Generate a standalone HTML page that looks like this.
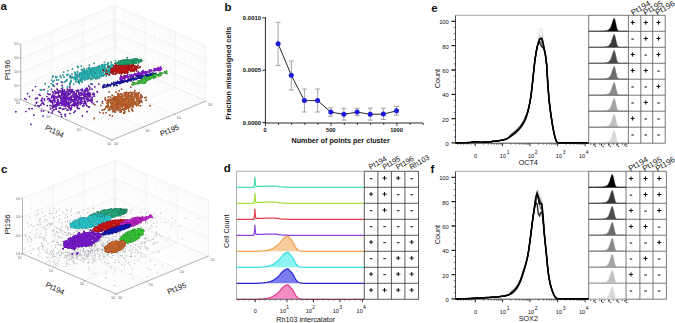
<!DOCTYPE html>
<html><head><meta charset="utf-8"><style>
html,body{margin:0;padding:0;background:#fff;width:675px;height:323px;overflow:hidden}
svg{display:block}
text{font-family:"Liberation Sans",sans-serif}
</style></head><body><svg width="675" height="323" viewBox="0 0 675 323"><path d="M30 103.6L124 64.6M121.4 136.1L30.2 95.6M30.2 95.6L30.2 40.1M124 64.6L124 9.1M35.3 105.9L129.3 66.9M126.9 133.8L35.7 93.3M35.7 93.3L35.7 37.8M129.3 66.9L129.3 11.4M39.1 107.6L133.1 68.6M130.9 132.2L39.7 91.7M39.7 91.7L39.7 36.2M133.1 68.6L133.1 13.1M42 108.9L136 69.9M133.9 130.9L42.7 90.4M42.7 90.4L42.7 34.9M136 69.9L136 14.4M44.5 110L138.5 71M136.4 129.9L45.2 89.4M45.2 89.4L45.2 33.9M138.5 71L138.5 15.5M46.5 110.9L140.5 71.9M138.5 129L47.3 88.5M47.3 88.5L47.3 33M140.5 71.9L140.5 16.4M48.3 111.7L142.3 72.7M140.3 128.3L49.1 87.8M49.1 87.8L49.1 32.3M142.3 72.7L142.3 17.2M49.8 112.4L143.8 73.4M141.9 127.6L50.7 87.1M50.7 87.1L50.7 31.6M143.8 73.4L143.8 17.9M60.4 117.1L154.4 78.1M152.8 123.1L61.6 82.6M61.6 82.6L61.6 27.1M154.4 78.1L154.4 22.6M65.7 119.4L159.7 80.4M158.3 120.8L67.1 80.3M67.1 80.3L67.1 24.8M159.7 80.4L159.7 24.9M69.5 121.1L163.5 82.1M162.2 119.2L71 78.7M71 78.7L71 23.2M163.5 82.1L163.5 26.6M72.4 122.4L166.4 83.4M165.2 117.9L74 77.4M74 77.4L74 21.9M166.4 83.4L166.4 27.9M74.9 123.5L168.9 84.5M167.7 116.9L76.5 76.4M76.5 76.4L76.5 20.9M168.9 84.5L168.9 29M76.9 124.4L170.9 85.4M169.8 116L78.6 75.5M78.6 75.5L78.6 20M170.9 85.4L170.9 29.9M78.7 125.2L172.7 86.2M171.6 115.3L80.4 74.8M80.4 74.8L80.4 19.3M172.7 86.2L172.7 30.7M80.2 125.9L174.2 86.9M173.2 114.6L82 74.1M82 74.1L82 18.6M174.2 86.9L174.2 31.4M90.8 130.6L184.8 91.6M184.1 110.1L92.9 69.6M92.9 69.6L92.9 14.1M184.8 91.6L184.8 36.1M96.1 132.9L190.1 93.9M189.6 107.8L98.4 67.3M98.4 67.3L98.4 11.8M190.1 93.9L190.1 38.4M99.9 134.6L193.9 95.6M193.5 106.2L102.3 65.7M102.3 65.7L102.3 10.2M193.9 95.6L193.9 40.1M102.8 135.9L196.8 96.9M196.6 104.9L105.4 64.4M105.4 64.4L105.4 8.9M196.8 96.9L196.8 41.4M105.3 137L199.3 98M199 103.9L107.8 63.4M107.8 63.4L107.8 7.9M199.3 98L199.3 42.5M107.3 137.9L201.3 98.9M201.1 103L109.9 62.5M109.9 62.5L109.9 7M201.3 98.9L201.3 43.4M109.1 138.7L203.1 99.7M203 102.3L111.8 61.8M111.8 61.8L111.8 6.3M203.1 99.7L203.1 44.2M110.6 139.4L204.6 100.4M204.6 101.6L113.4 61.1M113.4 61.1L113.4 5.6M204.6 100.4L204.6 44.9M20.8 95.3L114.8 56.3M114.8 56.3L206 96.8M20.8 92.9L114.8 53.9M114.8 53.9L206 94.4M20.8 91.1L114.8 52.1M114.8 52.1L206 92.6M20.8 89.8L114.8 50.8M114.8 50.8L206 91.3M20.8 88.7L114.8 49.7M114.8 49.7L206 90.2M20.8 87.8L114.8 48.8M114.8 48.8L206 89.3M20.8 87L114.8 48M114.8 48L206 88.5M20.8 86.3L114.8 47.3M114.8 47.3L206 87.8M20.8 81.4L114.8 42.4M114.8 42.4L206 82.9M20.8 79L114.8 40M114.8 40L206 80.5M20.8 77.3L114.8 38.3M114.8 38.3L206 78.8M20.8 75.9L114.8 36.9M114.8 36.9L206 77.4M20.8 74.8L114.8 35.8M114.8 35.8L206 76.3M20.8 73.9L114.8 34.9M114.8 34.9L206 75.4M20.8 73.1L114.8 34.1M114.8 34.1L206 74.6M20.8 72.4L114.8 33.4M114.8 33.4L206 73.9M20.8 67.6L114.8 28.6M114.8 28.6L206 69.1M20.8 65.1L114.8 26.1M114.8 26.1L206 66.6M20.8 63.4L114.8 24.4M114.8 24.4L206 64.9M20.8 62.1L114.8 23.1M114.8 23.1L206 63.6M20.8 61L114.8 22M114.8 22L206 62.5M20.8 60L114.8 21M114.8 21L206 61.5M20.8 59.2L114.8 20.2M114.8 20.2L206 60.7M20.8 58.5L114.8 19.5M114.8 19.5L206 60M20.8 53.7L114.8 14.7M114.8 14.7L206 55.2M20.8 51.3L114.8 12.3M114.8 12.3L206 52.8M20.8 49.5L114.8 10.5M114.8 10.5L206 51M20.8 48.2L114.8 9.2M114.8 9.2L206 49.7M20.8 47.1L114.8 8.1M114.8 8.1L206 48.6M20.8 46.1L114.8 7.1M114.8 7.1L206 47.6M20.8 45.3L114.8 6.3M114.8 6.3L206 46.8M20.8 44.6L114.8 5.6M114.8 5.6L206 46.1M31.9 257.8L124.4 219.8M125.3 290.2L31.8 250M31.8 250L31.8 194.5M124.4 219.8L124.4 164.3M37.4 260.2L129.9 222.2M130.7 288L37.2 247.8M37.2 247.8L37.2 192.3M129.9 222.2L129.9 166.7M41.3 261.9L133.8 223.9M134.6 286.4L41.1 246.2M41.1 246.2L41.1 190.7M133.8 223.9L133.8 168.4M44.3 263.2L136.8 225.2M137.6 285.1L44.1 244.9M44.1 244.9L44.1 189.4M136.8 225.2L136.8 169.7M46.8 264.2L139.3 226.2M140 284.1L46.5 243.9M46.5 243.9L46.5 188.4M139.3 226.2L139.3 170.7M48.8 265.1L141.3 227.1M142.1 283.3L48.6 243.1M48.6 243.1L48.6 187.6M141.3 227.1L141.3 171.6M50.6 265.9L143.1 227.9M143.8 282.6L50.3 242.4M50.3 242.4L50.3 186.9M143.1 227.9L143.1 172.4M52.2 266.6L144.7 228.6M145.4 281.9L51.9 241.7M51.9 241.7L51.9 186.2M144.7 228.6L144.7 173.1M63 271.2L155.5 233.2M156.1 277.5L62.6 237.3M62.6 237.3L62.6 181.8M155.5 233.2L155.5 177.7M68.5 273.6L161 235.6M161.5 275.3L68 235.1M68 235.1L68 179.6M161 235.6L161 180.1M72.4 275.3L164.9 237.3M165.4 273.7L71.9 233.5M71.9 233.5L71.9 178M164.9 237.3L164.9 181.8M75.5 276.6L168 238.6M168.4 272.5L74.9 232.3M74.9 232.3L74.9 176.8M168 238.6L168 183.1M77.9 277.6L170.4 239.6M170.8 271.5L77.3 231.3M77.3 231.3L77.3 175.8M170.4 239.6L170.4 184.1M80 278.5L172.5 240.5M172.9 270.6L79.4 230.4M79.4 230.4L79.4 174.9M172.5 240.5L172.5 185M81.8 279.3L174.3 241.3M174.7 269.9L81.2 229.7M81.2 229.7L81.2 174.2M174.3 241.3L174.3 185.8M83.4 280L175.9 242M176.3 269.2L82.8 229M82.8 229L82.8 173.5M175.9 242L175.9 186.5M94.2 284.6L186.7 246.6M186.9 264.9L93.4 224.7M93.4 224.7L93.4 169.2M186.7 246.6L186.7 191.1M99.7 287L192.2 249M192.4 262.6L98.9 222.4M98.9 222.4L98.9 166.9M192.2 249L192.2 193.5M103.6 288.7L196.1 250.7M196.2 261L102.7 220.8M102.7 220.8L102.7 165.3M196.1 250.7L196.1 195.2M106.6 290L199.1 252M199.2 259.8L105.7 219.6M105.7 219.6L105.7 164.1M199.1 252L199.1 196.5M109.1 291L201.6 253M201.7 258.8L108.2 218.6M108.2 218.6L108.2 163.1M201.6 253L201.6 197.5M111.2 291.9L203.7 253.9M203.7 258L110.2 217.8M110.2 217.8L110.2 162.3M203.7 253.9L203.7 198.4M113 292.7L205.5 254.7M205.5 257.2L112 217M112 217L112 161.5M205.5 254.7L205.5 199.2M114.6 293.4L207.1 255.4M207.1 256.6L113.6 216.4M113.6 216.4L113.6 160.9M207.1 255.4L207.1 199.9M22.5 248.2L115 210.2M115 210.2L208.5 250.4M22.5 245L115 207M115 207L208.5 247.2M22.5 242.7L115 204.7M115 204.7L208.5 244.9M22.5 240.9L115 202.9M115 202.9L208.5 243.1M22.5 239.4L115 201.4M115 201.4L208.5 241.6M22.5 238.2L115 200.2M115 200.2L208.5 240.4M22.5 237.1L115 199.1M115 199.1L208.5 239.3M22.5 236.1L115 198.1M115 198.1L208.5 238.3M22.5 229.7L115 191.7M115 191.7L208.5 231.9M22.5 226.5L115 188.5M115 188.5L208.5 228.7M22.5 224.2L115 186.2M115 186.2L208.5 226.4M22.5 222.4L115 184.4M115 184.4L208.5 224.6M22.5 220.9L115 182.9M115 182.9L208.5 223.1M22.5 219.7L115 181.7M115 181.7L208.5 221.9M22.5 218.6L115 180.6M115 180.6L208.5 220.8M22.5 217.6L115 179.6M115 179.6L208.5 219.8M22.5 211.2L115 173.2M115 173.2L208.5 213.4M22.5 208L115 170M115 170L208.5 210.2M22.5 205.7L115 167.7M115 167.7L208.5 207.9M22.5 203.9L115 165.9M115 165.9L208.5 206.1M22.5 202.4L115 164.4M115 164.4L208.5 204.6M22.5 201.2L115 163.2M115 163.2L208.5 203.4M22.5 200.1L115 162.1M115 162.1L208.5 202.3M22.5 199.1L115 161.1M115 161.1L208.5 201.3" stroke="#f4f4f4" stroke-width="0.4" fill="none"/><path d="M20.8 99.5L114.8 60.5M112 140L20.8 99.5M20.8 99.5L20.8 44M114.8 60.5L114.8 5M51.2 113L145.2 74M143.3 127L52.1 86.5M52.1 86.5L52.1 31M145.2 74L145.2 18.5M81.6 126.5L175.6 87.5M174.7 114L83.5 73.5M83.5 73.5L83.5 18M175.6 87.5L175.6 32M112 140L206 101M206 101L114.8 60.5M114.8 60.5L114.8 5M206 101L206 45.5M20.8 99.5L114.8 60.5M114.8 60.5L206 101M20.8 85.6L114.8 46.6M114.8 46.6L206 87.1M20.8 71.8L114.8 32.8M114.8 32.8L206 73.2M20.8 57.9L114.8 18.9M114.8 18.9L206 59.4M20.8 44L114.8 5M114.8 5L206 45.5M22.5 253.8L115 215.8M116 294L22.5 253.8M22.5 253.8L22.5 198.3M115 215.8L115 160.3M53.7 267.2L146.2 229.2M146.8 281.3L53.3 241.1M53.3 241.1L53.3 185.6M146.2 229.2L146.2 173.7M84.8 280.6L177.3 242.6M177.7 268.7L84.2 228.5M84.2 228.5L84.2 173M177.3 242.6L177.3 187.1M116 294L208.5 256M208.5 256L115 215.8M115 215.8L115 160.3M208.5 256L208.5 200.5M22.5 253.8L115 215.8M115 215.8L208.5 256M22.5 235.3L115 197.3M115 197.3L208.5 237.5M22.5 216.8L115 178.8M115 178.8L208.5 219M22.5 198.3L115 160.3M115 160.3L208.5 200.5" stroke="#e6e6e6" stroke-width="0.5" fill="none"/><path d="M20.8 99.5L20.8 44M20.8 99.5L112 140M112 140L206 101M20.8 99.5L19.3 99.5M20.8 85.6L19.3 85.6M20.8 71.8L19.3 71.8M20.8 57.9L19.3 57.9M20.8 44L19.3 44M20.8 99.5L19.6 100.5M112 140L113.2 141M51.2 113L50 114M143.3 127L144.5 128M81.6 126.5L80.4 127.5M174.7 114L175.9 115M112 140L110.8 141M206 101L207.2 102M22.5 253.8L22.5 198.3M22.5 253.8L116 294M116 294L208.5 256M22.5 253.8L21 253.8M22.5 235.3L21 235.3M22.5 216.8L21 216.8M22.5 198.3L21 198.3M22.5 253.8L21.3 254.8M116 294L117.2 295M53.7 267.2L52.5 268.2M146.8 281.3L148 282.3M84.8 280.6L83.6 281.6M177.7 268.7L178.9 269.7M116 294L114.8 295M208.5 256L209.7 257" stroke="#888" stroke-width="0.6" fill="none"/><text x="18.3" y="100.7" font-size="3.8" text-anchor="end" fill="#666">10</text><text x="18.3" y="86.8" font-size="3.8" text-anchor="end" fill="#666">10</text><text x="18.3" y="73" font-size="3.8" text-anchor="end" fill="#666">10</text><text x="18.3" y="59.1" font-size="3.8" text-anchor="end" fill="#666">10</text><text x="18.3" y="45.2" font-size="3.8" text-anchor="end" fill="#666">10</text><text x="17.8" y="104.2" font-size="3.8" text-anchor="middle" fill="#666">10</text><text x="116" y="144.7" font-size="3.8" text-anchor="middle" fill="#666">10</text><text x="48.2" y="117.7" font-size="3.8" text-anchor="middle" fill="#666">10</text><text x="147.3" y="131.7" font-size="3.8" text-anchor="middle" fill="#666">10</text><text x="78.6" y="131.2" font-size="3.8" text-anchor="middle" fill="#666">10</text><text x="178.7" y="118.7" font-size="3.8" text-anchor="middle" fill="#666">10</text><text x="109" y="144.7" font-size="3.8" text-anchor="middle" fill="#666">10</text><text x="210" y="105.7" font-size="3.8" text-anchor="middle" fill="#666">10</text><g fill="none" stroke-linecap="round" stroke="#450e78" stroke-width="1.7"><path id="k16" d="M94.5 96.2h0M29.5 96.6h0M70.6 89.5h0M58.5 102.5h0M59.1 95.7h0M61.5 88.5h0M37.4 98.5h0M63.6 105h0M53.6 97.6h0M112.9 98.5h0M70.5 108.4h0M61.1 99.9h0M61.1 92.3h0M55.6 91.9h0M51.3 100.9h0M61.4 105.4h0M72.9 99.8h0M63.2 103h0M78.9 94.3h0M63.5 101.3h0M65.9 95.9h0M87.1 93.9h0M72.4 89.6h0M57.6 89.9h0M63 96.3h0M72.5 90.8h0M92 89.1h0M62.9 103.8h0M62.5 98.8h0M82.5 115.8h0M54.5 106.7h0M61.4 95.5h0M78.9 102.3h0M74.4 100.2h0M66.6 94.4h0M76.3 104.8h0M26.1 99.5h0M77.4 77.3h0M53.4 106h0M42.3 98.3h0M71.2 108h0M75.1 93.5h0M58.8 92.3h0M52.5 111.1h0M65.4 92h0M65.5 100.4h0M86.8 105.6h0M76.5 98.3h0M68.6 98.1h0M81.5 97.5h0M63.9 104.8h0M52.4 95.6h0M74.6 101.8h0M74.6 101.6h0M65.1 114.4h0M54.8 98.4h0M68.3 92.7h0M32.1 108.6h0M75.2 95.1h0M73.1 99.9h0M43.4 103h0M67.9 106.4h0M52 96.7h0M76.4 96.9h0M35.5 86.5h0M52.5 95.1h0M77.2 107.5h0M81.4 92.4h0M35.4 98.7h0M58 92.1h0M71.1 102.1h0M57.7 101.3h0M87 88.3h0M50.1 105.6h0M71.2 100h0M52.1 105.9h0M84.9 92.1h0M67.3 110.2h0M61.2 102.4h0M42.1 101.6h0M88.8 92.4h0M76.2 96h0M77.2 103.1h0M81.5 95.1h0M71.8 105.3h0M57.7 104h0M56.1 109.2h0M55.6 105.8h0M84.9 95.9h0M44 89.6h0M58 102.1h0M62.3 104.7h0M69.3 99.6h0M74.5 101.5h0M48.3 98.4h0M41.7 99.9h0M65.1 92.9h0M84.1 105.4h0M76.6 98.5h0M68.5 95.4h0M60.4 91h0M69.9 97.4h0M63.9 108.8h0M77.7 100.4h0M54.3 95.9h0M69.2 107.9h0M65.8 108.4h0M74.4 104.3h0M69.8 103.6h0M102.4 101.5h0M87.3 99.6h0M87.5 101.1h0M37 98h0M62.6 109.3h0M57.8 101.7h0M75.2 111h0M32.6 90.3h0M82.9 101.3h0M81.7 103.2h0M47.6 99.3h0M52.8 103.8h0M55.6 105.4h0M67.1 102.6h0M74.4 94.3h0M94.3 94.1h0M64.2 105.9h0M77.8 105.7h0M68.2 99.3h0M90.5 96.1h0M76.5 98.8h0M85.9 103h0M50.1 94.3h0M62.1 90.8h0M54.8 101.4h0M85.9 88.9h0M74.6 93.9h0M61.8 100.2h0M60.2 103h0M71.7 91.2h0M57 105.5h0M51.5 89.4h0M73.2 101.6h0M98.7 84h0M61.4 91.3h0M58.9 104.2h0M49.4 98.7h0M46.8 96.5h0M72.9 95.1h0M78.2 100.3h0M66.1 98.6h0M70.6 98.2h0M68.6 105.6h0M67.3 94.1h0M44.4 98.9h0M59.2 96.5h0M68.6 106.3h0M56 106.9h0M60.6 108.2h0M54.6 100.4h0M61.2 98.6h0M78.6 102.8h0M60 97.3h0M64.6 104.6h0M77.9 102.1h0M74.3 93.2h0M89.4 95.2h0M36.9 102.3h0M79.4 108.5h0M61.7 116.6h0M67.8 98.1h0M77.6 97.5h0M79 82.2h0M80.6 98.3h0M68.1 98.7h0M87.3 89h0M62.8 104.6h0M62.6 89.2h0M76.9 96.1h0M58.5 101h0M94.8 86.8h0M80.9 102.5h0M97.1 101.6h0M64.4 90.1h0M59.4 90.7h0M68.9 102.6h0M76.2 97.4h0M56.8 92.3h0M71 96.4h0M65.7 98.3h0M88.3 94.9h0M57.6 105.6h0M80.9 99.4h0M58.7 111.6h0M53.9 109.7h0M56.8 104.8h0M50.5 108.3h0M69.2 107.2h0M80.9 101.5h0M67.2 90.8h0M75.4 103.3h0M88.7 96.3h0M71.2 108.9h0M68.8 99.2h0M62.7 102.9h0M44 104.3h0M78.1 108.3h0M41.8 103.6h0M74.8 96h0M66.1 101h0M81.2 94h0M65.2 100.2h0M54.6 100.6h0M71.2 100.1h0M60 112.5h0M63.1 96.7h0M66.6 99.2h0M64 98h0M64 103.7h0M53.4 93h0M62.8 94.9h0M36.3 102.9h0M64.3 102.8h0M49.3 101h0M81.1 93.6h0M82.8 90.9h0M39.4 106.1h0M69.3 108h0M64.5 101.3h0M51.7 102.3h0M73.8 100.8h0M58.7 93.8h0M41.2 100.4h0M62.1 97.8h0M64.2 101.2h0M67.4 98.6h0M47.8 93.6h0M75.6 105h0M77.7 108.5h0M49.9 99.5h0M57.2 102.9h0M65.1 100.9h0M58.9 105.2h0M88.8 86.1h0M70.3 109h0M51.6 98h0M56.2 108.7h0M65.3 99.6h0M97.5 92h0M63.4 98.4h0M68.6 104.5h0M72.3 92.4h0M65.1 96.7h0M97.2 91.5h0M57.1 89h0M77.5 105.9h0M68.7 102.4h0M74.6 97.7h0M50.7 108.8h0M89.6 89.4h0M64.2 98.8h0M68 110h0M53.9 107.1h0M53.9 86.1h0M70.8 76.5h0M78.7 90.4h0M77.4 104.4h0M82.3 93.6h0M75.7 96.2h0M66.9 102.9h0M76.8 91.7h0M74.4 99.2h0M65.3 104.3h0M76.5 100.6h0M84.2 99h0M68.7 94.7h0M61.5 103h0M75.6 94.8h0M93.5 103.7h0M65.4 116h0M64.1 94.4h0M62.1 85.3h0M82.6 93.9h0M40.9 105h0M72 105h0M83.5 103.6h0M54 95.5h0M85.9 91h0M74.6 106.1h0M57.4 93h0M69.8 105.6h0M44.5 100.5h0M58.9 105h0M92 100h0M54.3 105.7h0M92.3 100.7h0M64 92.8h0M80.1 99h0M66.6 99h0M35.2 105.4h0M59.2 108.1h0M84.8 100.4h0M79 98.4h0M77 102.8h0M84.5 96.8h0M78.5 96.6h0M81.1 101h0M53.7 100.6h0M80.9 93.4h0M53.1 100.7h0M73.2 105h0M71.4 98.5h0M62.8 100.3h0M68.1 102.2h0M54.8 100.5h0M58.7 102h0M87.4 99h0M76.2 95.4h0M83.9 95.4h0M63.4 97.1h0M88.8 99.9h0M87.5 92h0M64.2 101.9h0M56.8 104.5h0M72 100.6h0M74.7 96.7h0M66.5 93.2h0M66.8 104.7h0M57.5 105.1h0M57.9 101.8h0M66 100.3h0M63.1 92.6h0M74.8 96.9h0M92.2 97.4h0M79.1 92.8h0M76 94.9h0M74 100.5h0M92.5 94.3h0M86.9 90.2h0M69.9 94.1h0M90.4 100.9h0M52.2 102.2h0M72.1 92.6h0M67.1 97.4h0M80.4 97.8h0M72.7 91.8h0M63.4 100.5h0M74.2 100.9h0M65.5 101.8h0M89.5 100.5h0M69.3 99h0M93.9 96h0M87.3 95.8h0M85.4 101.6h0M63.9 103.5h0M65.8 106h0M62.7 99.4h0M66.2 101.8h0M84 92.3h0M78.9 102.4h0M85.1 96h0M62.4 101.5h0M78.8 96.5h0M64.3 103.5h0M90.6 99.3h0M81.9 89.6h0M80.5 101.2h0M70.1 89.2h0M87.8 90.1h0M75.1 101.9h0M69.1 100.5h0M52.4 96.5h0M86.5 89.9h0M82.8 90.9h0M49.7 100.6h0M57.3 96.6h0M76.8 91.1h0M75.7 99h0M84.4 94h0M85.8 89.8h0M73 100.1h0M65.9 95.8h0M71.4 96h0M61.8 93.8h0M88.3 98.7h0M87.7 98.2h0M76.4 104.9h0M87.4 100.2h0M53.9 100.1h0M69.9 91.1h0M57.3 96.3h0M77.1 95.7h0M64.9 98.4h0M54.8 101.5h0M79.6 99.5h0M86 94.5h0M62.8 92.4h0M89.5 94.8h0M82.2 94.7h0M82.4 98.7h0M65 96.3h0M53.5 100h0M71.8 90.3h0M80.1 97.5h0M65.2 94.5h0M65 96.1h0M60 103.5h0M81.1 99.8h0M62.9 91.1h0M83.4 97.6h0M63 104.3h0M90.1 96.8h0M65 106h0M72.8 104.7h0M55.2 93.6h0M64.3 92.3h0M71.6 97.1h0M61.2 101.2h0M71.8 90.2h0M64.4 94.1h0M53.7 97.9h0M73.1 94.5h0M90 94.4h0M58 99.6h0M93.4 93.3h0M67.5 96.4h0M61.9 101.9h0M52.3 100.7h0M63.5 94h0M66.3 103.4h0M83.5 94h0M66.8 99.8h0M62.5 95.1h0M85 90h0M80.9 90h0M65.7 93.9h0M67.1 91.2h0M72.1 89.9h0M54.1 95.4h0M67.2 98.8h0M79.2 94.7h0M84.7 103.2h0M80.7 99.9h0M65 105.2h0M74.4 104h0M92.9 94h0M65.7 97.7h0M88 90.3h0M51.5 97.1h0M74.7 101.3h0M85.1 91h0M73.3 96.9h0M87.7 101.4h0M73 91.9h0M53.8 96.3h0M81.5 103.4h0M70.2 98.9h0M69 89.8h0M75.1 99.7h0M64.7 96.2h0M56.8 97.9h0M60.6 97.9h0M80.3 102.9h0M76.2 93.7h0M54.3 97.7h0M63.8 91.4h0M55.7 93.2h0M66.3 103h0M70.5 93.1h0M58.5 102.8h0M88 92.6h0M51 101.9h0M78.6 103h0M57.4 100.3h0M62.5 101.4h0M90.4 93.4h0M66.2 104.5h0M76.6 95.6h0M84.4 96.9h0M78.5 99.4h0M68.1 103.7h0M70.7 92.4h0M64.5 96.3h0M57.9 102.1h0M56.5 102.7h0M78.8 92.6h0M77.1 104.6h0M73.4 94.7h0M68.3 99.4h0M64.5 91.6h0M78.4 91h0M54.4 102.5h0M80.3 104.4h0M73.6 103.4h0M73.2 105.1h0M87.6 99.8h0M57.6 101.7h0M61.5 93.8h0M55.3 104.8h0M84.8 94.8h0M85.6 94h0M74 91.5h0M76.2 90.5h0M70 99.7h0M72.2 90.6h0M76.3 97.6h0M86.1 96.7h0M86.1 98.4h0M65.6 104h0M68.9 91.4h0M89.6 97h0M69.4 98.7h0M60.9 95.9h0M82.6 90.4h0M58.2 96.8h0M73.4 105.1h0M86.8 99.2h0M54.7 99.1h0M77.8 90.3h0M82.4 89h0M70.9 97.2h0M55.4 96.7h0M43.5 111.1h0M80.4 92.9h0M68.7 105h0M52.2 113.1h0M63.5 102.6h0M92 98.8h0M88.3 106.8h0M71.4 107.6h0M69.9 87h0M54.7 91.2h0M61.2 114.3h0M75.7 103.7h0M57.2 83.9h0M67.2 89.1h0M38.1 105.7h0M24.8 98.5h0M25.9 111.5h0M52.9 104.1h0M91.9 102.4h0M86.7 88.1h0M41.4 110.7h0M30.9 124.3h0M78.7 92.6h0M74.1 112.4h0M33.8 115.1h0M86.2 104.6h0M66.1 101h0M89.8 87.7h0M68.7 93.3h0M82.7 106.2h0M70.6 109.9h0M43.1 116h0M58.5 111.4h0M48.7 112.3h0M79.9 95.7h0M39.1 94.5h0M29.2 108.7h0M77.8 104.5h0M87.4 99.4h0M91.9 84.2h0M85.5 94.2h0M27.6 93.6h0M47.3 105.6h0M49 94.5h0M61.6 100.8h0M15.8 111.7h0M62.3 103.4h0M70 113.5h0M40.2 95.3h0M62.1 82.4h0M89.4 107h0M65 114.6h0M87.1 111.7h0M84.7 101.6h0M71.9 105.8h0M70.8 102.1h0M52.6 91.8h0M88.6 93.3h0M52.6 108.1h0"/></g><use href="#k16" fill="none" stroke-linecap="round" stroke="#7418c8" stroke-width="1.2"/><g fill="none" stroke-linecap="round" stroke="#753a19" stroke-width="1.7"><path id="k17" d="M117.3 105.8h0M142 101.8h0M105.5 98.7h0M118.5 104.6h0M131.6 93.7h0M116.8 105.1h0M111.6 105.7h0M107.8 100.2h0M115.5 104.6h0M138.3 103.3h0M126.9 103.1h0M128 103.3h0M116.2 99.3h0M129.6 96.6h0M122 96.5h0M113.6 104.9h0M119.4 108.6h0M124.8 103.4h0M133.6 98.9h0M120.4 96.9h0M127.7 102.7h0M141.5 95.6h0M112.2 95.2h0M108.2 97.1h0M131.4 97.8h0M125.5 96.6h0M123.4 109.8h0M124.9 101.4h0M117.9 98h0M126.7 98.3h0M121.1 110.1h0M128.9 95.5h0M112 108.5h0M115 106.1h0M125.3 108.4h0M118.5 105.6h0M128.6 98.3h0M122.6 104.5h0M117.2 103.6h0M125.6 105.9h0M117.2 103h0M109.8 115.1h0M111.3 104.4h0M115.2 106h0M117 100.1h0M123.5 102.3h0M131.2 99.7h0M127.9 101.3h0M140.7 101.5h0M134.1 96.2h0M119.6 98.5h0M139.7 102.8h0M133.5 97.6h0M117.2 100h0M126.9 106.5h0M134 102.7h0M121.5 89.1h0M131.8 97.6h0M127.2 104.6h0M130.3 104h0M118.8 100.4h0M128.1 108.2h0M118 99.2h0M128.7 99.1h0M106.3 106.9h0M125.7 101.1h0M135.6 102.5h0M129.3 105.2h0M122.2 101.8h0M129.4 107h0M113.5 101h0M114.2 103.2h0M121.1 110.9h0M121.2 102.8h0M133.1 104.4h0M113.3 102.3h0M131.8 98.2h0M107.2 105.6h0M115.1 104.8h0M121.7 100.5h0M133.7 99.1h0M117.4 106.7h0M103.3 113.1h0M126.7 101.4h0M123 105.1h0M113.2 109h0M111.1 99.8h0M113.8 96.6h0M125.4 109.2h0M130.5 106.4h0M108.3 106.1h0M145 97.7h0M121 97.8h0M117.2 96.6h0M129.4 101.8h0M121.7 94.9h0M146.2 100.2h0M132.2 96.1h0M119.3 104.3h0M121.1 112h0M120 112h0M118.8 101.7h0M130.3 105.2h0M115 98.9h0M137.3 95.2h0M122.1 103.9h0M122.8 108.8h0M130.9 96.9h0M104 109.6h0M113.5 104.9h0M126.7 94.6h0M122.4 101.4h0M124.2 109h0M126.2 100.6h0M117.3 105.9h0M121.8 106.3h0M108.4 102.1h0M105.9 112.6h0M136.5 105.7h0M115.4 111.8h0M117.1 109.9h0M135.3 96.3h0M131.9 96.6h0M116.4 99.7h0M116.2 99.2h0M120.6 98.5h0M114.4 109.1h0M129.5 107.3h0M123 98.7h0M124.7 105.4h0M128.1 94.2h0M128.9 98.6h0M139 92.6h0M135 90.5h0M105.9 106.7h0M131.2 100h0M111.1 103h0M108 103.3h0M128 95.6h0M115.4 103.2h0M118.6 100h0M133 100.3h0M114.5 98.1h0M114 105.3h0M126.2 103.5h0M135.7 104.5h0M128.8 105.4h0M107.6 106.9h0M115.2 100.5h0M118.6 93.9h0M141 96.9h0M132.8 106.2h0M132.7 107.4h0M130.8 87.1h0M118.5 99.2h0M126.6 99.1h0M125.8 95.8h0M113.2 105.3h0M122.3 102.2h0M127.2 98.1h0M111.9 104.6h0M128.2 92.5h0M128.5 95.5h0M131.3 95.1h0M116 108.1h0M121.4 94.1h0M136.2 97.2h0M131 103.5h0M114.7 103.7h0M125.6 105.1h0M135.3 95.2h0M122.2 104.1h0M127.2 105.1h0M150 105.6h0M122.9 105.4h0M123.1 108.8h0M112.7 104.6h0M116.1 104.1h0M138.7 105.4h0M121.7 105h0M112.6 111.6h0M114.2 107.7h0M125 111.8h0M132.7 111h0M114.1 100h0M131.5 108.8h0M118.1 105.3h0M126.3 103.3h0M127.2 100.1h0M129 103.8h0M116.7 98h0M119.7 99.1h0M126.2 97.2h0M110.1 106.7h0M125 105.9h0M128.1 104.2h0M132.7 101.1h0M121.1 99.4h0M118.2 94.4h0M124 103.6h0M115.2 104.7h0M120.5 104.3h0M127.8 107.7h0M124.6 100.5h0M111.7 103.9h0M116 92.2h0M102.3 110.2h0M129.7 99.8h0M116 100.1h0M124.8 103.3h0M110.1 100.1h0M120.5 99.9h0M128.7 110.1h0M132.4 103.1h0M110 110h0M131 103.5h0M121.1 105.6h0M114.7 105.1h0M129.3 111.5h0M119 102.6h0M119.9 106.3h0M114.8 103h0M123.6 100h0M119.2 90.8h0M117.8 93.7h0M114.6 111.8h0M118.8 110.4h0M125.2 99.1h0M134.2 98.7h0M122.3 105.1h0M134.3 93.9h0M123.9 110.4h0M110 100.1h0M127 97.2h0M109.1 91.8h0M127.6 108.1h0M132.2 99.6h0M120.9 110.4h0M119.7 97.7h0M146.1 97.3h0M124.2 101.8h0M124.6 102.4h0M131.9 109.7h0M123.7 112.9h0M122.7 108.7h0M125 99.3h0M99.9 112.4h0M137.2 104.7h0M112.2 107.5h0M112.1 107.5h0M127.6 102.9h0M121 97.9h0M110.1 106.5h0M125.9 109h0M109.6 100.4h0M115.2 104.3h0M108.4 109.9h0M112.2 97.9h0M125.5 100.4h0M120.9 93.9h0M124.1 98.5h0M129 93.2h0M120.3 98h0M114.9 101.5h0M118.8 101.5h0M137.5 96.9h0M119.2 90.8h0M126.9 108.6h0M120.6 101h0M122.8 96.3h0M125.2 98h0M122.1 103.5h0M119.1 97.8h0M113.8 102.1h0M113.1 102.1h0M126.4 103.5h0M128.1 96.6h0M131.3 101.8h0M122.8 103.5h0M113.7 103.5h0M129.4 106.2h0M127.8 100.6h0M105.9 100.5h0M129.9 101.4h0M127.6 101.1h0M137.8 97.6h0M111.3 106h0M112.4 116.2h0M129.7 101.1h0M105.1 108.8h0M114.5 102.8h0M112.9 110.9h0M112 104.4h0M102.5 103.2h0M118 97h0M131.9 102h0M127 104.3h0M124.2 93.5h0M117.5 99.6h0M136.6 101.3h0M123 98.7h0M120.3 103.8h0M120.7 102.7h0M128.8 100.5h0M119.9 103.9h0M136.3 95.7h0M133.6 100.4h0M139.1 93h0M132.3 93.8h0M125 92.8h0M133.8 104.4h0M132 92.3h0M141.4 95.2h0M119.9 106.7h0M130.5 102.3h0M127.3 102.1h0M124.3 109h0M124.7 104.9h0M141.1 100.2h0M129.1 106.5h0M114.3 109.2h0M123.6 99.5h0M141.4 96h0M129.3 99.7h0M137.1 93.6h0M126.5 99.4h0M141.4 95.2h0M119.6 102.2h0M119.1 104.5h0M127.6 105.5h0M122.8 104.7h0M124.5 103.6h0M124.3 105.9h0M120.3 102.9h0M137.4 100h0M135.9 103.1h0M112.7 106.4h0M137.9 98.3h0M128.1 96.4h0M119.9 96.5h0M125.7 107.1h0M124.2 93h0M136.8 96.6h0M126.4 92.4h0M122.3 106.5h0M111.9 100.1h0M119.1 95.4h0M126.7 98.1h0M111.6 108.8h0M125 108.3h0M119.3 103.9h0M138.8 98.9h0M130.7 95.2h0M119.5 99.1h0M115.5 102.5h0M117.3 101.8h0M140.7 94.6h0M140.7 98.2h0M136.3 93.9h0M122.6 104.8h0M108.3 105.1h0M115.5 104.8h0M119.7 107.5h0M122.3 102.3h0M107.3 102.1h0M121 106.3h0M128.2 106.7h0M130.3 99.4h0M121 105h0M107.9 104.3h0M139.1 99.2h0M138.1 99.2h0M131.4 95.4h0M138.7 97.4h0M139.7 101.1h0M115.4 109.3h0M115.1 96.8h0M116.6 98.2h0M111.9 102.4h0M109.6 108.6h0M117.1 105.5h0M137.3 99h0M121.6 97.8h0M130.8 94.9h0M132.9 98.5h0M122.9 108.9h0M107.9 107.7h0M124.8 105.8h0M119 95.1h0M119.7 94.8h0M133 105.6h0M129.2 106.5h0M131 97.2h0M111 100.7h0M129.3 103.4h0M117.2 107.3h0M120.2 102.8h0M123.1 100.2h0M130.3 92.3h0M127.1 94.9h0M134.4 102.2h0M137.6 100.5h0M121.8 100.4h0M117.8 96.3h0M138.2 100.9h0M119.5 102h0M128.7 92.8h0M122.8 95.4h0M131.3 94.5h0M113.8 102.4h0M120 102.7h0M117.5 100.1h0M121.2 98.2h0M126 107.8h0M121.7 95.1h0M113.8 109.8h0M131.9 98.8h0M125.3 108h0M125.1 94h0M131.2 94.9h0M124.9 93.8h0M118.8 99.6h0M134.2 93.4h0M133.4 99.8h0M116.5 107.6h0M138.4 95.9h0M115.3 102.8h0M114.8 110h0M124.9 103.6h0M121.1 109.3h0M142.2 97h0M117.7 95.5h0M136.4 98.7h0M121.8 94.2h0M138.6 98.7h0M136.7 104.1h0M110.5 107.3h0M130 100.8h0M137.4 99.2h0M129 99.3h0M135.9 95.7h0M120 99.7h0M119.7 96.5h0M135.4 103.8h0M127 100.5h0M125.3 105.6h0M119.4 102.3h0M123.6 96.4h0M113.6 105.2h0M122.7 102.1h0M133.8 100.4h0M133 104.5h0M113.7 106.4h0M124 103.9h0M114.3 106.1h0M121.9 100.8h0M124 104.1h0M135.2 96.6h0M116.7 102.1h0M137 96.3h0M117.8 103.1h0M109 101.5h0M140.5 95.9h0M113.8 109.2h0M118.4 95.5h0M124.8 94.4h0M127.6 107.7h0M120.1 104.1h0M121.7 102.9h0M132.4 102.1h0M120.6 109.7h0M122.3 106.9h0M126.4 94.4h0M133 97.9h0M137.7 97.6h0M112.5 98.4h0M115.1 98.2h0M123.8 102.7h0M127.4 95.6h0M115.5 106.4h0M129.9 100.7h0M127.5 100.6h0M116 96.9h0M126 100.3h0M114.4 102h0M137.5 95.8h0M129.1 106.8h0M127.4 104.2h0M126.6 98.5h0M116.7 109.8h0M116 97h0M109.5 101h0M112.3 107.9h0M118.7 95.7h0M121.3 99.7h0M130.5 99h0M136 92.8h0M120.4 97.6h0M117.2 108.2h0M111.6 99.5h0M124.8 106.7h0M128 99.1h0M115 98.1h0M131.1 104.1h0M126.5 96.1h0M123.7 95.5h0M137.1 96h0M127.5 99.9h0M112.7 104.3h0M129.9 102.3h0M133.4 103h0M131.8 99.4h0M131.9 103.4h0M122 95.9h0M131.3 99h0M115.6 104.4h0M115.8 97.7h0M130.8 105.2h0M109.9 99.3h0M114.8 97.9h0M110.4 102.8h0M142.3 97.2h0M109 99.6h0M135.5 101.5h0M136.7 99h0M134.3 92.2h0M129.2 95.5h0M137.6 93.7h0M130.9 101.3h0M121.9 104.8h0M128.6 103.9h0M119 107.5h0M132.4 102.5h0M115.6 102.3h0M125.4 98.3h0M128.6 99.2h0M127.9 92.5h0M108 106.3h0M114.9 109.1h0M118.4 108.3h0M112.9 99.7h0M117.1 97.8h0M115.8 108.6h0M114.1 100h0M136.1 103.8h0M132.8 100.1h0M126.2 95h0M131.7 105.7h0M132.1 94.2h0M138.3 94.7h0M140.6 105.7h0M114.5 104h0M138.5 102.1h0M126.4 98.8h0M136.6 99.5h0M116.8 108.5h0M118.3 105.7h0M137.8 104.2h0M127.5 101h0M124.5 113.1h0M110.3 96.8h0M118.8 101.4h0M127.5 107h0M128.7 100.4h0M113.6 103.4h0M114.3 96.3h0M127.1 108.3h0M105.2 98.1h0M132 103.4h0M120.6 104.8h0M119.9 108.5h0M94.2 118.4h0M100.8 105.4h0M107.1 103.2h0M112.9 104.2h0M105.1 99h0M125.4 106.7h0M121 101.6h0M117.1 105.5h0M94.9 104.8h0"/></g><use href="#k17" fill="none" stroke-linecap="round" stroke="#c4622a" stroke-width="1.2"/><g fill="none" stroke-linecap="round" stroke="#166d6d" stroke-width="1.7"><path id="k18" d="M97.7 75.1h0M88.5 70.5h0M95.2 70.3h0M82.3 69.5h0M109.9 73.5h0M89 73.7h0M67 79.9h0M102.6 65.1h0M92.7 71.5h0M86.6 76h0M125 62.3h0M95.5 70.8h0M80.5 74.4h0M91 79.6h0M100.3 68.9h0M92.6 68.2h0M110.3 66.1h0M108.4 67.1h0M87.2 74h0M96.6 70.8h0M102.8 66.2h0M91.4 72.4h0M91.3 74.3h0M105.3 64.6h0M103.2 75.9h0M81.6 81.2h0M88.5 68.1h0M91.3 71.9h0M95.8 74.9h0M89.2 77.9h0M113.3 72.4h0M83.6 69.4h0M82.9 71.9h0M98.4 69.4h0M70.8 80.6h0M83.6 71.9h0M104 70.8h0M81.5 77.3h0M87.2 76.5h0M107.8 64.2h0M101.8 70.7h0M97.1 71.7h0M98.9 69.6h0M89.7 77.7h0M99.8 69.8h0M95.4 76.6h0M124.8 61.7h0M104.2 74.9h0M94 77.6h0M95.2 69.5h0M97.5 72.5h0M80.9 77.2h0M86.2 71.6h0M114.9 69h0M80.9 78.1h0M89.2 71.1h0M108.5 68.7h0M114.8 69.4h0M84.7 74.7h0M112.9 64.9h0M93.9 77.8h0M115 63.4h0M102.8 71.1h0M94.4 76h0M105.8 71.7h0M101.7 64.6h0M87.6 73.4h0M121.4 64.3h0M92.6 72.4h0M110.6 69.9h0M91.6 75.1h0M75.8 78.3h0M84.1 76.4h0M96.5 75.2h0M105.7 73.3h0M115.5 60.6h0M99.6 78.1h0M93.1 71.3h0M83.3 78.3h0M94.9 67.3h0M99.9 69.5h0M70.2 75.6h0M112.8 70.8h0M110.7 70.8h0M123.1 64.5h0M86.2 74.5h0M97.6 73h0M96.2 69.2h0M81 74.6h0M86.3 72.6h0M86.1 77.7h0M102.7 70.4h0M100.7 66.9h0M112.6 68.6h0M92.6 74.9h0M81.8 80.7h0M101.4 68.9h0M101.4 72h0M106.2 75.9h0M110.9 66.9h0M89.7 72.9h0M106.4 70.9h0M84.7 73.9h0M98.6 71.5h0M104.3 68.3h0M94.7 70.1h0M100 73.9h0M80.3 75.5h0M88.4 71.2h0M98.2 70.7h0M82.7 75.6h0M87.1 75.7h0M125.6 66.7h0M101.2 76.3h0M86.1 71.2h0M84.5 74.7h0M111 62.1h0M64.4 82h0M92.7 74.8h0M102.7 68.2h0M88.6 71.4h0M101 67.6h0M82.4 71.3h0M96.1 74.1h0M97.8 77.7h0M94.8 68.9h0M98.7 76.5h0M95.9 71.8h0M107.3 64.5h0M93 74.8h0M89.4 76.4h0M92.6 74.3h0M91.8 72.5h0M79.3 82.2h0M73.2 77.7h0M80.4 78.6h0M99.3 73.2h0M87 71.8h0M89.1 68.2h0M127.1 57.7h0M108.1 67.3h0M93.3 73.9h0M86.6 69.1h0M110.7 65.5h0M87.7 79.3h0M108.2 62.9h0M102.6 71.6h0M111.7 68.6h0M87.7 76.9h0M104.6 64.9h0M74.7 79.2h0M92.2 68.7h0M108.9 72.5h0M102.7 67.3h0M74.5 79.4h0M102.6 67.6h0M100.7 71.1h0M93.3 67.9h0M87.2 75.4h0M92.6 74.9h0M88.7 74h0M107.6 73.8h0M101 71.7h0M108.3 70.9h0M103.7 71.4h0M82.1 81.9h0M96.3 69.8h0M119.8 64.3h0M82.3 75.2h0M99.1 73.1h0M86.5 75.5h0M85.7 77.6h0M98 72.4h0M105.5 67.7h0M104.1 69.5h0M101 72h0M104.4 62.4h0M77.7 81.7h0M104.3 67.9h0M99.7 69.9h0M93.4 73.6h0M95 71.6h0M84.2 70.8h0M108.5 67.7h0M87.8 78.8h0M79.1 80.2h0M96.3 75.9h0M88.1 72.6h0M94.3 71.9h0M113.7 70.4h0M95 77.1h0M96.8 72h0M120.7 62h0M77.5 71.3h0M100.8 75.3h0M107.6 64h0M113.2 68.6h0M122.1 67.5h0M90.5 84.1h0M102.6 70.9h0M94.2 72.4h0M90.6 75.2h0M87.5 76.3h0M79.7 81.2h0M99.9 73.3h0M103.5 67.6h0M81.4 69.7h0M104.5 70.8h0M88.5 72.2h0M84.9 80h0M64 77.2h0M108.4 69.3h0M103.2 67.9h0M91.1 70.9h0M92.4 78.6h0M80.6 77.2h0M101.4 70.2h0M95.4 74.8h0M101.1 68.3h0M97.3 70.7h0M78.7 75.2h0M79.2 83.5h0M100.7 72h0M76.5 79.9h0M99.8 74.8h0M106 68.8h0M80.7 76.2h0M102.2 65.2h0M96.7 73.6h0M102.3 71.3h0M88.2 73.2h0M96.8 75.9h0M99.4 65.5h0M117.6 67.4h0M103.4 65.7h0M100.9 67.2h0M80.9 75.9h0M101.2 75.1h0M87.3 70.9h0M94.6 69.5h0M98.3 67.7h0M109.3 75h0M103.7 71.8h0M98.9 72.8h0M97.5 78.5h0M112.4 68.4h0M84.3 68.8h0M96.5 70.5h0M111.4 64h0M95.9 78.8h0M104.9 65.1h0M107.1 70.1h0M119 64h0M109.3 67h0M77.3 77.7h0M96.4 71.7h0M99.3 69.1h0M105 65.7h0M100.4 68.9h0M117.4 62.7h0M113.8 69.4h0M108.5 70.5h0M97.5 72h0M91.8 73.5h0M96.9 76.9h0M83.4 76.3h0M85.8 75h0M97.4 70.7h0M82.9 75.5h0M115.2 67.9h0M94.7 73h0M100.5 66.6h0M96.5 68.9h0M100 66.7h0M89.7 69.4h0M102 75.2h0M95.3 74.7h0M85.9 78.7h0M96.2 74.1h0M86 74h0M93.9 75.2h0M92.7 68h0M114.6 68.2h0M85.4 71.3h0M96.1 74.5h0M98.1 70h0M108.6 65.8h0M80.1 75.4h0M114.1 68h0M111.6 69.4h0M93.8 69.8h0M95.9 76.1h0M76.1 77.1h0M99.9 67.9h0M96.2 71.3h0M108.7 68.4h0M81.6 73.1h0M85.8 78.2h0M75.9 77.2h0M77.4 78.4h0M83.6 78.5h0M113 67.3h0M102.2 68.7h0M88.7 75.7h0M101.9 70h0M108.7 68.2h0M81.7 76.9h0M85.6 73.7h0M76.4 78.4h0M85.4 74.6h0M95.7 71.1h0M92.7 69.7h0M107 70.4h0M98.5 71.5h0M83.3 73.7h0M92.3 76.7h0M97.7 66.9h0M111.9 68.4h0M95.1 75h0M76.5 75.2h0M94.2 67.9h0M80.9 79.8h0M81.8 75.9h0M88.8 76.2h0M90.5 78.4h0M82.6 79.4h0M88.9 70.2h0M89.9 72.9h0M106.8 71h0M88.9 73.2h0M107.5 65.1h0M86.9 76.4h0M102.6 66h0M92.2 68.8h0M79.5 77.2h0M111.1 70.1h0M84 74.8h0M93.9 73.9h0M113.9 66.5h0M102.2 67.7h0M91 73.4h0M89.7 70.9h0M98.1 67.4h0M111.6 65.9h0M85.4 71.1h0M87.2 75.9h0M96.6 72.7h0M101.6 66h0M107.3 71.1h0M105 70.3h0M96.1 70.4h0M91.9 68.6h0M90.4 74.8h0M104.4 65.8h0M108.5 66h0M87.3 76h0M114.8 67.8h0M108.7 72.4h0M89.3 74.8h0M96 75.8h0M107 71.5h0M84.8 77.5h0M75.6 79.6h0M88.3 71.3h0M100.8 66.9h0M77 75.1h0M114.8 66.5h0M97.9 75.7h0M74.4 78.2h0M88.7 77.3h0M82.3 79.2h0M99.7 71.9h0M82.2 75.1h0M86.7 72.6h0M103.5 73.6h0M99.2 72.2h0M101.5 71.6h0M80 77.5h0M111.7 64.9h0M115.2 67.7h0M110.4 68.9h0M98.1 69.4h0M87.7 78.5h0M83.5 75.4h0M94.3 70.3h0M93.6 76.5h0M100.4 70.8h0M89.8 75.2h0M76.5 78.2h0M106.2 68.9h0M88.2 74h0M100.1 74.5h0M94.9 74.9h0M104.9 65.3h0M84.9 77.9h0M86.9 78.5h0M115 67.1h0M109.7 68.7h0M107.6 72.1h0M92.6 76.6h0M114.1 66.6h0M80.1 76.1h0M108.8 69.5h0M74.8 77.6h0M91.8 76.7h0M103.4 68.1h0M114.6 66.5h0M79.1 76h0M94.2 68.5h0M86.9 77.7h0M101.2 74h0M83.2 71.9h0M101 71.5h0M74.4 78.2h0M100.6 67.2h0M103.2 74.3h0M90.6 68.6h0M99.4 75.7h0M93.9 71.9h0M99.9 75.7h0M77.3 78.9h0M80.7 80h0M105.1 70.7h0M80.8 73.2h0M112 69.7h0M82.9 73h0M76.5 78.1h0M100.2 68.8h0M81.8 77.4h0M110.1 69.7h0M85.2 79.6h0M88.5 70.2h0M99.5 71.9h0M103.8 74.3h0M110.1 71h0M98.9 66.8h0M94.4 77.3h0M106.9 72.4h0M84.9 72.2h0M94.9 74.5h0M81.3 74.5h0M96.6 67.3h0M79.9 73.1h0M98.1 69.6h0M97.2 76.2h0M93.1 70.1h0M81.4 73.9h0M85.6 77h0M88.6 72.5h0M83.7 72.6h0M103.1 72.7h0M94.9 75.9h0M75.7 76.5h0M100.6 74.9h0M85.2 76.1h0M87.7 76.5h0M79.8 75.9h0M98.1 72.9h0M80.1 73.6h0M91.2 69.2h0M56.7 80h0M47.7 91.3h0M51.6 80.1h0M56.2 77.7h0M53 76h0M66.3 80.3h0M85.9 75.1h0M54.1 80.5h0M75.3 72.9h0M72 76.7h0M62.6 87h0M55.7 76.5h0M75.9 76.1h0M76.9 77h0M66 81.3h0M69.9 84.2h0M71.1 81.8h0M52.8 85.1h0M73.6 84h0M75.8 81.8h0M94.1 71.8h0M53.3 84.8h0M56.7 76.9h0M71.4 78.4h0M61.1 77.4h0M63 75.1h0M69.8 77h0M63.7 72.1h0M68.4 74.5h0M75.3 74.1h0M48.8 86.7h0M77.2 74.3h0M40.4 89.7h0M95.1 77.5h0M83.6 77.6h0M60.3 75.8h0M81.3 66h0M66.8 74.8h0M74.7 72.4h0M77.5 66.3h0M72.4 69.1h0M67.8 70.6h0M77.6 72.7h0M69.6 84.9h0M67.5 86.9h0M56 77.6h0M45.3 83.7h0M89.4 65h0M78.3 67.4h0M51.3 83.5h0M75.5 76.2h0M72 74.1h0M41.6 89.9h0M58.5 79.8h0M70.2 82.7h0M92.4 68h0M86 76.5h0M86.7 71.2h0M74.6 76.7h0M84.4 75.9h0M52.6 76.9h0M77.4 71.7h0M79.8 74h0M52.9 81.8h0M73.9 77.5h0M89.4 67.4h0M94.1 63.4h0M89 70.9h0M61.3 81.8h0M68 74.4h0"/></g><use href="#k18" fill="none" stroke-linecap="round" stroke="#26b6b6" stroke-width="1.2"/><g fill="none" stroke-linecap="round" stroke="#700d0d" stroke-width="1.7"><path id="k19" d="M130.8 67.9h0M127 66.9h0M127.9 65.3h0M127.6 66.6h0M115.8 65h0M137.3 67.7h0M117.8 70.9h0M125.5 70.8h0M127.4 66.4h0M124.8 67.2h0M123.5 64.8h0M116.7 66.3h0M120.4 71.5h0M124.1 75.7h0M131.6 65.2h0M118.3 68.7h0M128.1 70.5h0M125.9 66.9h0M123.9 70.3h0M119.3 68.8h0M122.2 68.4h0M111.6 72.8h0M124 68.2h0M125.2 65.6h0M120.1 71.4h0M127.1 68.5h0M125.5 67.3h0M118.2 67.7h0M129.6 69.5h0M119.6 67.7h0M140.3 66.8h0M116.8 72.3h0M118 69.4h0M119.6 72.1h0M124.8 65.4h0M131.9 69.2h0M124.4 70.1h0M121.5 73.7h0M136.8 67.1h0M131 70h0M121.6 68.8h0M122.5 66.5h0M112.7 68.3h0M123.6 67.2h0M135.7 69.1h0M115.2 68.2h0M113.7 70.4h0M124.7 70.9h0M107.3 74.2h0M133.4 69.8h0M113.5 74h0M118 66.9h0M122.1 67.9h0M131.8 68.5h0M126.4 71.2h0M110.3 72h0M111.3 68.8h0M124.6 68.3h0M108.1 67.1h0M121.4 71.2h0M116.8 65.5h0M128.7 68.7h0M131.7 70.4h0M105.9 73.6h0M125.4 64.8h0M127.5 68.9h0M117.5 68.9h0M118.6 68.9h0M115.1 74.1h0M120.6 70h0M125.2 65.2h0M131.7 65.2h0M133 69.3h0M120.9 69.8h0M116.6 67.1h0M129.1 64.1h0M103.4 70.4h0M112.9 69.3h0M127.5 70.3h0M138 65.4h0M117.5 71.4h0M123.8 71.8h0M114.5 66.3h0M122 67.7h0M122.7 72.8h0M117.3 68.7h0M125.5 68.6h0M121.9 71.5h0M126 66.7h0M121.2 68.2h0M113.9 66.2h0M124 70.1h0M128.6 67h0M117.2 68.8h0M131.3 61.5h0M126.3 70.8h0M120.6 70.9h0M122.8 67h0M120.4 72.2h0M115.8 64h0M129.2 67.8h0M128.6 64h0M120.7 75.8h0M120.8 62.8h0M121 66.2h0M127.5 66.4h0M133.3 69.4h0M118.6 71.5h0M125.2 69.5h0M122.7 68.3h0M127.5 73.4h0M132.7 65.7h0M117 70.4h0M109.3 75h0M121.4 66.1h0M111.6 68.5h0M135 69.8h0M118.3 70.6h0M120.6 66h0M124.7 68.7h0M125.1 73.2h0M120 68.6h0M123.3 70.7h0M129.7 68.2h0M120.7 67.5h0M136.5 70.8h0M125.9 70.8h0M107.2 74h0M129.2 67.6h0M110.9 70.8h0M125.5 69h0M138.9 67.7h0M130.5 66.9h0M115.1 68.7h0M117.9 72.7h0M122.9 66.1h0M133.1 66.3h0M117.9 68.6h0M130.7 66.5h0M124.9 65.6h0M122.2 67h0M122.3 70.8h0M134.7 66.3h0M112.5 68.5h0M115.8 73.9h0M128.9 64.7h0M130.4 70.3h0M114.2 70.9h0M116.3 66.4h0M115 68.9h0M126.8 67.3h0M119 72.5h0M133.3 69.6h0M128.4 67.3h0M124.6 65.7h0M124 64.5h0M126.9 67.8h0M128.5 64.6h0M123.2 68.3h0M124.8 68h0M128.7 68.9h0M123 71.2h0M130.1 68h0M122.3 70h0M117.7 69.1h0M124.8 71.1h0M134.9 69.1h0M134 71.1h0M112.5 73.6h0M125 66.7h0M119.2 65.8h0M121 70.6h0M121 71.8h0M121.2 67.4h0M119.9 72.9h0M121.1 69.3h0M124.5 68.3h0M114.8 70.8h0M114 66.6h0M114.7 65.9h0M115 69h0M126.7 65.4h0M115.3 69.8h0M122.4 68.8h0M122.5 62.6h0M127.7 66.1h0M123.3 70h0M129.5 62.1h0M122.4 68h0M124.2 65.2h0M127.6 63.3h0M113.2 72.8h0M126 70.9h0M133.3 66.2h0M123.6 67.4h0M121.7 72.2h0M136.5 69.7h0M123.7 68.6h0M131.8 69.6h0M106.5 71.2h0M123.6 67.8h0M119.7 70.6h0M125.5 67.3h0M131.4 68.9h0M121.8 68.2h0M121.2 67.8h0M103.2 70.1h0M128.6 69h0M132.5 69.6h0M124.1 69.5h0M119.4 67.1h0M125.7 69.8h0M129.8 65.5h0M127.1 65.4h0M137.3 66.2h0M119.4 71.1h0M113.8 71.6h0M126.6 69.5h0M132.2 70.7h0M120.1 71.2h0M114.8 68.9h0M135.8 67.7h0M133.7 69.3h0M116.1 70.6h0M120.7 69.2h0M117.8 72.1h0M127.9 72.3h0M125.6 69.2h0M132.9 70.8h0M115.5 68.9h0M115.7 69.5h0M116.9 72.2h0M118.4 65.9h0M125.1 65h0M132 64.9h0M113.5 68.9h0M123.7 68.4h0M133.2 64.9h0M113.4 70.5h0M124.5 66.8h0M122.6 70.4h0M127.4 71.8h0M129.1 66.6h0M124.2 65.2h0M111.8 71.1h0M123.2 65.8h0M128.8 64.6h0M121.8 69h0M125.6 65.9h0M130 68.6h0M128.7 67.7h0M132.6 64.8h0M122.2 68.2h0M130.8 65.8h0M112.3 71.2h0M115.2 70h0M130.2 68.2h0M135.4 67.6h0M116.3 72.3h0M117.3 72.2h0M130.4 67.4h0M133.1 65.1h0M124.4 71.9h0M115.2 71h0M119.9 73.4h0M117.2 67.9h0M120.7 67.4h0M134.9 69.4h0M124.1 72.2h0M127.6 72.3h0M114.6 70.2h0M117.2 72.8h0M114.1 71.3h0M122.7 71.2h0M125.1 69.7h0M121.7 71.1h0M134 68.4h0M115.9 69.8h0M126.7 71.8h0M117 67.4h0M126.8 64.6h0M130.6 70h0M119.3 72.6h0M121.2 67.3h0M125.8 72.1h0M127 68h0M123.3 71.5h0M119.1 67.6h0M112.1 69.7h0M124.7 68.8h0M125.2 67.1h0M123.9 66.8h0M127.9 68.8h0M125.9 71.1h0M135.1 66.8h0M130.1 70.2h0M125.8 64.9h0M130.9 67.9h0M124.4 69.1h0M134.7 67.1h0M125.7 67.5h0M135.3 67.5h0M132.5 69.1h0M130.4 69.1h0M126.7 71.8h0M134.4 68.1h0M130.8 71.4h0M128.3 66h0M130.6 66h0M119.7 67.5h0M118.9 70.3h0M117.8 66.1h0M122.8 66.8h0M116 69.8h0M128.1 69h0M130.3 68.2h0M127.7 70.7h0M124.5 72.9h0M134.8 65.9h0M119.4 66h0M117.4 67.6h0M112.4 69.7h0M124.4 68.3h0M114.6 69.6h0M132.2 67.8h0M130.4 66.7h0M124.4 70.1h0M115.4 66.9h0M114.4 67.6h0M135.8 66.8h0M123.2 68.1h0M134.6 66.2h0M116.6 70.7h0M123.4 68.5h0M133 68.6h0M121.1 70.3h0M117.8 72.7h0M132.3 66.1h0M123.3 69.4h0M124.7 66.8h0M131 70.7h0M113.6 71.3h0M114.9 71.7h0M124.5 70.3h0M119.6 72.9h0M136.9 67.5h0M118.2 68.1h0M129.1 68h0M121.9 73.1h0M120.7 72.3h0M125 69.4h0M128.5 67.6h0M128.7 67.9h0M127.5 72.1h0M132.8 65.6h0M116.1 67h0M119 70.1h0M125.9 65.9h0M121.1 66.2h0M123.9 65.4h0M126 72.7h0M128.2 70.6h0M125.3 68.3h0M130 70.4h0M122.5 65.8h0M119.8 70.2h0M119.2 66.9h0M117.2 69.8h0M134.9 66.4h0M125.9 65.5h0"/></g><use href="#k19" fill="none" stroke-linecap="round" stroke="#bc1616" stroke-width="1.2"/><g fill="none" stroke-linecap="round" stroke="#105d3d" stroke-width="1.7"><path id="k20" d="M135 63.4h0M130.4 61.8h0M135 63h0M127 62.6h0M132 62.8h0M121.1 60.5h0M119.5 61.5h0M133.6 59.3h0M121.3 61.8h0M135.5 63.4h0M119.1 63.2h0M139.7 60.3h0M127.1 61.1h0M130.2 61.5h0M135.2 59.3h0M126.5 63.7h0M126.7 64.2h0M121.5 61.3h0M121.7 62.4h0M126.1 61.2h0M136 59.2h0M126.2 63.1h0M129.5 61.7h0M136.7 60.7h0M134.8 62.9h0M122.9 60.4h0M133 60.8h0M133.3 63.1h0M125.3 60.9h0M127.7 61.2h0M126.9 59.7h0M136.2 62.1h0M138.7 62.1h0M135.5 60.3h0M141.7 61.2h0M125.2 63.2h0M123.7 62.8h0M140.5 60.7h0M119.3 62.3h0M134.6 61h0M120.3 62.4h0M136.8 59.9h0M138.6 61.5h0M129.8 61.5h0M135.4 59.1h0M120.3 63.9h0M140.8 59.7h0M130.7 63.7h0M132.8 62.5h0M127.8 60.3h0M140.6 61.5h0M124.6 64.2h0M136.5 61.1h0M123.4 60.2h0M131.5 59.6h0M122.9 63.5h0M124 62.9h0M134.3 60.5h0M126.9 60.3h0M127.2 64.1h0M120.2 63.5h0M124 63.1h0M141.7 60.3h0M125.1 61.4h0M122.1 61.5h0M128.3 62.6h0M130.6 63.4h0M119.4 62.6h0M132.2 63.4h0M125.1 60.3h0M124.9 62.6h0M118 63.1h0M134.6 62.7h0M135 59.2h0M137.2 59.2h0M118.9 61.2h0M124.9 59.8h0M131.4 63.5h0M136 62.5h0M132.8 60.3h0M123.9 63.7h0M123.3 63.1h0M120.2 63.2h0M141.3 60.2h0M137.5 59.9h0M127.8 61.8h0M123.6 63.5h0M140.7 61.1h0M122.6 62h0M134.4 59.4h0M133 61h0M129.7 62.6h0M123.7 61.4h0M127.1 63.5h0M118.1 63.5h0M133.3 61.2h0M134.5 63.4h0M138.9 60.2h0M131.5 61.7h0M135.4 61.6h0M123.2 63.8h0M130.7 60.6h0M129 60h0M135.2 59.5h0M132 59.5h0M121.9 63.1h0M118.5 63.5h0M121.8 62.7h0M122.9 62.6h0M132.8 60.1h0M129.5 62.5h0M135.4 63.3h0M130.9 60.7h0M130.1 63.5h0M128.1 60.4h0M126.4 63.7h0M128.4 61.4h0M137.8 59.4h0M126.8 60.3h0M130.7 60.1h0M125.9 61.4h0M140.4 60.5h0M128.4 61h0M133.7 59.5h0M128.1 60.2h0M130.5 63.3h0M124.9 62.9h0M120 62.6h0M128.9 60.2h0M126.5 62.1h0M136.2 59.5h0M119.1 64.3h0M116.3 63.1h0M139.6 61.7h0M136.1 59.1h0M139.2 60.5h0M130.4 62.9h0M136.2 60.5h0M120.2 61.5h0M128.5 63.7h0M118.4 63.8h0M137.2 59.3h0M126.9 63.6h0M132.6 60.1h0M121.5 62h0M132.7 60.2h0M134 63h0M134.1 60.4h0M127.5 62.3h0M135.2 61.5h0M121 63.3h0M124.9 63.5h0M138.3 62h0M123 64.5h0M131.6 59.5h0M122.6 60.9h0M119.7 62.3h0M129.5 63.8h0M130 63.4h0M132.2 60.8h0M141.7 60.8h0M134.4 62.6h0M121.6 60.8h0M141.6 60.6h0M135.3 61.4h0M134.4 62.2h0M131.5 60.6h0M118.8 63.3h0M130 60.5h0M125.7 61h0M124.3 62.4h0M138.1 60.2h0M124.1 62.6h0M123.2 61.8h0M119.4 63.4h0M135.4 63.5h0M124.3 60.7h0M128.8 61.9h0M138.7 61h0M127.3 62h0M122 63.3h0M138.4 62.8h0M123.6 62.5h0M130.6 61.7h0M122.6 63.3h0M130.6 63.6h0M139.7 61.7h0M138.5 62.8h0M116.9 63.7h0M128.9 60.9h0M134.8 59h0M135.9 61.6h0M121.8 61.9h0M138.5 61.7h0M136.2 63.1h0M134.2 59.8h0M134.2 63.3h0M122.3 64.3h0M133.2 60.5h0M134.6 61.5h0"/></g><use href="#k20" fill="none" stroke-linecap="round" stroke="#1c9c66" stroke-width="1.2"/><g fill="none" stroke-linecap="round" stroke="#54107f" stroke-width="1.6"><path id="k21" d="M144.8 73h0M125.1 76.2h0M138.8 72.9h0M128.6 77.2h0M140.7 73.6h0M146.4 72h0M135.2 74.5h0M138.3 74.4h0M161.3 69h0M151.8 71.1h0M158.4 67.6h0M139.2 74.4h0M122.9 76.7h0M136.5 76h0M126.4 76.8h0M122.5 78.6h0M156.9 69.7h0M137 73.9h0M130.9 77h0M135.6 75h0M124.6 79.3h0M125.9 77.8h0M146.7 72.3h0M146 74.2h0M122.5 79.3h0M121.3 78.5h0M151.7 70.1h0M139 75.6h0M136.3 75.7h0M122.6 79.1h0M154.2 69.9h0M138.9 73.5h0M131.3 75.2h0M120.3 79.7h0M137.7 74.2h0M153.7 70.8h0M160.5 66.8h0M132.4 76.5h0M135.3 74.4h0M120.8 76.4h0M137.7 73.3h0M124.6 78h0M145.2 73.7h0M138.2 71.9h0M127.3 75.8h0M133.3 75.5h0M126.2 75.9h0M142.9 72.6h0M120.2 77.9h0M126.1 77.3h0M122.1 77h0M158.2 68.8h0M158 68.4h0M143.7 72.9h0M129.4 76.3h0M143.1 73.7h0M132.7 75.7h0M132.5 77h0M138.8 72.7h0M156.9 69.2h0M141.3 74h0M159.2 68.9h0M142.6 70.9h0M121.4 78.7h0M159.1 68.4h0M142.2 75.2h0M155.5 69.7h0M161.6 68.8h0M126.4 76.3h0M147.5 72.4h0M143.3 70.6h0M120.8 77.7h0M147.3 71.5h0M149.8 69.9h0M131.2 76.7h0M136.2 74.7h0M142 74.6h0M122.1 77.1h0M157 68.7h0M123.2 78.5h0M133.7 74.9h0M145.7 73h0M145.6 72.8h0M155.9 69.1h0M128.2 76.8h0M147.9 72.1h0M125.4 77.6h0M149.2 71.2h0M143.6 72.4h0M156.4 69.4h0M156 70.5h0M120.5 80.4h0M129.8 75.1h0M145.3 71.5h0M134.3 75h0M121.2 79.7h0M154.9 69.2h0M160.5 70.5h0M128.5 78.5h0M127.8 74.8h0M151.2 71.4h0M137.6 74.8h0M160.3 68.2h0M134.7 73.5h0M142.9 73.2h0M151.1 70.6h0M138.7 75h0M157.4 69.8h0M135.4 74.1h0M137.4 76h0M158.4 70.6h0M133.4 76.6h0M161.2 68.4h0M154.8 70.8h0M121.3 78.6h0M158.6 68.6h0M125.5 75.9h0M121.5 78.7h0M149.3 69.7h0M143.7 73.4h0M160.4 67.5h0M147.6 72h0M136.8 74.3h0M137.6 73.4h0M144.5 71.8h0M139.7 73.3h0M140.8 74.8h0M159.9 69h0M145.8 72.1h0M142.3 73.9h0M155.8 68.8h0M141.7 72.1h0M139.8 73.1h0M122 79.2h0M159.4 68.6h0M125.6 77.5h0M137.3 74.5h0M122 77.9h0M142.4 74.1h0M127.3 77.5h0M144.5 71.9h0M157.2 68.5h0M124.2 77.7h0M136.4 73.9h0M158.4 69.1h0M122.1 78.8h0M131 76h0M130.9 76.2h0M156 69.2h0M141.3 72.7h0M157.3 68.5h0M157.7 70.3h0M149.6 70.6h0M131.5 75.9h0M153.8 70.3h0M126.9 77.4h0M142.5 72.8h0M158.2 67.7h0M159.5 70.5h0M149.8 70.3h0M120.1 79.2h0M142.4 72.2h0M159.6 69.3h0M155.8 68.8h0M121.6 79.8h0M127.4 77.3h0M131.6 74.5h0M140.8 74.9h0M154.3 68.5h0M151.4 70.5h0M149.5 72.2h0M143.7 72.4h0M158.9 70h0M142.4 73.1h0M133.4 74.9h0M142.9 74h0M127.7 76.8h0M142.3 72.7h0M159.7 69.5h0M124 77.5h0"/></g><use href="#k21" fill="none" stroke-linecap="round" stroke="#8c1cd4" stroke-width="1.1"/><g fill="none" stroke-linecap="round" stroke="#0d0d62" stroke-width="1.6"><path id="k22" d="M134.3 79.1h0M113.5 84.2h0M154.7 74.6h0M128.9 80.4h0M121.1 81.3h0M151.6 75.7h0M145.9 77.3h0M117.4 82.3h0M138.1 77.4h0M133.4 79.9h0M137.6 78.2h0M111.7 83.4h0M136.5 79.3h0M136.7 78.4h0M117.7 83.4h0M153.5 75h0M153.9 73.4h0M150.6 74.2h0M150.1 75.4h0M138.8 78.5h0M148.7 75.3h0M120.2 83.4h0M125.4 81.5h0M145.4 77h0M139.1 77h0M128.5 80.2h0M104.8 87.2h0M127.9 79.8h0M115 83.1h0M140.8 77.3h0M140.8 77h0M133.5 78.3h0M147 74.3h0M134.9 79.8h0M126.9 80.8h0M110.4 86.1h0M111.4 83.9h0M109.4 85.2h0M123 81.6h0M142 77h0M122 80.7h0M147.8 76.4h0M129.9 79.7h0M147.9 75.6h0M148.5 74.4h0M114.3 85.2h0M146.3 74.6h0M155.8 74.9h0M138.5 77.5h0M111.4 84.4h0M149.8 74.4h0M130.9 80.8h0M121.5 81.4h0M139.8 76.7h0M117 82.4h0M127.7 80.9h0M120 82.9h0M129.6 79.4h0M149.7 75.4h0M131.4 80.8h0M114.2 84.5h0M153.5 74.3h0M123 80.8h0M136.5 79.5h0M155.3 74.1h0M130.8 78.5h0M117 82.6h0M138 75.6h0M153 74.5h0M138.1 76.9h0M153.9 73.6h0M127.3 81.7h0M104.9 85.1h0M102.9 87.5h0M113 83.9h0M140.6 76.3h0M103.1 87.8h0M109.6 85.4h0M128.6 79.7h0M120.9 82.6h0M143.3 76h0M125.1 80.4h0M111.6 84.2h0M155.1 74.4h0M115.7 82.2h0M152.5 73.1h0M141.1 77.8h0M150.9 73.4h0M155.5 73.2h0M147.6 75.2h0M139.7 76.4h0M107.4 85h0M103 86.6h0M133 79h0M152.9 74.6h0M153.5 74.1h0M133.6 79.7h0M115.2 83.8h0M141 76.7h0M152.9 74.6h0M154.2 74.1h0M103.3 87.3h0M115.6 83.4h0M122.4 81.7h0M121.2 82h0M111.9 83.2h0M134.8 79h0M132.5 78.7h0M140.5 76.6h0M117.8 82.7h0M113.8 85.7h0M145.6 75.3h0M119.7 83.7h0M113.8 82.3h0M140.7 76.9h0M113.8 85.5h0M115.1 83.8h0M126.9 81h0M108.6 84.8h0M117.7 81.4h0M152.2 74.7h0M121.8 82.7h0M106.2 86.8h0M145.5 77.5h0M124 81.3h0M154.8 74.1h0M139.6 75.7h0M120.3 82.1h0M150.2 74.9h0M107.9 86.6h0M148.8 76.7h0M127.3 81.9h0M133.1 79.5h0M151.9 74.3h0M152 74.3h0M103.7 86.5h0M126.5 80.9h0M152.1 75.3h0M125.2 81h0M107.3 84.3h0M150.9 73.7h0M117.1 85.6h0M140.9 78.3h0M135 78.3h0M135.8 78.2h0M154.9 74.2h0M136.2 78.6h0M130.8 80h0M104 84.9h0M122.4 80.7h0M141.6 77.1h0M139.4 78.1h0M126.7 81h0M116.1 84.7h0M118.4 82.9h0M106.5 86.1h0M106.6 85.9h0M142 77.7h0M135.3 78.1h0M144.2 78h0M140.9 76.3h0M146.5 76.4h0M128.7 80.8h0M114.5 85.2h0M112.1 83.5h0M119.2 81.9h0M144.3 76.1h0M147.4 76.1h0M121.4 82.8h0M133.2 77h0M109.9 84.8h0M155.4 73.7h0M103.2 87h0M136.9 78.5h0M131.7 79.4h0M118.9 82.8h0M146.6 74.2h0M103.5 87.3h0M130.7 77.7h0M138.3 77.7h0M141.9 76.1h0M135 78.9h0M139.9 76.6h0M146.1 76.5h0M134.2 79.1h0M129.7 80.5h0M110.4 85.7h0M123.3 82.5h0M146.3 75.6h0M127.9 81.1h0M124.3 81.7h0M119.3 83.2h0M125.6 81.1h0M136.3 76.2h0M138.4 77.6h0M116.5 83.3h0M145.1 75.7h0M103.1 86.1h0M119.7 82.6h0M108 84.9h0"/></g><use href="#k22" fill="none" stroke-linecap="round" stroke="#1616a4" stroke-width="1.1"/><g fill="none" stroke-linecap="round" stroke="#247024" stroke-width="1.7"><path id="k23" d="M132.9 82.2h0M134.8 83.8h0M150.6 78.7h0M149.5 78.7h0M155 74.6h0M144 80.5h0M140 82.4h0M166.6 71.2h0M139 81h0M161.3 73.2h0M144.6 77.2h0M132.4 84.8h0M148.4 77.8h0M155.7 75.5h0M162.8 73h0M145.1 79.7h0M146.8 80.6h0M144.3 79.3h0M147 78.9h0M144.2 78.1h0M150.2 77.2h0M143.1 78.7h0M144.8 80.6h0M151.5 77.3h0M155.7 75.2h0M160.1 75h0M151.4 76.4h0M161.8 73.3h0M156.7 74.6h0M153.5 75.7h0M136 83h0M134.8 83.1h0M132.5 84.4h0M142.9 79.6h0M149.1 76.8h0M140.4 82.8h0M152.6 77.3h0M134.9 83.3h0M149.6 78.3h0M140.5 80.6h0M144.1 80.5h0M160.1 72.8h0M133.1 84.7h0M158.2 75.2h0M142.8 80.6h0M165.1 73h0M144.7 79.9h0M158.5 76.4h0M143 81.2h0M149.4 76.7h0M150.4 76.9h0M142.7 82.2h0M147.4 78.4h0M135.7 83.7h0M164.9 71.9h0M155.8 77.2h0M150.6 78.8h0M147.1 79.8h0M132.1 84.3h0M148.5 78.3h0M138.9 83.5h0M150.1 77.4h0M156.4 73.6h0M140.2 83.2h0M159.3 75.4h0M147.7 77.6h0M139 82.4h0M142.4 81.4h0M153 77.1h0M153.7 78.2h0M160.5 75.3h0M152.6 76.3h0M157.9 74.9h0M137.5 83.6h0M154.6 77.2h0M149.9 77.7h0M144.7 81.1h0M148.1 78h0M160.6 74.8h0M144.2 78.5h0M148.1 79.2h0M166.8 73.6h0M149.8 79.5h0M138.6 81.5h0M153 74.1h0M152.6 77.3h0M140.5 82.6h0M132.7 84.6h0M135.9 83.5h0M155.6 74.6h0M154.3 75.9h0M154.9 74.9h0M149.7 76.9h0M156.8 74.9h0M150 79.3h0M137.3 83.1h0M134 83.3h0M155.3 75.8h0M164.7 71.5h0M166.6 71.2h0M144 80.4h0M141 79.9h0M148.2 78.9h0M141.9 80.4h0M161.4 74.7h0M141.1 80.4h0M151.2 77.7h0M139.9 80.9h0M166.5 72.2h0M142.8 79h0M152.3 76.6h0M150.3 77h0M138.2 80.9h0M159.3 74.1h0M141.8 80.9h0M133.8 83.4h0M148.3 77.6h0M152.2 76.5h0M144.3 79.4h0M139.9 82.7h0"/></g><use href="#k23" fill="none" stroke-linecap="round" stroke="#3cbc3c" stroke-width="1.2"/><g fill="none" stroke-linecap="round" stroke="#247024" stroke-width="2.5"><path id="k24" d="M145 82.5h0M145.6 77.2h0M145.9 81.3h0M148 79.2h0M142.7 79.9h0M143.6 80.2h0M143.7 81.9h0M142.6 83h0M144.8 80h0M144.7 82h0M144.8 81.3h0M144.6 82.7h0"/></g><use href="#k24" fill="none" stroke-linecap="round" stroke="#3cbc3c" stroke-width="2.0"/><text x="7.6" y="70" font-size="7.6" text-anchor="middle" fill="#111" transform="rotate(-90 7.6 70)" dominant-baseline="central">Pt196</text><text x="54.5" y="131.5" font-size="7.6" text-anchor="middle" fill="#111" transform="rotate(25 54.5 131.5)" dominant-baseline="central">Pt194</text><text x="169.6" y="130.5" font-size="7.6" text-anchor="middle" fill="#111" transform="rotate(-22 169.6 130.5)" dominant-baseline="central">Pt195</text><text x="20" y="255" font-size="3.8" text-anchor="end" fill="#666">10</text><text x="20" y="236.5" font-size="3.8" text-anchor="end" fill="#666">10</text><text x="20" y="218" font-size="3.8" text-anchor="end" fill="#666">10</text><text x="20" y="199.5" font-size="3.8" text-anchor="end" fill="#666">10</text><text x="19.5" y="258.5" font-size="3.8" text-anchor="middle" fill="#666">10</text><text x="120" y="298.7" font-size="3.8" text-anchor="middle" fill="#666">10</text><text x="50.7" y="271.9" font-size="3.8" text-anchor="middle" fill="#666">10</text><text x="150.8" y="286" font-size="3.8" text-anchor="middle" fill="#666">10</text><text x="81.8" y="285.3" font-size="3.8" text-anchor="middle" fill="#666">10</text><text x="181.7" y="273.4" font-size="3.8" text-anchor="middle" fill="#666">10</text><text x="113" y="298.7" font-size="3.8" text-anchor="middle" fill="#666">10</text><text x="212.5" y="260.7" font-size="3.8" text-anchor="middle" fill="#666">10</text><path d="M49.5 213.5h0M29.7 245.9h0M70.6 224.4h0M96 273.4h0M123.2 245.6h0M84.2 236.7h0M59 218.4h0M50.2 226h0M108.5 253.6h0M142.1 219.7h0M90.4 251.6h0M43.6 239.2h0M140.8 252.7h0M87.7 242.2h0M76.8 256.9h0M35.8 215.9h0M56.1 213h0M61.5 237h0M52.9 261.1h0M101 244.1h0M77.6 230.4h0M57.6 241.3h0M95.6 244.4h0M70.2 212.1h0M73.4 221.9h0M31 208.2h0M80.8 215.6h0M78.6 244.2h0M68.4 236.8h0M40.2 234.2h0M38.5 224.7h0M28.5 226.5h0M88.5 262.7h0M37.8 210.4h0M107.2 263.7h0M90.3 248.3h0M38.1 249.1h0M81.3 255h0M81.7 224.8h0M71.1 210.8h0M70.3 238.3h0M116.6 240.4h0M35.1 225.4h0M108 250.1h0M67.4 210.1h0M48.1 253.8h0M135.1 256.3h0M101.6 259.1h0M172.4 218h0M104.4 262.1h0M112.1 250.2h0M111.9 233.1h0M56.9 228.4h0M77.3 241.4h0M131.3 256.6h0M64.9 255.5h0M79.2 228.5h0M103.2 249.9h0M66.1 226.9h0M74.2 253.6h0M89.2 239.3h0M83.9 223.3h0M114 219.5h0M30.7 241.7h0M31.3 253.5h0M116.7 210.1h0M66.3 225.7h0M43.1 237h0M36.8 233.2h0M96 237.2h0M39.9 252.6h0M31.7 239.9h0M103.3 219.8h0M67.7 227.2h0M63.1 230.7h0M77.9 241h0M60.4 230.5h0M32.1 225.8h0M72.2 242.9h0M90.1 242.3h0M62.4 241.5h0M61.8 227.8h0M52.6 223.9h0M60.2 245.2h0M86.1 246.5h0M65.5 241.4h0M83.8 209.9h0M152.2 226.1h0M145.9 219h0M93.2 208.1h0M44.2 222.1h0M114.5 285.6h0M80.7 241.9h0M56.6 211.4h0M42.2 212.3h0M67.6 246.3h0M96 219.7h0M151.3 240h0M89.8 236.2h0M68.4 232.8h0M39.7 237.9h0M41 224.4h0M79.4 212.1h0M96.5 225.6h0M59.8 255.4h0M82.1 224.3h0M97.5 230.6h0M98.5 241h0M149.4 241.1h0M103.7 256.8h0M84.9 226.3h0M107 249.3h0M45.1 238.2h0M67.2 246.7h0M104 258.9h0M24.4 249h0M154 223.5h0M121.5 271h0M39.8 235.8h0M132.3 209.7h0M81.2 235.8h0M64 266.7h0M140.5 248.8h0M49.9 223.7h0M70.4 234.5h0M69.5 255.8h0M65.6 215.1h0M45.3 215.3h0M88.3 251.5h0M120.9 249h0M103.7 227.7h0M44.8 226.9h0M84.5 258.8h0M53.1 230.2h0M154.1 213.2h0M114.8 270.3h0M43 248.1h0M131 273.7h0M59.1 209.7h0M104.6 254.2h0M75.4 219.7h0M71.2 230h0M77.8 221.5h0M150.4 260.7h0M162.1 265.5h0M60.1 250.8h0M44.8 229.7h0M182.3 238.8h0M42.8 246.7h0M81.4 260.4h0M98.4 226h0M119.1 238.8h0M94.9 236.1h0M46.8 253h0M99.2 256.6h0M151.3 225.4h0M79.4 213.3h0M29.2 236.2h0M40.3 218.9h0M135.1 252.3h0M59.5 215.6h0M57.9 254.1h0M80 255.8h0M125.2 238h0M105.3 261.8h0M53.4 241.5h0M72.9 237.6h0M147.2 227.1h0M145.4 219.6h0M112.5 234.7h0M92.6 242.2h0M123.3 239.8h0M74.7 263.8h0M76.4 255.6h0M47.3 220.8h0M80.2 217.1h0M76.9 252.5h0M185.4 218.5h0M72.7 237.5h0M128.3 244.3h0M130.2 256.5h0M72.9 245.2h0M124.4 265.6h0M83.6 248.6h0M112.6 219.4h0M36 236.6h0M120.1 213.5h0M38.3 254.9h0M65.8 241.9h0M59.4 237h0M107.5 218.5h0M97.2 226.6h0M69.4 243.9h0M54.7 234.4h0M78 259.4h0M130.4 236.5h0M93.3 215.8h0M104.3 247.3h0M74.3 219.9h0M30.9 238.6h0M104.7 226.1h0M83.9 246h0M45.7 219.4h0M84.2 246.7h0M67.1 235.2h0M67.5 227.9h0M90.8 229.7h0M91.2 230.1h0M130.6 245.3h0M110.6 226.4h0M67.2 264.2h0M77.9 231.9h0M98.8 229.9h0M68.2 256.2h0M100.9 239.7h0M123.8 268.9h0M49.6 210.3h0M125.4 248.6h0M80.7 245.9h0M106.9 259h0M145.9 234.5h0M108.1 221.5h0M75.2 255.4h0M66.6 235h0M84.3 255.1h0M73.7 263.9h0M69.4 238.7h0M37.5 214.5h0M128 228.8h0M78.5 251.9h0M82.8 229.4h0M83.5 260.6h0M100 237.8h0M67.5 221.2h0M69 232.8h0M82.7 259.1h0M43 227.5h0M112 227.7h0M53.6 217.8h0M45.7 252.1h0M86 220.4h0M108.3 254.7h0M57.4 265.9h0M120.4 255.7h0M125.4 251.1h0M77.9 240.9h0M97.6 223.2h0M113.8 240h0M72.5 242.4h0M116 236.7h0M159.3 251.3h0M72.1 249.7h0M39.9 225.8h0M27.2 223h0M55.7 256.8h0M52.5 223.4h0M100.1 236.2h0M29.8 233.1h0M156.6 234.3h0M119.4 231.8h0M99.9 237.4h0M147.3 223.1h0M100.4 215h0M82.9 229.8h0M33.3 248.9h0M77.2 212.4h0M52.1 251.6h0M53.2 250.9h0M52.9 230.4h0M78.3 228.5h0M67.5 216.7h0M113.1 228h0M29.6 216.4h0M73.6 261.3h0M150.7 269.7h0M81.5 227.7h0M125.5 233h0M130 222.2h0M108 241.3h0M27.5 239.8h0M69.8 236.5h0M65.5 252.4h0M62.4 225.2h0M88 208.3h0M78.3 217.5h0M53.9 217.6h0M43.9 216.6h0M59.4 228.6h0M65 217.9h0M64.5 232.2h0M78 246.4h0M63.4 234h0M94.7 236.3h0M99.9 212.8h0M93.6 208.4h0M54.8 226.9h0M56.6 253.6h0M96.5 241.5h0M72.5 257.1h0M78.4 255h0M92.8 260.4h0M92.5 249.8h0M133 278.7h0M107.4 246.1h0M88.4 240.4h0M80.6 230.4h0M25.8 236.9h0M57.1 227.8h0M99.1 232.4h0M87.6 254.9h0M90.3 218.9h0M113.9 236.2h0M65.3 221.7h0M47.5 251.7h0M65.7 221.6h0M143.3 231.1h0M66.2 243.3h0M125.1 252.6h0M111.4 222.5h0M107.7 211h0M110.5 266.4h0M41.5 237.4h0M94.2 250.6h0M140.4 253.2h0M53.6 249.8h0M78.2 227.6h0M53.8 230.3h0M39 237.2h0M141.2 223.1h0M65.7 232.8h0M148.1 248.3h0M116.9 234.4h0M100.2 249.1h0M66.4 266.4h0M71.5 215.4h0M107.5 242.5h0M114.9 222h0M115.4 230h0M88.1 225.3h0M72.7 222.2h0M134.7 263.3h0M67 255.9h0M61.9 234.2h0M127.4 239.3h0M107.5 234.5h0M106.5 237.6h0M30.1 237.5h0M65.8 228.1h0M60.4 229.7h0M128.3 220.2h0M91.4 237.8h0M96.5 225.2h0M79 229.2h0M130.7 225.6h0M91.6 255.5h0M106.6 273.3h0M53.7 254.4h0M111 220.6h0M67.5 229.7h0M126.7 256h0M100 238.9h0M88.5 250.6h0M156.3 231.8h0M111.6 267.9h0M129.7 264.6h0M55.4 236.8h0M77.9 240.5h0M109.6 247.6h0M88.1 223.3h0M92.9 254.1h0M61.5 222.9h0M55.6 247.3h0M82.1 234.3h0M149.1 228.9h0M41.6 257.7h0M57.1 258.1h0M120.6 222.4h0M63.9 213.3h0M83.4 262.4h0M93.6 274h0M146.2 238.3h0M104.9 256.4h0M99.6 219.1h0M89.6 232.3h0M46.4 240.6h0M136.4 233.1h0M104.2 224.9h0M59.3 222h0M92.8 232.3h0M45.8 220.1h0M94.9 229.2h0M52.9 235.1h0M71.9 244.9h0M97.2 235.3h0M67.6 222.1h0M104.6 227.9h0M97.3 253.2h0M93.7 229.4h0M130.3 213.1h0M103.4 245.8h0M115.8 260h0M156.4 226.8h0M108.7 263.2h0M111.5 226.3h0M46.4 228.7h0M108.6 221.5h0M105.6 244.9h0M39.9 256.1h0M45.9 233.1h0M75.8 222.9h0M82.7 226.3h0M88.8 229.3h0M73.3 220.1h0M90.1 214.8h0M97.3 224.4h0M41.6 243.1h0M95.8 254h0M70.5 233.2h0M44.1 240.4h0M87.9 229.3h0M136.5 230.8h0M155.1 264.6h0M70.4 220.4h0M77.7 236.2h0M50.1 213.7h0M44.3 238.6h0M86.5 247.9h0M89.9 230.4h0M40.4 223h0M51.7 246.2h0M79 227h0M89.3 224.2h0M122.8 235.4h0M131.8 241.3h0M35.7 237.5h0M58.9 232.3h0M80.7 217.1h0M107.8 255h0M93 258.5h0M94.1 256.3h0M81.9 237.8h0M72.2 256.9h0M56.7 231.5h0M91 222.3h0M83.4 240.5h0M58.2 236.4h0M66.1 232.3h0M103.1 237.5h0M25.2 235.2h0M48.1 257.2h0M128.8 241.9h0M99 217.2h0M69.7 258.9h0M55.8 244.9h0M77 263.6h0M68.2 239.2h0M70.6 247.7h0M78.7 236.7h0M84.8 246h0M138.9 225.1h0M90 215h0M36.7 229.7h0M103.1 237h0M42.4 243.6h0M97.5 237.2h0M38.4 213.9h0M80.6 239.3h0M76.8 248.1h0M118 255.1h0M46.7 257.6h0M75.9 230.8h0M84.3 251.8h0M71.5 209.3h0M109.1 225.1h0M33.6 226.9h0M89.5 246.2h0M124.3 258.2h0M68.8 233.5h0M156.7 235.5h0M51.7 254.2h0M87.7 245.9h0M61.3 231.8h0M56.1 262.9h0M59.1 237.4h0M77.6 225.1h0M49.1 223.3h0M113.2 238.4h0M137.4 235h0M111.3 248.1h0M86.8 241.7h0M88.9 269.8h0M173.1 256.1h0M92.3 236.7h0M86.6 250.2h0M109.4 240.5h0M51.5 224.2h0M86.7 242.2h0M157.2 222.1h0M117.4 238.8h0M128.4 262.8h0M71.1 227.9h0M97.3 217.6h0M109.2 253.7h0M25.3 234.6h0M157.6 272.9h0M52.8 231.9h0M142.1 216.5h0M160.5 213.1h0M56.7 216.9h0M198.3 218.7h0M84.3 227.5h0M56.7 242.5h0M156.1 242.6h0M105 237.4h0M108.6 237.9h0M67.3 214.4h0M37.6 224.4h0M77.9 238.9h0M146.8 276.7h0M100.5 239.2h0M82.3 221.9h0M82.5 257.3h0M107.8 237.9h0M115 226.9h0M87 213.4h0M145.2 237.5h0M108.7 235.1h0M50.9 253h0M54.2 208.3h0M49.9 224.7h0M141.1 227.1h0M77.4 234h0M47.5 224.9h0M58.1 242.4h0M75.8 248.1h0M76 237.9h0M66.5 210h0M50.8 258.1h0M138.5 228.4h0M58.4 252.3h0M59.4 219.4h0M125.2 261h0M65.6 242.3h0M86.4 254.2h0M69.6 221.6h0M46.3 241.5h0M91.8 242.7h0M34.9 234.8h0M97 239.6h0M105.5 277.6h0M110.7 248.3h0M73.4 234.3h0M59.2 251.9h0M83.3 246.4h0M57.4 232.4h0M31.1 224.5h0M46 235.5h0M148.2 268.4h0M62.7 212h0M96.6 249.4h0M126.7 237h0M27.6 242h0M40.1 219.9h0M86.3 243.9h0M95.4 245.7h0M81.1 239.3h0M52.3 213.5h0M59.9 244.6h0M122.4 212.2h0M103.9 223.8h0M90.9 234h0M145.7 256.8h0M111.2 242.9h0M132.5 269.1h0M87.8 212.1h0M113.7 273.1h0M76 222.5h0M92.3 257.1h0M141.5 243.8h0M95.2 247.7h0M39.5 221.6h0M70.7 228h0M63.7 253.7h0M89.4 214.7h0M158.1 252.6h0M92 219.1h0M67.2 260.7h0M86.5 222.1h0M84.2 223.3h0M67.5 227.1h0M83.6 258.5h0M38.9 218.8h0M104.5 228.4h0M69.9 264.8h0M90.4 253h0M105.2 247.6h0M95.6 257.2h0M102.5 246.3h0M94.2 255.7h0M112.3 257.6h0M83.4 250.4h0M96.9 249.8h0M73.5 252h0M111.9 251.6h0M42.6 246.2h0M89.9 241.9h0M94.6 248.3h0M95.4 255.2h0M88.3 254.8h0M113.3 241.8h0M131.1 253.4h0M76.2 254h0M49.6 254.2h0M66.9 258.2h0M73.2 261.8h0M85.1 251.4h0M85.1 242.5h0M108.5 244.3h0M79.5 253.3h0M88 257h0M88.9 245h0M70.8 255.9h0M80.3 245.4h0M142.1 242.2h0M84.6 243.8h0M68.4 251.9h0M43.3 249.9h0M107.2 241.9h0M79.8 243h0M73.2 241.9h0M137.2 250.1h0M117.2 253.3h0M54.6 260.1h0M80.6 250.4h0M109 256.6h0M103.9 246.8h0M66.3 257.8h0M123.9 251.9h0M124.4 246.3h0M67.5 264h0M52.8 256.7h0M60.2 255.3h0M101 249.9h0M107.8 240.8h0M90.2 244.4h0M76.8 258.1h0M84.1 241.5h0M100 256.2h0M64.1 257.3h0M55.5 264.4h0M86.8 256.3h0M112.6 250.7h0M93.2 261.1h0M91.4 250.4h0M74.3 253.2h0M106.9 255h0M53.3 253.5h0M87.5 258.4h0M76.6 257.6h0M84 249.1h0M68 247.2h0M100.2 236.9h0M88 262.9h0M74.2 244.7h0M96.3 242.6h0M87.4 256.8h0M77.7 256.1h0M76 254.8h0M102.9 249.3h0M68.5 252.2h0M82.1 246.8h0M81.3 248h0M94.2 253.9h0M84.7 258.5h0M131.1 251h0M52.9 257.3h0M96.7 236.1h0M87.2 254.5h0M109 246.7h0M52.5 241.2h0M112.7 255.4h0M60.3 257.5h0M100.9 248.7h0M97.6 250.8h0M88 252.1h0M73 255.4h0M71.3 255h0M89.2 251.3h0M73.1 257.5h0M49.2 260.3h0M103.2 249.6h0M103 245.6h0M96.9 246.2h0M88.7 253.7h0M95 251h0M97.4 251.3h0M92.2 249.5h0M71.7 253.2h0M73.8 258.6h0M66.3 263.6h0M90.9 253.1h0M67.9 254.4h0M83.2 245.2h0M112.3 240.1h0M80.2 253.1h0M106.5 246.7h0M118.2 245.5h0M50.5 251.2h0M59.3 255.7h0M95 238.2h0M72.5 246.8h0M97.4 244.8h0M102.3 252.4h0M77 249.5h0M103.1 242.8h0M122.4 246.8h0M106.5 247.3h0M71.6 259.7h0M85.3 253.6h0M77.5 254.3h0M118.6 244.6h0M84.8 255.7h0M73.6 249.2h0M87.3 241.9h0M99.1 254.6h0M80.1 249.6h0M90.2 251h0M88.7 254.7h0M103.7 254.5h0M104.2 230.4h0M92.4 243.8h0M80.2 259.9h0M94.4 239.5h0M71.1 256.9h0M109 245.1h0M94.2 244.5h0M92.9 249.3h0M38.8 249.3h0M135.4 245.1h0M118.2 252.8h0M111.9 238.1h0M90.2 246.5h0M102.9 255.7h0M145.1 243.2h0M74.7 251.3h0M104.8 256.8h0M98.7 238.8h0M91.2 248.7h0M95.8 250.2h0M69.2 252.3h0M102.4 253.3h0M61.4 245.4h0M125.1 244.7h0M104 243.3h0M73.6 260.9h0M90.4 246h0M98 242.5h0M69.6 253.9h0M121.4 239.8h0M94.1 246.4h0M80.7 254.9h0M61.4 252.8h0M89 261.9h0M85.6 251.8h0M101.7 245.3h0M109 240.4h0M89.6 247.5h0M99.8 255.6h0M118.2 249h0M103.2 257h0M85.8 259.3h0M102.3 251.8h0M78.5 248.4h0M98.3 248.2h0M90.6 250.9h0M66.2 244.7h0M101.8 250.5h0M90.1 244.2h0M103.9 247.6h0M62.9 252.2h0M112 250.3h0M114.9 262.3h0M81.3 244.8h0M87.5 250.9h0M92.5 262.7h0M88.1 245.3h0M105.6 246.5h0M75.2 252.6h0M67 256.6h0M82.8 242h0M127 246h0M82.2 255.7h0M72.1 269.4h0M70.9 253.5h0M91.7 246.8h0M112.3 247.5h0M71.7 237.9h0M92.7 252.2h0M94.8 259.3h0M98 249h0M91.7 250.1h0M109.3 245.8h0M102.5 249.3h0M75.4 245.6h0M138.2 251.6h0M61.5 252.9h0M62.4 252.8h0M110.9 257.1h0M92.5 250.4h0M83.5 249.3h0M94.5 260h0M102.5 249.7h0M81.4 258h0M75.6 249.8h0M66.2 244.1h0M71.9 255h0M74.4 262.3h0M110.8 244.3h0M94.5 252.2h0M100.1 253.4h0M77.8 254.6h0M109.4 247.8h0M58.7 261.1h0M98.2 250.7h0M101.7 245.5h0M78.3 259.4h0M69.2 259.4h0M99.2 251.5h0M75.3 257.9h0M68.1 238.6h0M88.4 252.8h0M66.5 255.3h0M83.7 239.8h0M130.6 256.4h0M80.2 254.8h0M105.9 245.4h0M67.3 252.6h0M90.4 252.5h0M83.1 252h0M83.5 242.2h0M103 246.2h0M131.2 246.4h0M86.6 255.3h0M115 251.8h0M94.2 243.7h0M102.3 244.9h0M79.6 255h0M73.9 250.1h0M84.7 253.2h0M72.3 249h0M88.8 254.8h0M67.7 255.3h0M89.1 254.7h0M91.9 250.9h0M123.4 240.3h0M121.1 238.1h0M98.5 249.8h0M77.9 249.4h0M98.9 240.4h0M104 245.2h0M85.4 256.7h0M73 261.6h0M54 262.1h0M89.1 259.6h0M125.9 242.5h0M84.2 251.2h0M95.1 244.4h0M94.9 245.5h0M99.7 259.3h0M104.2 251.3h0M49.7 262.2h0M88.3 267.4h0M150.2 228h0M78.9 233h0M126.1 229.9h0M83.2 238h0M128.7 238.5h0M55.8 245.1h0M75.3 226.5h0M82.5 251.1h0M154.6 236.4h0M61 254.4h0M128.5 225.4h0M126.3 220.8h0M107.2 242.4h0M121.3 225.6h0M166 222.5h0M110 239.7h0M95.2 235.9h0M130.9 210.6h0M122.3 234h0M72.1 234.8h0M103.4 221.7h0M109 232.9h0M74.6 243.7h0M78.8 240.7h0M87.3 244.5h0M68.7 228h0M115.9 236.4h0M112.8 246h0M47.6 249.1h0M90.6 234h0M105.4 232.8h0M71.5 253.7h0M94.7 235.6h0M107.3 227.1h0M56.7 233.1h0M97.2 248.4h0M46.8 262.1h0M119.9 230.5h0M87.9 256.5h0M65.1 241.8h0M57.7 253.2h0M58.1 236h0M130.3 219.2h0M80.4 241h0M87.9 243.1h0M92.5 243h0M62 238.5h0M118.3 226.5h0M39 251.2h0M121.8 227.6h0M81.4 238.6h0M103.2 241.9h0M110.1 243h0M117 215.7h0M72.7 254.3h0M115.6 233.2h0M99.6 238.7h0M97.1 239.5h0M95.2 245h0M129 234h0M108.4 220.7h0M133.1 234.3h0M120.2 221h0M52.3 252h0M98 238.3h0M121.5 217.2h0M77.9 242h0M58.2 245h0M42.2 245.8h0M153 238.8h0M77.6 243.3h0M103.3 232h0M77.1 256.8h0M110.2 233h0M140.3 224h0M59.9 229.8h0M99.5 241.1h0M83.1 248.9h0M57.6 263.4h0M75.7 234h0M102.7 244h0M133.2 238.9h0M132.9 233.2h0M99.5 236.1h0M55.6 234h0M116.6 233.1h0M98.6 231.7h0M95.9 222.4h0M72.9 248.3h0M95.8 236.1h0M147.9 221.2h0M140.9 241.6h0M130.3 223.4h0M112.1 215.2h0M85.5 221.2h0M101.1 240.1h0M103.3 233.2h0M108 227.4h0M86.9 221.6h0M76.9 235.1h0M125.3 219.7h0M90.6 237.5h0M119 223.6h0M93.9 230.1h0M116.7 231h0M111.1 226.2h0M119 233.5h0M74 232.3h0M69.1 254.3h0M99.3 237.7h0M138.6 216.3h0M79.1 239.8h0M75.9 237.3h0M155.4 217.8h0M64.9 257.2h0M85 236.2h0M90.3 240.1h0M81.5 233.5h0M82.5 234.2h0M123.3 216.5h0M103.7 229.2h0M103.6 231.3h0M58.5 244.2h0M119.7 230.9h0M104.2 235.4h0M105.1 239.9h0M119.9 228.6h0M110.5 243.9h0M100.6 240.7h0M113.2 243.8h0M82.5 240h0M80.3 251.2h0M66.9 245.4h0M120.3 216.4h0M83.9 239.9h0M104 233.2h0M124.3 217h0M142.5 216.1h0M89.9 233.4h0M108.9 252.5h0M103.1 237.5h0M71.7 258.6h0M90.3 246.2h0M171.1 225.8h0M100.3 242.5h0M140.6 212.5h0M121.5 240.5h0M141.3 216.4h0M133.7 230.5h0M105.5 233.5h0M73.1 256.6h0M137.9 235.7h0M121.4 245.5h0M113.1 236.5h0M121.5 230.2h0M82.2 247.1h0M108.3 253.7h0M101.1 240h0M63.6 246h0M68 234.2h0M95.5 230.9h0M45.4 249.9h0M119.6 236.3h0M120.3 235.7h0M98 235.7h0M107.2 235.1h0M58.5 259.9h0M108 249.2h0M120.9 240.3h0M115.6 244.5h0M125.2 239.6h0M102.1 250.6h0M146.3 213.1h0M109.5 229.2h0M119.9 232.6h0M127.3 231.9h0M83.9 251.5h0M68.4 229.2h0M119.4 232h0M69.6 246.4h0M83.7 234.8h0M123.9 228.5h0M75.1 251h0M76.7 246.2h0M69.1 243.3h0M74.7 244.6h0M145.6 222.8h0M115.3 239.8h0M123.3 229h0M54.2 256.5h0M39.5 247.7h0M71.5 243.4h0M123.2 220.6h0M128.3 226.8h0M52.9 255.7h0M54.6 239.8h0M115 229.2h0M106 235.4h0M109.7 230.6h0M145.4 239.1h0M119 258.1h0M146.5 241h0M153.3 239.2h0M156.4 232.8h0M132.2 242.4h0M121.5 245.5h0M110.5 249.5h0M147.1 250.3h0M145.3 239.1h0M135.4 235.4h0M138.3 240.8h0M146 247.7h0M128.2 244.2h0M114.3 255.2h0M113.4 250.7h0M121.1 243.5h0M121.3 249.9h0M110.9 251.1h0M129.4 250.8h0M121.7 256.4h0M144.4 244h0M138.8 260.6h0M144.7 238.6h0M118.7 260.9h0M120.4 255.4h0M115 262.5h0M140.2 248.7h0M175.6 220.9h0M137.9 245.1h0M130.9 254.8h0M138.3 246.6h0M132.5 241.6h0M148 240.1h0M135.8 249.2h0M124.9 258h0M107.2 254.6h0M140.5 246.2h0M147.9 238h0M135.3 241.1h0M121.7 249.7h0M131.4 256.2h0M131.9 252.7h0M143 243.2h0M134.3 247.7h0M152.8 244h0M132.2 248h0M125.3 248.8h0M160.9 236.5h0M122.1 255.7h0M123.3 249.7h0M166.1 240.4h0M136 237.2h0M159.2 234.6h0M99 258.3h0M154 243.8h0M133.6 243.1h0M135.7 244.4h0M142.7 246.4h0M95.8 261.2h0M121.3 248.9h0M140.9 243.5h0M179.5 226.3h0M125.9 255.1h0M169.4 237.3h0M145.7 248.2h0M153.7 252.8h0M123.7 258.4h0M144.8 246.7h0M122.9 251.5h0M121.9 264.6h0M153.8 242.2h0M124.9 250.3h0M130.3 256.5h0M145.9 246.2h0M123.3 250.8h0M118.1 256.5h0M141.9 256h0M139.5 247.3h0M157.6 242h0M117.9 249.8h0M144.8 242.2h0M147.1 248.7h0M129 250.1h0M133.2 249.7h0M137.6 253.4h0M120.2 252.1h0M119.3 262.5h0M144.3 241.6h0M118.9 250.3h0" stroke="#8a8c96" stroke-width="0.85" stroke-linecap="square" opacity="0.7"/><g fill="none" stroke-linecap="round" stroke="#146048" stroke-width="1.9"><path id="k41" d="M107 213.1h0M126 211.6h0M111.5 217h0M119.7 215.2h0M116.1 215.1h0M104.4 210.2h0M114.8 214.7h0M118.8 212.9h0M101.8 213.3h0M106.6 217.6h0M121.9 213.6h0M94.6 213.7h0M101.8 213.4h0M92.8 218h0M118.8 213.7h0M101.4 214.8h0M120.7 212.6h0M103.9 215.3h0M107 217.2h0M110.5 213.6h0M96.5 218.2h0M93.3 217.7h0M110.7 213.9h0M124.1 212.3h0M122.2 209.6h0M104 218.3h0M114.1 215.8h0M92.6 215.5h0M103.5 210.4h0M94.8 218.6h0M99.9 214.6h0M103.4 214.1h0M118.7 215.3h0M110.8 211.4h0M114.8 209.9h0M101.6 217.1h0M121.1 211.8h0M92.5 217.3h0M102.6 214.4h0M94.2 214.8h0M123.2 213.4h0M120.7 213h0M119.2 209.2h0M110.7 210.5h0M111.1 213.9h0M107 213.1h0M108.3 214.8h0M111.7 213.9h0M122.4 210.3h0M106.5 214.9h0M120.5 215.2h0M112.7 211.8h0M121.8 211.7h0M119.9 212.1h0M96.9 216.3h0M106.6 214h0M95.9 216.1h0M96.6 217.8h0M99.2 216.9h0M103.7 212h0M117.7 214.5h0M110.7 212h0M113.7 213.2h0M124.3 212.4h0M119.7 212.5h0M94.5 213.5h0M92.7 214.6h0M104.4 212.5h0M105 215.4h0M108.5 217.7h0M120.6 211.9h0M104.9 214.3h0M108.7 217.3h0M102.9 216h0M115.7 209.7h0M125.5 211.2h0M104.1 210.7h0M124.1 212.8h0M108 214.3h0M116.3 209.3h0M110.2 210.5h0M121 214h0M105.7 210.9h0M125.8 211.6h0M106.3 214.1h0M113.5 216.5h0M98.3 218.5h0M116.8 214.8h0M112.6 217.1h0M98 211.9h0M91.7 214.9h0M122.5 213.6h0M100.9 218.8h0M100.9 214.6h0M101.8 212.1h0M119.4 210h0M117.8 213.9h0M120.7 213.1h0M114.8 213.9h0M105.2 216h0M110.9 209.2h0M104.8 213.9h0M102.3 211.4h0M102.1 211.3h0M94 216.7h0M113.8 216.7h0M113.7 215h0M91.2 215.7h0M118.1 209.7h0M115.9 209h0M111.1 209.4h0M100.3 218.5h0M98.5 214.4h0M118 210.8h0M96.7 214.9h0M121.4 212.8h0M120.5 211.2h0M101.7 215.4h0M106 211.8h0M113.8 214h0M91.4 216.7h0M110.4 212.9h0M105.1 216.1h0M122.9 211.1h0M122.8 214.1h0M107.2 214.7h0M121.2 210.7h0M94.3 215.3h0M110.6 215.9h0M109.5 210.7h0M112 211.8h0M91.2 215.8h0M96.2 215.1h0M93.9 217.9h0M103 216.9h0M104.7 216.9h0M97.3 217.3h0M113.5 216.2h0M116.3 213.7h0M106.1 211.6h0M114.3 213.8h0M125.3 209.9h0M94.2 214.6h0M109.9 212.7h0M122.7 213.5h0M98.9 218.2h0M104.6 212h0M107.3 217.6h0M94.9 214.6h0M117.1 209.3h0M111.8 209.5h0M93.3 214.8h0M97.2 216.4h0M108.6 215.6h0M117.5 210h0M101.9 216.8h0M108.8 212.9h0M113.3 211.6h0M105.5 216.1h0M97.2 217.6h0M114.4 208.9h0M110.2 217.1h0M107.5 210h0M108.3 212.5h0M123 213.4h0M105.9 214h0M116.9 213.4h0M106.6 210.8h0M110.8 216h0M116.2 211.7h0M100.5 218.4h0M112.5 213.7h0M112.6 214.4h0M103.9 214.8h0M105.2 215.3h0M107.2 212.2h0M119.3 209.5h0M98.3 218.1h0M118 209.6h0M105.1 211.3h0M108.9 211.9h0M112.6 214h0M92.8 216h0M121 208.9h0M91.3 216h0M103.9 211.6h0M93.7 214.7h0M102.5 212.3h0M107.8 214.8h0M106.6 214.9h0M111.6 212.1h0M114.1 209.1h0M124.2 209.7h0M112.7 217.1h0M95.8 214.3h0M120 213.8h0M94.3 214.3h0M101.8 216.8h0M110.6 209.2h0M106.8 214.9h0M102.2 218.7h0M121.2 214.1h0M113.8 216.5h0M104.7 217.7h0M123.9 212.2h0M97.6 214.5h0M112.9 210.9h0M118 210.7h0M117.7 214.7h0M120 214.6h0M108.2 216.1h0M118.2 213h0M112.7 211.5h0M123.6 213.8h0M98.8 218.3h0M97.4 218.2h0M120.7 215h0M119.7 213.7h0M119.1 213.9h0M113.7 210.6h0M109.2 210.9h0M106.5 216.1h0M111.6 214.8h0M110.8 210.2h0M107.4 218.2h0M100.7 216h0M119.9 210.1h0M118.6 209.5h0M112 214.4h0M112.2 213.4h0M120.8 213.5h0M91.8 217h0M103.3 212.4h0M111.4 211.7h0M94.9 216.5h0M111.5 212h0M107.7 211.4h0M113.4 213.1h0M103.9 214.3h0M110 217.1h0M112.6 212.6h0M97.2 216.2h0M109.7 216.1h0M96.6 215.1h0M97.9 216.7h0M126.2 211.1h0M104.7 211.4h0M122.9 211.7h0M91.4 217.2h0M97 218h0M96.8 217h0M112.9 215.2h0M103.4 211h0M102.2 211.1h0M115.8 215.3h0M109.3 217.6h0M111.7 212.5h0M98.3 217.3h0M105.6 210.4h0M107.6 213.6h0M120.3 210.7h0M105.5 213h0M118.8 209.8h0M121.2 212h0M102.7 215.9h0M114.4 214.3h0M120.1 213.9h0M108.9 210.6h0M101.8 216.7h0M118.3 210.6h0M102 212.7h0M102.1 215.6h0M118.8 214.8h0M113.3 216.5h0M122 209.8h0M93.8 213.9h0M98.3 218.6h0M100.9 212.2h0M120.3 209.3h0M99 216.1h0M126 211.7h0M124 212.3h0M118.5 214.8h0M112.5 215.1h0M91.1 217h0M108.4 212.5h0M114.5 209.7h0M105 211.9h0M117.6 213.7h0M104.9 213.6h0M106.1 218.3h0M115.6 210.8h0M113.4 212.8h0M101.6 212.3h0M106.8 211h0M106 216.5h0M118.5 209.4h0M114.9 212.5h0M100.7 216.1h0M118.3 212.1h0M92.1 215.6h0M106 217.1h0M95.8 215.4h0M101.6 218.5h0M116.1 211.5h0M118.2 213.8h0M110.9 215.8h0M101.4 218.1h0M116.2 210.1h0M123.1 214h0M119.8 210.4h0M118.2 215.5h0M103.9 214.4h0M118.3 209.1h0M95.4 218.5h0M101 211.4h0M107.3 213.4h0M101.3 214.9h0M106.8 214.9h0M102 216.3h0M103.4 212.8h0M103.8 210.8h0M114.5 210.9h0M113.1 211.4h0M99.3 214.2h0M116.2 212.1h0M91.2 216h0M121.6 210.3h0M105.5 213.3h0M98 217.2h0M115.2 214.5h0M114.1 210.3h0M114.1 216h0M102.2 214.8h0M123.4 211.2h0M110.6 215.5h0M120.5 210.8h0M113.6 209.7h0M110.2 217.5h0M106.8 211.7h0M98.3 213.5h0M108.9 212.6h0M115.1 213.1h0M112.4 215.5h0M98 215.8h0M110.1 215.9h0M106.6 213.6h0M110.1 216.7h0M110.2 210.3h0M118 213.2h0M118.9 215.2h0M115.4 216.4h0M114.8 208.8h0M117.1 215.4h0M119.2 211h0M102.1 215.3h0M118.4 209.8h0M97 214.6h0M114.4 213.5h0M123.8 209.4h0M115.1 211.2h0M116.3 209.7h0M93.3 216.9h0M103.5 211.7h0M117.9 215.2h0M91.8 215h0M97.8 212.6h0M106.9 214.1h0M105.3 213.4h0M102.7 210.7h0M116.3 213.1h0M109.5 211.8h0M118.9 211.8h0M107.9 210.1h0M99.9 217.4h0M110.5 215.8h0M107.4 216.1h0M106.3 216h0M105.6 211.1h0M112.6 211.3h0M106.8 211h0M114.9 214.1h0M101.7 218.6h0M105.5 212.2h0M94.8 216.3h0M97.6 215.8h0M101.4 213.9h0M121.3 213.1h0M116.2 211h0M123.6 213.7h0M105.7 218.4h0M91.6 215.6h0M104.3 218h0M97.3 212.3h0M116.9 215.2h0M115.8 212.2h0M104.7 212.6h0M100.6 214.5h0M112.1 213.7h0M101.3 216.8h0M99.1 217.4h0M117.4 214.4h0M114.3 212.7h0M109.1 209.8h0M122.9 214.1h0M122.6 210.5h0M110.3 213.1h0M117.3 210.5h0M94.3 216h0M110 212h0M124.1 211.8h0M117.1 214.2h0M120.8 212h0M102.1 213.9h0M109.3 216.6h0M102.5 213.5h0M100.6 218h0M109.7 210.7h0M98.6 212h0M102.4 214h0"/></g><use href="#k41" fill="none" stroke-linecap="round" stroke="#22a078" stroke-width="1.4"/><g fill="none" stroke-linecap="round" stroke="#146048" stroke-width="1.7"><path id="k42" d="M120.2 210h0M124 210.7h0M119.2 212.3h0M126.7 211.1h0M123 212.7h0M119.3 212.4h0M123.2 211h0M125.4 213.2h0M119.2 214h0M126 209.3h0M118.8 212.9h0M119.4 211.1h0M126.1 212.2h0M122.3 210.1h0M119.4 212.1h0M121.9 213.1h0M125 211.1h0M120.4 212.8h0M126.4 209.7h0M120.9 210.1h0M124.4 209.5h0M121.4 212.1h0M126.8 209.7h0M120.5 213.2h0M119.4 211.3h0M121.3 212.9h0M123.3 211.4h0M119.5 210.5h0M125.9 210.7h0M122.2 211.8h0"/></g><use href="#k42" fill="none" stroke-linecap="round" stroke="#22a078" stroke-width="1.2"/><g fill="none" stroke-linecap="round" stroke="#187476" stroke-width="1.9"><path id="k43" d="M92.2 216.1h0M71.2 225.3h0M100.3 223.2h0M87.8 220.7h0M76.9 224.3h0M85.7 224.4h0M77.6 226.3h0M100.5 222.9h0M82.9 220.4h0M86.3 224.1h0M78.7 226.8h0M89.1 223.9h0M82.8 224.6h0M83.2 220h0M90.9 224h0M88 225.2h0M98 220.6h0M72.7 226.7h0M74.6 221.8h0M90.9 219.9h0M82.9 219.6h0M98.9 218.7h0M77.7 225.9h0M88.5 227.3h0M73.3 222.1h0M87.5 225.3h0M101.8 217.5h0M87.8 218.7h0M110.5 217h0M91.6 223.3h0M93.1 223.8h0M81.5 220.5h0M72.4 226.8h0M91.6 226h0M93.2 225.2h0M85.5 226.6h0M80.6 226.5h0M86.2 222.1h0M81.4 221.7h0M102.8 218.6h0M74.9 224.4h0M90.3 226.3h0M110.5 217.9h0M71.2 226.9h0M90.5 218.8h0M77.9 220h0M95.6 221.3h0M85.1 221.1h0M88.3 227h0M103.6 217.1h0M90.1 220.9h0M89.9 217.7h0M80.6 218.5h0M107.3 219.6h0M96.8 215.3h0M102.7 221.6h0M100.2 219.8h0M98.1 220.4h0M89.1 226.6h0M102.3 218.3h0M77.2 226.9h0M79.3 228.1h0M82.4 228h0M109.5 220h0M75.7 224.6h0M108.5 217.5h0M95 215.3h0M107 217.6h0M103.8 222.2h0M87.8 226h0M76.5 223.5h0M110 218.3h0M92 221.4h0M82 224h0M84.5 224.1h0M104.5 220.8h0M85.2 221.3h0M92.6 217.8h0M93.3 224.9h0M93.5 215.8h0M105.9 217.2h0M92.9 219.4h0M107.1 221.8h0M98.3 224.9h0M91.8 216.3h0M90.4 217h0M103.8 221.2h0M88.3 225h0M84.8 227.7h0M97.9 218.2h0M101.4 218.4h0M94.5 226.1h0M82.5 226.8h0M96 222h0M105.6 219.4h0M109.5 216.5h0M80.2 220.7h0M99.3 224.4h0M74.5 223.7h0M82.7 226.7h0M95.7 220.2h0M82.3 218.1h0M81.6 223.6h0M71.1 225.3h0M108.4 219.4h0M101.6 221.6h0M84.3 224.5h0M105.5 221.4h0M84.4 219.5h0M82.4 219.4h0M98.9 224.6h0M74.8 227.8h0M90.6 217.7h0M101.1 219.9h0M100.6 224.2h0M108.4 219.2h0M79.3 224.6h0M99.9 217.1h0M89.3 224.7h0M91.5 218.8h0M80.7 223.6h0M76.4 223.3h0M93 219h0M91.7 220.4h0M91.8 223.9h0M76.8 222.6h0M81.3 220h0M99.2 223.8h0M77.3 225.4h0M107.3 218.6h0M79.3 224.9h0M95.2 215.3h0M100.9 223.3h0M88.5 216.7h0M98.8 222.2h0M82.8 224.1h0M90 219.4h0M84.6 224.9h0M85.1 222.1h0M77.2 223.1h0M98.8 215.3h0M75.1 222.2h0M93.8 222.4h0M92.2 222.9h0M90.2 222.8h0M95 217.3h0M85.2 219h0M99.9 217.2h0M82.1 218.1h0M74 224.6h0M70.6 225.5h0M109.3 216.7h0M71.9 224.8h0M86.2 222h0M94.4 215.4h0M100.9 222.4h0M85.5 227.8h0M92.9 218.1h0M97.4 223.7h0M97.5 224.5h0M93.5 223.7h0M103.8 217.4h0M101.7 219.1h0M103.9 222.8h0M82.7 224.9h0M83.6 227.1h0M86.6 225.7h0M90 223.3h0M77 220.7h0M85.9 218.2h0M97.1 221.7h0M107.5 218.2h0M99.1 224.1h0M83 221.9h0M90.1 221.1h0M101.4 216h0M73.1 225.6h0M107.4 219.3h0M79.2 222.6h0M98.5 216.8h0M73.3 225.7h0M100.1 219.5h0M96.3 218.6h0M90.6 223.8h0M96.4 219.2h0M97.8 222.3h0M88.1 217.6h0M98.6 225.1h0M104 220.9h0M93.6 223.9h0M79.2 221.4h0M96 220h0M93.8 224.9h0M90.8 219.8h0M77.3 227.8h0M100 221.9h0M98.4 215h0M85.9 224.8h0M104.7 220.5h0M74.7 224.8h0M80.5 220.9h0M91.2 217.5h0M95.1 217.6h0M78.8 227.3h0M97.8 219h0M90.3 218.9h0M85 226h0M100 221.3h0M83.8 220.5h0M91.6 223.9h0M87.3 221.7h0M94.4 216.3h0M97.4 224.6h0M77.2 225.9h0M79.7 227h0M74 223.3h0M74 227.4h0M88.2 223.6h0M81.3 220h0M83.2 223.1h0M94.4 216h0M100.6 222.7h0M93.4 220.7h0M106.3 221.7h0M101.7 224.1h0M92.3 219.6h0M90.2 220.6h0M101 215.1h0M83.2 217.9h0M83.2 225.8h0M80.9 221.4h0M87.9 227.4h0M78.6 220.1h0M79.2 219.3h0M83.7 223.8h0M77.6 223.4h0M74.1 225.7h0M107.9 215.5h0M75.5 221.5h0M83.1 224.5h0M91.2 227.1h0M99.7 215h0M104.8 219.1h0M83.2 225h0M89.1 226h0M79.5 227.9h0M81 219.9h0M91.3 220.3h0M90 217h0M96.8 222.1h0M97.3 224.5h0M88.2 223.6h0M91 217.1h0M109.2 217.4h0M103.1 220.1h0M95.2 216.8h0M93.1 216h0M75.8 221.7h0M110 216.9h0M75.9 220.5h0M87.5 220.5h0M75.6 221.8h0M108.6 220.1h0M72 226h0M89.8 223.5h0M96.2 224.5h0M93.4 226.6h0M104.8 219.3h0M71 224.6h0M100.2 214.9h0M83.9 218h0M82 226.3h0M84.9 222.9h0M110.6 217.1h0M76.4 228.2h0M96.4 217.7h0M75.3 227.9h0M105.7 221.5h0M79.1 222.1h0M82.5 227.6h0M92.4 224h0M83 220.8h0M96 216.7h0M86 219.7h0M108.6 216.5h0M102.3 222h0M104.4 220.9h0M106.7 217.4h0M85.7 221h0M72.7 226.1h0M89.1 217.9h0M82.7 221.3h0M71.7 224.4h0M83.3 223.2h0M105.7 220.5h0M91.1 223.1h0M77.4 224.7h0M106.7 216.4h0M75.1 223.3h0M83.2 220.7h0M100.3 220.1h0M109 220.6h0M99.9 222.2h0M99.2 218.7h0M84 223.9h0M94.5 218.5h0M102.7 219h0M103.7 218h0M110.1 217.6h0M108 215.7h0M102.2 222.9h0M81.4 224.6h0M79.8 219h0M86.8 224.8h0M100.5 223.3h0M86.9 227.7h0M107.9 221.2h0M107.8 220.6h0M75.8 225.1h0M96.8 220.5h0M87.3 227.4h0M105.1 217.1h0M83.1 221.9h0M71.3 223.9h0M91.9 220.7h0M97.3 223.8h0M88.4 222.3h0M101.7 219.2h0M108.9 219.6h0M71.9 225.1h0M78 220.4h0M78.9 226.7h0M86.4 220.3h0M108.9 219.5h0M93.5 218.8h0M86 223.5h0M85.1 222.3h0M86.2 226.6h0M80.9 224.1h0M97.1 220.8h0M105.4 220.7h0M82.4 224.6h0M93.9 219.1h0M98.3 219.6h0M97.3 220.4h0M73.7 224.9h0M77.3 220.5h0M78.7 227.6h0M92.9 225.5h0M96.1 216.5h0M76.7 225.2h0M82.5 222.2h0M90.3 222.7h0M94.9 219.7h0M95 222.2h0M104.6 221.8h0M81.2 226.1h0M109.2 217.8h0M70.5 223.8h0M95.6 221.4h0M91 227.1h0M95.2 220h0M100.6 221.8h0M89.2 225.8h0M84.9 224.5h0M70.9 223.9h0M86.3 225.2h0M89.8 221.7h0M74 227.5h0M95.9 224.2h0M102.7 219.8h0M93.3 223.5h0M87.8 227.1h0M86.2 221.3h0M95 219.8h0M92.1 222.6h0M101.4 219.9h0M91.9 216.6h0M93.2 221.6h0M81.7 226.1h0M86.6 221.8h0M98.7 223.9h0M86.8 225.9h0M89.8 226.1h0M80.4 224.7h0M90.9 225.4h0M88.5 217.3h0M73 222.2h0M89.6 216.1h0M106.4 218.1h0M98 220.9h0M100 222.5h0M91.6 225.7h0M83.5 226.1h0M97.9 220.9h0M72.7 225.1h0M93.5 223.7h0M85.1 218.2h0M91.6 226.1h0M81.1 227.4h0M93.9 224.9h0M101.8 223.6h0M101.1 224.1h0M94.3 219.1h0M89.8 217.5h0M107.9 215.9h0M75.2 221h0M100 224.4h0M84.1 226h0M106.2 219.8h0M89.5 216.9h0M110.4 219h0M89.2 224.7h0M73.7 224.1h0M88.4 219.9h0M78.7 227.9h0M87.7 226.6h0M99 217.8h0M83.7 224h0M98.9 218.1h0M94 222h0M91.9 223.7h0M81.1 226.5h0M76.8 226.8h0M100.6 221.7h0M82.6 221.6h0M78.8 223h0M78.2 224.4h0M76.7 225.5h0M102.3 224h0M107.5 220.9h0M102.6 221.2h0M75.8 221.7h0M89.4 224.9h0M98.8 222.4h0M106.3 216.2h0M98.1 217.5h0M99.3 218.3h0M100.9 218.9h0M93 217.9h0M103.7 216.2h0M102.3 215h0M74.7 224.7h0M80.8 223.7h0M101 224.1h0M71.2 224.7h0M82.2 222.5h0M95 221.2h0M90 219.6h0M107.5 220h0M74.4 225.2h0M87.9 219.4h0M109 219.6h0M98.4 221h0M93.5 218.5h0M73.4 226.8h0M102.6 218.7h0M100.4 215.1h0M76.1 226.9h0M76.3 222.1h0M108.8 218.4h0M77.1 223.5h0M105.4 218.2h0M105.7 218.6h0M90.2 227.1h0M96.5 220.9h0M102 220h0M91.2 220.2h0M72.2 223.2h0M89.1 227h0M95.1 218.7h0M88 223.6h0M91.4 217.4h0M106.3 219.5h0M106.1 215.2h0M87.1 222.9h0M83.9 218.4h0M96.9 222.9h0M73.2 227.2h0M99.1 216.8h0"/></g><use href="#k43" fill="none" stroke-linecap="round" stroke="#28c2c6" stroke-width="1.4"/><g fill="none" stroke-linecap="round" stroke="#780c0c" stroke-width="1.9"><path id="k44" d="M106.4 225.3h0M111 221.2h0M105.4 230.5h0M98 229.3h0M102.2 224.3h0M108.3 221.8h0M117.9 220.5h0M119.3 226.3h0M107.4 224.1h0M95.6 227.1h0M120 221.6h0M115 228.2h0M108.5 225.1h0M98.7 228.2h0M103.7 226h0M107.4 228.3h0M105.6 225.3h0M103.3 228.8h0M106 230.8h0M97.1 230.7h0M116.1 221.2h0M116.8 227.3h0M109.7 228.3h0M98.1 229.2h0M106.1 224.5h0M108 229.1h0M122.8 222.3h0M110.4 227.2h0M93.3 230.4h0M114.6 226.3h0M106.3 228.9h0M102 227.1h0M103.5 229.8h0M126 222.7h0M95.2 229.8h0M115.9 223.7h0M114.9 220.7h0M118.9 224.9h0M107.9 230.1h0M117.8 223.2h0M121.2 224h0M104.8 228.1h0M111.2 223h0M112.1 227.8h0M101.2 230.8h0M108.8 229.3h0M116.2 221.4h0M98.4 230.6h0M119.1 224.5h0M99.7 224.9h0M112.5 228.6h0M120.5 225.1h0M111 223.1h0M106 222.7h0M115.8 222.7h0M124.9 224h0M99.5 226.6h0M96.9 228.6h0M124.5 220h0M110.6 223.2h0M98.4 228.2h0M105 226.6h0M117.8 221.2h0M99.8 230.8h0M105.3 227.7h0M122.6 225.1h0M118.2 222.3h0M101.8 228.4h0M121.3 220.5h0M111.9 229h0M113.5 226.1h0M116.1 220.7h0M103.3 227.6h0M113.1 220.8h0M116.9 224.1h0M109.4 229.7h0M103 226.4h0M101.1 225.5h0M100.3 230.2h0M119.7 225.4h0M104.6 224.3h0M98.3 231.3h0M102.9 225.1h0M111.5 228.9h0M118.7 223h0M105.7 228.2h0M126.8 220.3h0M118.8 222.5h0M105 223.4h0M115.9 226.2h0M98.6 226.3h0M93.7 229h0M102.6 227.7h0M109.1 226.9h0M127.2 222.5h0M98.1 227.8h0M122.5 224.4h0M95.3 229.6h0M100.1 224.9h0M114.8 228h0M111.7 222.8h0M94.8 229.9h0M118.9 220.7h0M102.5 226.3h0M114 223.5h0M112.1 221.8h0M108.1 229.4h0M112.1 228.1h0M102.8 228.7h0M99.7 225.5h0M93.3 230h0M117.4 225.7h0M121.7 224.1h0M127.7 221.7h0M116.4 221.4h0M120.6 219.9h0M116.5 225.9h0M120 222.2h0M115.9 221.7h0M117.4 225.2h0M109 224.5h0M97.2 231.2h0M113.2 226.8h0M109.3 228.6h0M112 223.5h0M125.3 224.1h0M126.3 222.2h0M107.7 223.6h0M117.8 223.2h0M117.9 224.9h0M106.2 226.5h0M114.2 222.4h0M119.5 220.7h0M106.7 224.3h0M121.7 222.2h0M110.2 221.6h0M99.9 230h0M110.1 222.3h0M105.4 228.2h0M107.5 224.2h0M120.6 223.1h0M117.2 222.4h0M121.3 225.3h0M119.8 224h0M106 229.2h0M99.7 229.8h0M107.5 226.3h0M107.3 223.1h0M94.2 230.2h0M119.2 221.6h0M100.1 227.5h0M112 229.3h0M116.6 222.8h0M111.7 225.7h0M98.5 226.6h0M121.6 222h0M108.4 223.8h0M119.7 224.7h0M101.8 226.3h0M122.6 221.7h0M116.9 221.3h0M123 224h0M122 221.9h0M108.5 230h0M95.9 231.1h0M121.1 219.9h0M120.7 224.5h0M102.1 223.7h0M103.4 223.5h0M102.8 229.3h0M118 225.6h0M118.5 220.3h0M105.2 223.6h0M104.5 225.9h0M126.5 223.1h0M111.5 227.5h0M117.4 222.3h0M126.7 221.5h0M118 226.2h0M122 225h0M118.1 221.9h0M103.7 225.5h0M115.4 227.2h0M93.9 230.4h0M102.2 229.4h0M115.9 226.3h0M113.6 223.6h0M122.7 223.8h0M121.2 221.9h0M95.8 231.3h0M103.6 223.2h0M127 222.5h0M126.6 222.5h0M110 229.6h0M112 229.1h0M105.8 226h0M101.2 228.6h0M112.2 228.4h0M113.3 229h0M106 230.9h0M95.1 227.8h0M107.8 224.2h0M123.3 221.8h0M103.9 223.4h0M101.1 226.9h0M101.7 229.2h0M107.8 230.3h0M108.7 222.9h0M120.7 223h0M116.9 223.3h0M123.9 222.2h0M108.4 227.9h0M109.7 223.6h0M109.1 229h0M118.7 225.1h0M122.9 222h0M115.5 224.4h0M99.5 224.8h0M107.8 222.6h0M119 222.4h0M93.8 229.5h0M104.6 227h0M100.1 229.8h0M121.1 223.2h0M109.1 225.5h0M107.8 229.8h0M112.2 228.4h0M110 222.2h0M114.4 228.7h0M109.1 224.5h0M114.9 225.8h0M124.6 220.7h0M111.7 226.5h0M106.1 223.9h0M112.2 224.6h0M111.1 224.6h0M106.5 226.8h0M127.9 221.7h0M119 227.1h0M95 228.7h0M116.6 226.6h0M123.3 220.5h0M109.7 226.3h0M110 229.8h0M94.5 229.5h0M125.8 220.8h0M98.3 226.9h0M122.3 224.4h0M105.8 230.5h0M93.4 229.4h0M111.5 222.6h0M111 227.9h0M106.4 229.4h0M121.1 219.9h0M112.6 224.1h0M107 223.9h0M111.5 221.9h0M99.5 225h0M102.3 230.8h0M126.3 222h0M116.7 221.4h0M106.7 222.3h0M118.3 227h0M111.6 221.9h0M113.1 226h0M117.7 225.6h0M117.2 221.4h0M119.8 224.6h0M115.6 225.5h0M114.1 223.5h0M106.5 222.5h0M112.9 227.9h0M116.5 222.9h0M112.2 227.9h0M112.3 223.3h0M109.9 222.8h0M123.6 223.6h0M98.7 226.3h0M120.2 220.6h0M100.8 229.6h0M97.3 229.1h0M115.8 220.3h0M123.3 221.4h0M107.2 227.3h0M114.8 222h0M121.9 224.2h0M104.9 230.9h0M103.1 225.4h0M112.2 225.6h0M106 230.2h0M94.2 230.7h0M99.9 231.3h0M102.9 223.9h0M111.9 223h0M112.1 229.4h0M98.7 226.7h0M119.8 225.7h0M125.6 222.5h0M116.2 226.2h0M103.3 229h0M114 220.9h0M106 228.9h0M101.9 226.5h0M118.6 223.9h0M101.9 223.9h0M122.6 220.1h0M113.8 228.8h0M126.3 223h0M115.1 225.9h0M121.1 224.1h0M109 225.7h0M94 230.9h0M109 227.8h0M101.8 227.6h0M109.4 228.7h0M102.1 228.4h0M94.2 230.4h0M98 227h0M110.2 226.4h0M126.3 223.6h0M93.1 230.2h0M119.3 225.6h0M97 227.3h0M119.1 226.1h0M109.8 225h0M101.6 229.4h0M109 226h0M119.7 222.1h0M104 225.8h0M98 227.1h0M114.5 221.5h0M99.3 226.6h0M110.4 223.7h0M103.6 223.3h0M102 224.6h0M124.3 224.1h0M113.4 221.5h0M104 225.5h0M102.1 230.5h0M108.6 229.4h0"/></g><use href="#k44" fill="none" stroke-linecap="round" stroke="#c81414" stroke-width="1.4"/><g fill="none" stroke-linecap="round" stroke="#75157a" stroke-width="1.9"><path id="k45" d="M138.6 223.1h0M124.7 224.6h0M129 223.4h0M123.6 223.8h0M127.2 225.7h0M131.8 222.3h0M139.7 218h0M133.8 221.7h0M135.9 223.9h0M118.6 226.3h0M132.1 220.5h0M135.2 224.5h0M126.8 223.8h0M125.2 227.5h0M125.6 221.4h0M135.4 221.3h0M141.6 218.5h0M130.2 223.7h0M122.7 224.8h0M124.5 227.7h0M135.9 223.8h0M137.6 217.8h0M136.2 218.4h0M141.9 220.4h0M129.5 220.6h0M128.2 225.7h0M130.2 223.8h0M134.7 225h0M129.9 223.6h0M128.4 221.7h0M124.2 221.4h0M130.5 221h0M141.4 220.9h0M127.2 221.9h0M134.7 223.5h0M128.9 222.9h0M131.5 221.8h0M135.5 223.3h0M127.9 222.2h0M139 217.7h0M140.8 219.8h0M140.8 218.4h0M132.1 222.6h0M130.5 223.5h0M127.9 225.8h0M136.8 222h0M131.4 224.9h0M121.7 226.6h0M121.7 222.9h0M137.2 218.8h0M131.7 221.5h0M121.3 227.3h0M132.7 218.2h0M132.6 221.5h0M124.9 226.1h0M134.9 224.2h0M134.9 224.7h0M132.8 220.1h0M127.2 226.9h0M133 225.1h0M127.8 222.2h0M121.4 224.1h0M140.2 219.7h0M132.9 219.1h0M132.1 219h0M140.7 222h0M137.4 220.6h0M120.4 224.6h0M136.6 222.1h0M136.7 219.7h0M139.9 219.8h0M133.4 223.8h0M140.1 221.1h0M121.3 227.9h0M128.4 223h0M132.8 220.7h0M131 223.9h0M134.7 217.8h0M127.7 225.8h0M121.2 225.3h0M141.9 219.4h0M122.6 226.4h0M135 223.9h0M137.1 221.8h0M139.9 219h0M135.1 221.7h0M139.4 220.6h0M121.1 225.9h0M128.2 226.9h0M126.1 227h0M122.3 226.5h0M136.6 218.7h0M126.5 226.3h0M121.6 227h0M123.5 224.6h0M138.8 221.4h0M121.2 226.7h0M137.7 222.3h0M128.8 224.6h0M126.5 221.2h0M127.5 223.5h0M127.4 221.8h0M137.5 220.8h0M125.2 224.1h0M129.9 226.5h0M127.6 222h0M126.8 221.7h0M135.3 222.7h0M137.4 218.7h0M134.5 220.5h0M140.1 219.8h0M125.1 227.8h0M137.5 222.7h0M134.4 221h0M128.8 220.6h0M131 225.8h0M132.4 220.5h0M137.6 218.8h0M131.6 222.3h0M140.2 222.1h0M127.7 225.8h0M138.9 218.3h0M129.4 224.6h0M126.4 226.5h0M127.2 222h0M121.6 226.7h0M129.9 221.2h0M128.2 226.6h0M130.5 225h0M123.3 227.6h0M133.5 225.7h0M124.6 223.6h0M137.1 221.9h0M126.6 226.2h0M131.1 225.5h0M137.7 223.2h0M121.3 225.7h0M131.2 221.6h0M130.5 220h0M129.4 221h0M129 221.6h0M133 222.7h0M122.4 226.5h0M137.1 219h0M137.5 219.4h0M136.1 224.1h0M130.9 219.6h0M133.3 222.9h0M140.3 222.2h0M137.6 223h0M137.4 217.4h0M120.6 226.8h0M136.8 218.3h0M132.5 222.7h0M136.1 219.4h0M122.7 227.9h0M141.1 217.9h0M131.8 225.8h0M129.9 221.2h0M138.7 220.7h0M130.1 220.3h0M136.2 219.9h0M137.2 218.3h0M121.7 224.5h0M123.6 225.9h0M126.3 223.8h0M131.9 220.1h0M142.4 218.6h0M133.6 224.1h0M132.6 222h0M128.2 220.5h0M127.3 224.9h0M139.9 219.2h0M123.1 226.5h0M132.2 220.8h0M129.3 220.2h0M137 224.2h0M122.8 223.7h0M134.3 223.9h0M123.1 223.2h0M137.1 221.2h0M138.1 222.4h0M136.7 220.3h0M122.7 223.6h0M128.6 222h0M130.3 222.6h0M128.5 224.5h0M127.6 220.2h0M125 226.8h0M136.3 217.7h0M139.9 220.3h0M125.3 226h0M124.3 225.3h0M142.7 220.4h0M139.8 217.8h0M140 219.2h0M124.7 222.3h0M120.6 226.7h0M133.4 225.6h0M125 225.1h0M122.4 224.6h0M140.8 222h0M121.2 223.1h0M130.9 220.3h0M143.1 218.7h0M134 221.4h0M140.2 218.9h0M134.8 220.1h0M134.3 221.5h0M126.9 220.8h0M133.8 221.6h0M137.3 218.5h0M139.2 221.8h0M121.1 223.2h0M123.6 226.8h0M126.8 220.3h0M124.4 222.9h0M137.5 223.6h0M127 222.6h0M132.3 221.3h0M122.3 226.6h0M139.1 221.6h0M121.1 224h0M140.7 218h0M133.7 224.6h0M127.1 227.1h0M135.5 221.9h0M136 222.4h0M122.3 227.4h0M139.2 218.3h0"/></g><use href="#k45" fill="none" stroke-linecap="round" stroke="#c424cc" stroke-width="1.4"/><g fill="none" stroke-linecap="round" stroke="#75157a" stroke-width="1.7"><path id="k46" d="M150.3 215.4h0M148.1 217.9h0M142.7 218.7h0M150 216.9h0M130.4 224.1h0M138 220h0M142.9 218.5h0M137.5 219.2h0M136 222h0M147.3 217.1h0M148.7 217.8h0M148.2 217.1h0M141 219.1h0M137.1 220h0M146.2 219h0M143.7 219.3h0M143.1 219.9h0M151.4 216.1h0M127.5 222.7h0M133.7 221.8h0M132.8 222.8h0M151.7 216.8h0M145.5 219h0M136.8 222h0M140.2 220.8h0M152.5 217.5h0M150.2 215h0M133 222.9h0M150.4 217.2h0M145.3 219h0M148.9 217.2h0M138.3 219.8h0M135.9 221.6h0M143.2 219.7h0M131.7 222.8h0M147.3 218.7h0M143.5 219.7h0M142.5 217.2h0M129.8 225.5h0M147.4 216.6h0M145.3 220.6h0M139.5 220.9h0M151.5 215.7h0M147.9 217.7h0M138.5 220.4h0M133.1 222.8h0M143.3 217.6h0M128.9 223.3h0M134.8 219.4h0M145.1 218.3h0M131.5 222.3h0M137.7 219.7h0M142.5 218.2h0M149.5 216.7h0M147 217.2h0M145.8 217.9h0M138.8 219.9h0M142.9 218.5h0M131.9 222h0M132.3 223.5h0M139.5 219.8h0M135.1 221.6h0M144.7 219.2h0M145.6 219.4h0M142.8 217.7h0M150.1 216.4h0M141.2 218.7h0M128.2 224h0M132.9 222.5h0M149.7 215.3h0M145 217.4h0M146.3 217.2h0M133.1 223.1h0M138.9 218.3h0M147.3 218.1h0M150.5 216.6h0M151.3 215.8h0M144.1 218.8h0M135.1 220.9h0M135.2 223.4h0"/></g><use href="#k46" fill="none" stroke-linecap="round" stroke="#c424cc" stroke-width="1.2"/><g fill="none" stroke-linecap="round" stroke="#0c0c67" stroke-width="1.9"><path id="k47" d="M106.4 232.2h0M120.6 227.5h0M117.3 230.7h0M112.2 229.8h0M113.2 229.6h0M130.4 225h0M114.3 229.8h0M120.6 228.9h0M117.8 228.7h0M117.6 228.9h0M111.9 231h0M111.2 231.1h0M128.3 227.2h0M109.1 230.5h0M102.4 233.4h0M121.3 228.4h0M124.6 226.9h0M104.2 234h0M122.2 228.9h0M127.3 225.9h0M106.2 231.2h0M127.4 226.1h0M116.1 231.6h0M127.7 226.4h0M120.8 228.1h0M115.8 229.2h0M113.6 229.6h0M129.9 225h0M117 230.7h0M119.7 229.2h0M112.5 233h0M127.2 224.7h0M119.4 228.9h0M110.7 229.3h0M128.8 225.3h0M126.7 227.4h0M119.9 228.7h0M123.9 228.5h0M101.8 234.3h0M118.7 230.8h0M125.1 227.4h0M108.2 230.5h0M105.7 231.9h0M114.6 232h0M129 226.5h0M129.3 226.7h0M110.3 233.3h0M111.3 232.2h0M124.2 226.5h0M117.3 228.5h0M112 232.4h0M102.9 234.7h0M108.5 231.7h0M126.8 227.8h0M102.1 234h0M129.6 226.1h0M128 224.6h0M117.5 229.3h0M107.1 232.7h0M124.8 228.5h0M125.1 225h0M117 231.1h0M115.9 231.9h0M115 230.7h0M121.7 226.3h0M109 232.7h0M108.5 232.8h0M123.6 228.7h0M114.7 231.4h0M113 228.4h0M108.7 231.4h0M120.6 229.9h0M127.1 224.4h0M111.4 232.3h0M117.4 228.6h0M119.8 227h0M119.8 227.7h0M107.9 231.8h0M126.5 225.8h0M112.1 229.3h0M103.3 234.7h0M111.5 228.8h0M121.6 227h0M121.8 227.7h0M122.9 228.2h0M119.4 228.7h0M107.7 231.6h0M113.8 229.7h0M123 227.8h0M117.8 229h0M108.6 232h0M108 233.3h0M105.8 233.4h0M113.3 232.1h0M118.1 228.9h0M122.8 225.7h0M104.4 234.2h0M116.1 229.9h0M113 232.4h0M113.5 229.3h0M105 232.3h0M109.1 233.6h0M123.2 225.9h0M117 229.5h0M112.1 230h0M117.3 227.8h0M106 233.2h0M112.8 230.1h0M120.1 229.3h0M114.3 230.7h0M117.8 227.1h0M119.8 228.2h0M121.5 228.2h0M110.3 230.7h0M105.3 234.4h0M108.5 230.5h0M122.9 229.1h0M105.5 231.4h0M108.2 230.4h0M122.4 228.9h0M115.8 227.6h0M115.5 231.1h0M107.5 231.3h0M111.5 229.7h0M109.1 230.3h0M116.7 231.9h0M104.2 233h0M125.7 225.7h0M121.7 226.5h0M115.3 229.2h0M110.4 229.7h0M113.5 231.9h0M117.7 230.4h0M117.4 227.2h0M107.8 232.4h0M110.7 233.6h0M117.1 229.2h0M105 231.7h0M121.3 227.1h0M118.9 228.9h0M119.8 230h0M125.2 227h0M108.9 231h0M115.6 227.5h0M113.3 231.8h0M120.8 230.4h0M106.2 232h0M122.1 225.9h0M122.1 225.4h0M126.7 226.1h0M105 234.2h0M108.5 233.9h0M103.8 233.2h0M126.3 227.8h0M119.4 227.6h0M112.5 231.7h0M122 229.3h0M115.5 231.4h0M113.4 229.3h0M115.9 231.5h0M111.2 229.7h0M123.2 229.3h0M105.2 233.2h0M124.4 227.1h0M122.5 227.6h0M118.5 227.6h0M115.6 230.1h0M118.7 226.5h0M119.6 230.2h0M105.8 234.1h0M129.7 224.7h0M127.7 225.9h0M124.3 225.9h0M117.8 228h0M127.4 224.7h0M127.8 226.8h0M121.4 226.6h0M123.9 229.2h0M107.2 232.6h0M127.7 227.6h0M120.6 228.1h0M115.5 230.8h0M124.6 226.1h0M110.8 229.5h0M102 233.7h0M111.2 232.8h0M112.1 229.1h0M109.7 230.3h0M129.5 224.6h0M125.2 226h0M108.8 229.9h0M121.5 226.1h0M109 230h0M119.9 229.7h0M111.2 230.2h0M126.8 227h0M124.9 227.6h0M108.6 230.5h0M110.5 231.3h0M125 227.3h0M120.2 229.1h0M116.9 230.7h0M106.6 232.2h0M126 225.3h0M118.1 226.8h0M121.4 226.8h0M114 231.1h0M110.2 232.9h0M120.9 228.5h0M121.2 226.8h0M105.3 234.3h0M120.9 227h0M129.5 224.6h0M124.1 228.2h0M108.1 231.6h0M121 230.1h0M117.2 228.8h0M110.8 229.9h0M113.3 228.1h0M120.3 226.2h0M124 228.9h0M116.6 227.6h0M110.9 231h0M117.1 230.6h0M102.9 234.4h0M127.1 225.4h0M103.7 233.1h0M117.2 231.2h0M120.1 229.1h0M102.8 234.6h0M121.1 226.1h0M113.3 231.6h0M124.8 225.4h0M107 232h0M111 230.7h0M126.6 225.5h0M112.1 229h0M115 229.4h0M114.6 230.1h0M116.5 227.7h0M122.1 226.7h0M115.7 232h0M112.3 229.8h0M122.6 228.6h0M117.1 229.6h0M122.9 229.3h0M127.5 224.6h0M127.3 227.6h0M119.4 226.9h0M121.1 228.1h0M104.1 233.3h0M125.2 227.4h0M113.2 231.5h0M112 229.4h0M116.8 230h0M112.7 233h0M127.2 227.5h0M126.2 228h0M114.7 229.1h0M123.6 226.6h0"/></g><use href="#k47" fill="none" stroke-linecap="round" stroke="#1414ac" stroke-width="1.4"/><g fill="none" stroke-linecap="round" stroke="#450e78" stroke-width="1.9"><path id="k48" d="M85.6 234.8h0M67.2 246.1h0M73.4 241.7h0M96.3 240h0M76.4 236.1h0M80.1 243.8h0M100.4 234.4h0M88.9 234.1h0M92.4 238.4h0M80.6 241.8h0M78.8 244h0M71.3 239h0M88.4 243.4h0M89.2 238h0M72.5 248.1h0M82.8 233.6h0M99.1 233.7h0M70.6 238h0M83.4 233.4h0M83.7 235.8h0M85.4 235.8h0M69.5 241h0M91.2 235.4h0M97.1 234.5h0M64 244.8h0M86.4 245.1h0M84.9 239.1h0M78.3 245.4h0M93.1 232.8h0M83.1 241.5h0M89.6 240.7h0M92.5 238.2h0M80.8 238.5h0M68.4 243.4h0M95.7 241.6h0M86.2 233.4h0M87.3 234.6h0M84.7 243.7h0M83 233.9h0M71.9 247h0M76.5 243.4h0M71.2 245.8h0M75.2 244.2h0M68 247.9h0M77.6 244.8h0M72.8 239.1h0M87.4 232.9h0M82.1 245.8h0M66.4 242.3h0M92.4 238.7h0M73 237.9h0M70.7 245.2h0M93.7 236.9h0M92.5 233.1h0M91.8 235.6h0M93.8 234h0M70.8 243.6h0M74 239.9h0M84.5 236.2h0M77.4 243.8h0M66.8 246.3h0M73 245.4h0M94.6 240.4h0M73.7 237.5h0M87.7 241.3h0M68.9 243.2h0M65.6 244.5h0M88.9 236.5h0M86.7 234.5h0M81.7 236.4h0M70 238.8h0M86 244.3h0M85.2 241.5h0M94.2 239h0M81.5 241.2h0M82.2 246.3h0M70.4 244h0M71.5 245.8h0M92.4 243.1h0M77.7 238h0M83.6 240.6h0M101 236.4h0M90.5 244.4h0M89.8 233.5h0M87.4 233.9h0M79.9 241.1h0M87.8 236.5h0M87.3 237.6h0M89.8 242.2h0M79.2 236.8h0M88.7 239h0M70.5 242.8h0M82.3 233.7h0M94.9 235.2h0M86.2 238h0M96 238.5h0M68.2 241h0M86.4 233.9h0M72.2 243.9h0M66 242.9h0M64.6 245h0M94.3 237.8h0M98.5 236.4h0M92.4 236.3h0M83 235.5h0M64.5 245.7h0M90 235.1h0M85.4 240.9h0M65.8 246.1h0M65.1 245.7h0M90.7 232.8h0M73.7 245h0M70 246.8h0M77.4 241.2h0M66 244h0M77.3 237.7h0M88.4 239.7h0M96.1 234.8h0M75.4 239.9h0M70.4 246.5h0M84.5 241.3h0M86 242.3h0M74.7 237.9h0M79.9 242.7h0M93.7 242.9h0M90.7 244h0M79.5 235.7h0M72.9 247.7h0M95.7 233.7h0M69.9 240.9h0M88 238.8h0M95.5 238.9h0M66.3 245h0M72.7 245.6h0M85.2 239.5h0M88.5 238h0M98 236.9h0M90.1 232.8h0M95.5 240.8h0M80 238.6h0M87.6 242.6h0M81.4 239.6h0M64 243.8h0M90.6 241.5h0M71.5 244.5h0M71 238.9h0M75.5 236h0M83.1 239.1h0M73 236.9h0M68 243.5h0M86.8 241.9h0M79.1 246.1h0M87.3 242.4h0M88.9 241.4h0M90.7 240.7h0M77.9 236h0M97.2 239.7h0M99.1 237.9h0M90.3 238.4h0M98.2 235.5h0M67.2 244.2h0M89.7 243.1h0M100.2 236.5h0M85.6 237.2h0M68.4 239.2h0M69 246h0M95.3 241h0M94 239.6h0M99.3 235.7h0M73.7 240.1h0M70 240.1h0M96.3 238.7h0M76.2 235.7h0M85.8 241.4h0M96 239.9h0M94.4 242h0M80 241.5h0M64.8 242.9h0M97.6 233.7h0M100 234.3h0M74 237.6h0M65.1 244.2h0M67.3 242h0M88.7 236.2h0M82.3 245h0M85.1 237.8h0M79.6 242.6h0M87.3 245.4h0M71.8 245.4h0M99.2 234.2h0M96.7 235.2h0M80.2 245.6h0M78.2 238.7h0M84.3 234.4h0M67.8 247.8h0M67.2 245.8h0M77.3 238.9h0M85.1 246.1h0M73.8 246.2h0M80.9 243.5h0M80.4 244.4h0M80.4 237.9h0M70 242.8h0M81.2 236h0M89.7 241.7h0M84.5 242h0M96.9 240.7h0M83.4 236.5h0M88.2 240.6h0M78 240.1h0M94.1 242.5h0M76.8 237.8h0M83.4 242.1h0M65.7 241.3h0M86.1 235.7h0M93.8 238.2h0M69.4 247.8h0M77.7 243.2h0M97.3 238.9h0M65.9 245.5h0M98.3 232.8h0M93.5 240.1h0M84.3 239.2h0M80.4 244.4h0M72.6 237.9h0M74.2 238.2h0M92.1 237.5h0M70.9 241.7h0M78.8 246.9h0M76.2 246h0M90.3 235.5h0M73.4 244.3h0M85.7 232.9h0M81.6 235.7h0M79.8 245.7h0M82.3 246.3h0M71.8 246.9h0M79.6 235.7h0M88.4 242.9h0M92.1 232.9h0M66.3 245h0M79.9 244.8h0M85.8 245.9h0M77 239.1h0M86.9 238.4h0M80.4 238.8h0M75.1 248.1h0M95.5 240.8h0M77 239h0M76 239.2h0M74.8 239h0M89.3 241.6h0M64.4 244.7h0M94.4 232.8h0M75.7 242.7h0M81.7 237.2h0M75.7 246.7h0M75.5 243.8h0M97.9 239.6h0M70.9 246.2h0M89.5 238.2h0M81.7 234.9h0M97.2 235.7h0M75.6 247.5h0M93.9 234h0M98.4 239.4h0M86.5 235.6h0M86 241.1h0M96.9 238.1h0M87 238.9h0M94.5 233.2h0M73.3 248.2h0M73.5 239h0M88.1 232.6h0M66.7 247.1h0M65.5 245.2h0M93.4 234h0M68.6 242h0M78.6 240.7h0M96.7 240.1h0M81.8 245.7h0M83.4 245.5h0M93.2 241.9h0M85 244.2h0M84.7 238.2h0M91.3 242.7h0M93.6 232.4h0M83 240h0M83.1 243.8h0M93.6 233.8h0M87.1 239.6h0M80.8 246h0M93.1 232.9h0M78.1 239.8h0M73 240.1h0M72.4 238.6h0M68.3 242.1h0M75.2 237.4h0M79.9 234.9h0M75.3 240.3h0M73.8 247.5h0M85.4 235.5h0M83 234.1h0M66.9 241.4h0M87.2 240.7h0M82.9 234.5h0M74.9 240.6h0M84.2 234.9h0M84.8 239.9h0M74.6 236.4h0M89.3 236.6h0M92.9 233.2h0M83 245.4h0M70.1 239h0M92.7 234.5h0M78.6 242.8h0M80.8 236.9h0M74.9 243.9h0M90.2 244.4h0M79.2 234.5h0M71.6 246.4h0M69.1 245.8h0M84.6 235.7h0M84 243.6h0M85.2 245.6h0M80.1 235.7h0M100.4 235.6h0M86.2 233.1h0M71.3 248.1h0M81.6 243.5h0M91.8 241.7h0M86 234.1h0M73.6 238.5h0M89.3 232.8h0M91.4 235.4h0M96.2 234.5h0M91.7 243.6h0M98 240.3h0M73.5 238.9h0M88.9 233.8h0M75.7 236.5h0M77.3 245.2h0M79.8 241.9h0M86.1 234.6h0M86.9 238.9h0M84.3 242.2h0M86.7 233.6h0M80.4 240.6h0M82 238.4h0M99.4 234.8h0M96 238.2h0M82 235.3h0M76.7 238.8h0M93.1 242h0M85.5 238.1h0M66 244.4h0M92.3 235.8h0M73.4 242.3h0M65.7 246.6h0M72.5 243.5h0M69.6 243.2h0M84.7 241.2h0M73.6 240.2h0M72.4 247.7h0M78.7 239.2h0M89.4 232.4h0M86.6 242.6h0M87.8 244.9h0M76 244.9h0M99.6 234.9h0M82.1 235h0M79.7 244h0M87.3 244.5h0M68.7 244.4h0M80.1 238.7h0M76.6 240.6h0M95.2 239.7h0M93.5 232.5h0M81.6 246.6h0M70.9 241.3h0M96.6 234.3h0M84.9 237.9h0M88.2 240.3h0M87.9 242.5h0M66.9 245.9h0M95 237.7h0M81.7 241h0M96.6 236h0M89.7 239.9h0M81.1 238.9h0M67.1 245.8h0M86.9 239.9h0M89.1 241.7h0M96.7 235.2h0M70 247.4h0M83.4 233.7h0M92.7 236.2h0M69.3 245.4h0M86.9 243.5h0M70.3 244.6h0M74.8 238.1h0M83.8 233.8h0M94 236.2h0M70.6 247.4h0M75.1 245.2h0M88.9 237.6h0M77.4 243.3h0M74.7 245.1h0M97.5 240.1h0M74.8 239.8h0M77.3 237.1h0M65.6 247.1h0M85 235.6h0M89.1 244.5h0M84.6 236h0M79 246.6h0M97.9 238.4h0M97.8 233.4h0M90.5 244.1h0M69.2 242.8h0M87.8 242.1h0M97.7 235.6h0M80.3 240.5h0M66 241h0M83.2 234.4h0M97.1 233.2h0M98.6 234.4h0M83.9 234.1h0M82.5 242.9h0M83 240.7h0M84 233.3h0M80.8 239.2h0M84.2 240.9h0M67.9 246.6h0M91 243.6h0M75 241.1h0M68.9 240.8h0M91 238.4h0M90.3 236.5h0M87.3 235.7h0M90.7 237.6h0M90 244.5h0M79.6 238.3h0M91.1 237.1h0M70.3 246.2h0M87.9 237.1h0M65.6 245.3h0M85.2 244.6h0M86 233.9h0M81.1 238.7h0M78.9 245.6h0M96.6 235.3h0M77.4 236h0M98.7 234.8h0M82.9 240.1h0M85.3 235.5h0M83.5 241.8h0M71.8 246.6h0M82.5 242.3h0M96.7 234.5h0M75.3 240.8h0M72.7 248.2h0M92.1 242.1h0M74.1 245.7h0M79.1 238h0M75.8 247h0M79.8 240.8h0M68.1 241.6h0M69.1 239.2h0M86.5 245.3h0M72.1 241.2h0M85.7 236h0M100.6 236.9h0M98.2 240.1h0M81.6 245.8h0M86.7 244.4h0M65.6 241.2h0M73 238.9h0M84.2 241.3h0M78 235h0M91.3 236.6h0M77.9 246.3h0M80.1 245.1h0M92.7 243.3h0M88.5 242.2h0M71.1 239.6h0M80.7 242.9h0M77.3 238.1h0M80.3 234.4h0M72.4 247h0M89.8 237.2h0M74 236.3h0M82.8 240.2h0M79.7 239.8h0M66.9 242.1h0M97.8 233.8h0M84.1 241.9h0M86.1 239.2h0M87.5 234.3h0M71.8 248h0M73.7 244.2h0M91.8 245.5h0M74.2 249.3h0M63.1 248.8h0M86.4 239.8h0M88.4 238.5h0M85.8 245.3h0M65.7 241.4h0M81.7 236.6h0M78.7 238.7h0M77.3 243.1h0M83.1 241.6h0M70.6 245.4h0M92.5 236.7h0M73.2 239.9h0M79.4 232.6h0M84.4 241.4h0M78.6 238.4h0M88.8 243h0M79.2 236.6h0M85.5 240h0M69.2 246.2h0M84.9 241.2h0M80.8 244h0M68.5 247.9h0M80.1 242.3h0M74.2 246.3h0M74.6 242.4h0M65.4 244.6h0M72.4 254.1h0M71.9 243h0M78.5 240.3h0M78.4 233.8h0M76.2 238h0M71 243.6h0M79.3 238h0M91.4 238h0M85.1 234.3h0M84.1 245h0M83.4 240.7h0M77.7 239.8h0M80.5 239.1h0M83.3 239.1h0M83.8 243h0M85.8 236.6h0M90.8 239.7h0M90.7 236.8h0M83.7 234.6h0M77.1 240h0M69.4 243.8h0M64.5 247h0M91.5 244.3h0M84.9 235.4h0M78.5 238.6h0M70.7 245.5h0M82.7 239.8h0M91.8 231.4h0M94.7 240.6h0M101.9 230.4h0M87.7 232.9h0M88.1 234.3h0M90.5 230.1h0M64 241.8h0M88.6 240.1h0M74.4 246.9h0M83.6 238.2h0M64.3 241.9h0M70.1 243.8h0M70.3 241.3h0M77.6 253h0M88.7 245.6h0M70.2 245.8h0M86.6 238.3h0M90.6 240.3h0M69.9 247.2h0M89.4 237.8h0M98.1 239.7h0M77 253.7h0M84.1 231.4h0M94.7 238.5h0M75.3 246.3h0M73.3 239.9h0M77.7 237.3h0M79.1 243.1h0M70.3 243.2h0M75.8 240.7h0M69.9 239h0M87 245.7h0M102.7 233.8h0M91.3 241.6h0M66.7 244.8h0M90.5 232.9h0M71 243.5h0M83.9 232.3h0M77.9 243.8h0M94 237.3h0M78.9 234.5h0M81.7 242.7h0M81.6 246.4h0M78 238.1h0"/></g><use href="#k48" fill="none" stroke-linecap="round" stroke="#7418c8" stroke-width="1.4"/><g fill="none" stroke-linecap="round" stroke="#1e731e" stroke-width="1.9"><path id="k49" d="M125.3 240.7h0M138.7 231h0M130.6 237.8h0M139.5 235.6h0M122.7 239.3h0M132 231.9h0M121.9 239.8h0M141.7 229.6h0M137.8 237.1h0M129.4 239.9h0M133.9 237.9h0M124.8 242.6h0M135.9 236.7h0M141.5 235.4h0M133 236.8h0M138.5 231.4h0M125 236.8h0M133.7 235.3h0M139.3 237.1h0M126.3 236h0M133.3 230h0M126.3 236h0M135.9 231.6h0M138.6 236.8h0M135 231.6h0M139 229.4h0M122.9 237.5h0M137.4 231h0M139.7 230.9h0M126.5 238.4h0M137.1 231.4h0M133.7 237.1h0M124.6 237h0M126.3 235.5h0M124.6 239.7h0M133.8 239.1h0M122.9 242.8h0M131.3 236.9h0M141.4 230.9h0M123.7 236.8h0M142.2 233.8h0M138.9 237.1h0M126 234.4h0M139.7 234.7h0M133.4 232.7h0M139.3 237.4h0M132.9 229.9h0M124.9 240.9h0M129.9 239.3h0M139.1 237.7h0M129.2 242.3h0M137.9 230.7h0M131.1 236.9h0M138 232.5h0M127 236.3h0M137.5 233.4h0M135.9 232.2h0M131.8 232.7h0M137 230.8h0M137.5 236.9h0M124.2 241.8h0M127.6 241.3h0M132.4 240.8h0M122.2 241.8h0M133 232.1h0M135.8 233.5h0M127.5 241.5h0M133.5 234h0M128.6 239.4h0M134.4 237.7h0M120.4 240h0M125.1 239.4h0M123.1 241h0M134.1 231.8h0M136.8 236.8h0M133.5 239.5h0M126 235.9h0M128.1 242.2h0M132.4 233.7h0M136.8 235.9h0M139.5 229.3h0M139.2 237.2h0M123.4 237.1h0M126 233.2h0M137 230.8h0M131 233.9h0M122.7 236.1h0M143.7 230.9h0M141.5 232.6h0M132.7 230h0M123.5 240.4h0M128.4 238.4h0M130.8 235.4h0M139.9 229.7h0M133.5 236h0M121.9 239.8h0M140.3 231.5h0M139.2 228.9h0M127.2 242h0M128.8 234.7h0M137.5 231.4h0M130.1 239.6h0M126.4 241.9h0M139.2 230.3h0M134.5 236.3h0M130.5 234.5h0M130.5 237.1h0M141.5 229.7h0M123.4 237.5h0M130.8 231.3h0M134.5 236.5h0M140.8 232.6h0M127 242.6h0M137.1 232.3h0M136.5 237.4h0M138.4 229.7h0M125.6 240.2h0M138.5 232h0M136.8 233.6h0M126 241.4h0M122.5 241.5h0M134.8 236.6h0M126.1 236.6h0M122.9 242.4h0M125.6 242.2h0M124.4 242.6h0M131.6 231.4h0M133 237.9h0M128.2 231.9h0M129.3 236h0M138.8 236.9h0M137.8 236.4h0M125.7 234.3h0M129.9 239.7h0M121.6 242.4h0M132.1 233.1h0M127.8 238.8h0M130.9 233h0M135.6 236.6h0M138.9 231.7h0M140.8 234.8h0M133.8 236h0M138.7 237.2h0M129.4 231.5h0M134.1 233.9h0M137.8 229.6h0M122.4 239.4h0M139.8 235h0M136.4 233h0M136.9 237.8h0M120.2 239.6h0M134.4 236.2h0M131.1 233.2h0M138.4 231h0M127 237.5h0M126.4 238.8h0M142.6 231.3h0M122.3 236.9h0M121.9 238.6h0M126.9 239.4h0M143.2 230.2h0M139.7 232.6h0M125.2 236.2h0M122.8 242.1h0M130.7 235.4h0M128.2 240.5h0M134.7 234.5h0M125.7 240.9h0M123 242.8h0M140.9 229.7h0M125.4 236.9h0M121.7 242.8h0M124.3 236.7h0M125.8 242.6h0M128.4 233.1h0M122.2 240.2h0M122.3 239.8h0M137.8 234.3h0M131.1 241.4h0M138.2 236.5h0M125.8 239.9h0M125.3 242.4h0M131.9 234h0M135.4 237.9h0M140.7 231.9h0M139.3 231h0M131.5 234.1h0M132.7 237.2h0M134.2 234.3h0M127.1 240h0M136.3 234.7h0M124.8 239.5h0M129.1 236.1h0M123.9 234.7h0M137.7 229h0M130.9 231.8h0M127.7 240.3h0M120.4 238.5h0M123.1 239h0M126 238.1h0M126.5 234.6h0M139.8 229.2h0M138.9 229.6h0M133 231.9h0M136 239.1h0M139 236.1h0M131 235.7h0M130 236.2h0M137.6 238.4h0M128.4 238.9h0M137.5 237.7h0M134.7 238.4h0M132.8 232.4h0M139.4 237.3h0M141.6 230.1h0M129.5 232.1h0M129.8 231.7h0M134.6 239.1h0M133.5 229.7h0M130.1 239.8h0M125.1 237.5h0M135.5 239.9h0M141.9 233h0M128.4 239.5h0M120.7 239.3h0M133.8 237.5h0M136.3 231.6h0M130.5 241.9h0M123.4 243h0M127.4 233.9h0M133 240.9h0M122.6 239.9h0M125.8 233.5h0M125.9 235.3h0M131 237.3h0M134.8 237.9h0M142.6 231.6h0M137.8 233.5h0M128.4 237.2h0M142.7 232.2h0M130.5 236.2h0M128.8 239.7h0M142.4 232h0M139.3 230.2h0M121.4 237.2h0M133.4 236.9h0M126.7 234.2h0M131.8 236.1h0M130.6 237.6h0M123.8 235.4h0M134.3 231.4h0M136.3 235.1h0M133.2 235.6h0M127.4 242.8h0M138.3 233.6h0M129.4 239.9h0M129.9 237.5h0M135.2 239.2h0M122.7 240.6h0M134.2 240.3h0M133.5 240.8h0M142.9 233.9h0M133.2 240.2h0M125.4 234.6h0M143 231.6h0M126.3 238.7h0M126.7 241.4h0M138.6 228.9h0M134.7 237.6h0M132.8 240.9h0M125.7 236.1h0M135.5 237h0M138.6 232.7h0M123.7 237.2h0M131.5 241.5h0M124 240.4h0M140.3 230.8h0M135.5 239.5h0M126.2 236.2h0M124.1 235.9h0M141.7 229.6h0M135.7 230.5h0M130.1 236.9h0M137.1 234.8h0M135.5 231.6h0M128.4 236.7h0M127.8 232.9h0M124.5 241.3h0M132.2 237.9h0M135.5 236.5h0M124.9 237.2h0M134.8 229.4h0M137.2 237.7h0M125.4 241.3h0M140.8 233.9h0M135.9 233.6h0M132.7 239.5h0M125 240.2h0M124.1 236.2h0M120.6 238.7h0M125.7 238.2h0M133.4 236.9h0M140.9 234h0M140.6 234h0M124.8 237.1h0M121 238.2h0M127.3 235.5h0M134.8 231.8h0M126.6 236.8h0M130.3 235.7h0M132.1 235.2h0M124.4 241.6h0M129.2 235.3h0M140.7 229.4h0M139.7 231.2h0M127.2 242.3h0M134.9 234.1h0M122.9 240.6h0M132.5 236h0M123.1 238.9h0M137.3 231.7h0M137 238.7h0M132.7 234.8h0M135.6 239.4h0M136.6 231.7h0M132.6 239.6h0M123.7 236.5h0M131.6 240.3h0M123.8 238.3h0M138.2 230.4h0"/></g><use href="#k49" fill="none" stroke-linecap="round" stroke="#32c032" stroke-width="1.4"/><g fill="none" stroke-linecap="round" stroke="#753c1a" stroke-width="1.9"><path id="k50" d="M119.7 245.6h0M111.2 248.2h0M114.6 248.8h0M106.6 247.8h0M117.3 244.2h0M113.7 248.5h0M121.6 242h0M107.8 247.5h0M108.9 243.9h0M120.4 248.2h0M108.3 251.5h0M108.7 245.7h0M110.2 244h0M113.8 241.7h0M110 244.7h0M117.1 246.9h0M116 245.3h0M119.8 249.8h0M113.9 249h0M105 247.9h0M118.7 246.6h0M110.8 244.5h0M114.6 246.8h0M121.2 242.5h0M109.9 244h0M116.4 245.9h0M124.9 244.3h0M120.8 245.7h0M113.3 243.8h0M114.4 246.2h0M114 241.7h0M107.8 246.8h0M107.7 252.1h0M105.3 250.9h0M119 246.6h0M109 251.3h0M123.6 244.2h0M120.4 247.4h0M123.7 244.4h0M115.7 248.7h0M114.9 245.5h0M119.1 241.7h0M114.4 243.4h0M121.4 242.9h0M111.7 249.6h0M112.9 250.9h0M104.8 248.3h0M112.7 250.9h0M115.8 246.8h0M123.9 242.1h0M109.6 245.6h0M106.6 248.3h0M117.2 247.9h0M115.7 244.4h0M115.7 246.6h0M123.1 244.4h0M116.4 245.3h0M121.3 247.3h0M112.8 251.4h0M124.2 243.8h0M107.8 246.8h0M120.4 245.8h0M114 242.2h0M112.1 252.2h0M113.5 244.9h0M114.2 245.1h0M112 245.1h0M124.6 242.1h0M111.1 248.2h0M107.8 251.9h0M113.1 245.8h0M112.8 242.7h0M111 250.6h0M108.1 246.6h0M114.8 250.6h0M111.9 242.3h0M114.2 242.8h0M113.3 246.3h0M114.4 246h0M116.2 242.2h0M115.2 242.5h0M115.8 246.7h0M113.3 246.3h0M112.6 249h0M117.6 242.4h0M124.7 243.6h0M111.3 250h0M113.2 243.8h0M120.9 244.2h0M112.8 249.3h0M107.2 247.7h0M122.3 242h0M113.7 245.3h0M121.3 244.7h0M115.5 245.3h0M117.2 241.4h0M114.2 248.1h0M115.7 242.9h0M107.8 245.4h0M109.1 245.4h0M109 250.7h0M114.2 247.7h0M123.8 243.4h0M113.8 252.1h0M113.5 246.5h0M114.4 246.2h0M107.8 250.7h0M118.4 242.4h0M107.2 251.6h0M110 251.5h0M109.5 250.7h0M115 250.9h0M113.8 244.8h0M109.5 243.7h0M124.1 241.7h0M117.5 242.4h0M117 247.8h0M110.8 248.6h0M114 248.8h0M107.9 251.9h0M115.2 252h0M116.6 247.8h0M110.4 243.7h0M115.1 251.1h0M113.5 242.4h0M110.3 245.7h0M114.6 243.3h0M119.6 243.3h0M110.1 246.5h0M114.7 251.4h0M112.5 245.1h0M114.1 247.1h0M117.4 246h0M114.8 251.7h0M114.1 251.1h0M115.8 250.4h0M116 246.1h0M119.7 245.9h0M112.9 242.6h0M106.3 251h0M113.8 244.5h0M115.5 242.9h0M113.4 248.3h0M110 248.1h0M112.2 245.6h0M107.3 250.5h0M116.5 248.9h0M123.8 245.1h0M112.6 252.3h0M115.4 247h0M106.2 250h0M121.2 247.8h0M111.3 244.7h0M109 251.8h0M113.4 248.6h0M108.6 251.7h0M115.4 243h0M115.6 248.8h0M112.1 250.3h0M121.5 243.6h0M115.1 245.8h0M110.8 243.5h0M122.8 247.8h0M118.3 247.8h0M123.6 243.7h0M115.1 247.4h0M115.8 241.2h0M124.7 245.7h0M118.2 249.2h0M113.9 245.2h0M125.2 243h0M115.5 245.9h0M118.5 244.3h0M110 248.9h0M118.8 247.9h0M116.7 251.7h0M122.2 241.4h0M109.9 249.7h0M120.9 242.2h0M109.4 252h0M108.2 249.5h0M108.5 251.9h0M116.8 245.8h0M107.4 250.3h0M117.7 245.5h0M118 248.1h0M109.9 248.8h0M110.2 251.2h0M106.7 246.4h0M114.4 251.6h0M122.2 242.7h0M120.7 249.6h0M122 248.5h0M119 243.8h0M109.5 251.5h0M111.9 245.6h0M106.7 249.6h0M113.5 250.3h0M110.8 244.6h0M110 247.5h0M122.3 248.3h0M110.4 243h0M112.1 243.4h0M123 243h0M106.5 252h0M114.5 247.4h0M110.9 243.3h0M112.5 243h0M123 244.7h0M119.5 248.4h0M108.1 251.2h0M111.5 246.4h0M120.8 243.8h0M114.3 244.7h0M109.5 248.4h0M108.6 248.4h0M120.9 242.1h0M111 249.6h0M123.9 244.1h0M120.3 247.9h0M124.3 243.8h0M121.3 240.6h0M120.3 243.1h0M109.4 246.7h0M117 247.7h0M111 244.7h0M108.1 250.3h0M110.7 248.7h0M121.2 241.7h0M120.9 249.2h0M113.3 242.5h0M105.3 247.2h0M124.5 243.8h0M115.9 244.5h0M117 251.3h0M107.4 247.6h0M112 245.5h0M111.7 252.8h0M123.4 246.5h0M121.6 242.8h0M115.4 241.8h0M121.8 244.4h0M122.6 242.3h0M121.5 240.9h0M108.6 252.1h0M108.2 244.4h0M114.1 251.4h0M120.5 243.2h0M110.2 243.9h0M114.8 241.9h0M117.2 245.7h0M117.1 249.9h0M121.3 249h0M118.1 245.9h0M109.7 244h0M117.9 248.7h0M116.8 249.9h0M119.1 246.3h0M106.3 247h0M123.6 247.1h0M107 248.3h0M125 244h0M119.4 250.1h0M116.2 248h0M107.2 246.2h0M108.7 251.3h0M120.6 245.5h0M108.9 250.7h0M114.2 249.7h0M115.7 245.5h0M113.1 248h0M105.4 249.6h0M117.6 251.1h0M117 244.9h0M123.1 241.2h0M111.1 250.5h0M106.4 246.6h0M112.4 243.7h0M107.4 245.8h0M118.2 242.5h0M111.2 247.4h0M108.5 246.3h0M111.8 245.7h0M120.1 248.5h0M120.5 243.9h0M110.4 248.2h0M118 241.9h0M112.7 249h0M116.9 247.9h0M116.2 249.7h0M116 244.5h0M110.8 250h0M118.5 244.3h0M108.7 249.3h0M113.1 244.7h0M115.7 249.1h0M106.9 250.1h0M114.2 250.7h0M124.6 244.2h0M114.3 249.3h0"/></g><use href="#k50" fill="none" stroke-linecap="round" stroke="#c4642c" stroke-width="1.4"/><text x="7.5" y="224.4" font-size="7.6" text-anchor="middle" fill="#111" transform="rotate(-90 7.5 224.4)" dominant-baseline="central">Pt196</text><text x="55" y="288.5" font-size="7.6" text-anchor="middle" fill="#111" transform="rotate(25 55 288.5)" dominant-baseline="central">Pt194</text><text x="176.7" y="288.5" font-size="7.6" text-anchor="middle" fill="#111" transform="rotate(-22 176.7 288.5)" dominant-baseline="central">Pt195</text><path d="M265.4 17.3L265.4 123.4M264.9 123L423 123M262.4 122.5L265.4 122.5M262.4 70.2L265.4 70.2M262.4 17.8L265.4 17.8" stroke="#111" stroke-width="0.9" fill="none"/><path d="M265.4 123L265.4 126M278.5 123L278.5 125M291.7 123L291.7 125M304.8 123L304.8 125M318 123L318 125M331.1 123L331.1 126M344.3 123L344.3 125M357.4 123L357.4 125M370.6 123L370.6 125M383.8 123L383.8 125M396.9 123L396.9 126M410 123L410 125M423.2 123L423.2 125" stroke="#111" stroke-width="0.8" fill="none"/><text x="261.2" y="20" font-size="6" text-anchor="end" font-weight="bold" fill="#111">0.0010</text><text x="261.2" y="72.4" font-size="6" text-anchor="end" font-weight="bold" fill="#111">0.0005</text><text x="261.2" y="124.7" font-size="6" text-anchor="end" font-weight="bold" fill="#111">0.0000</text><text x="265" y="132.2" font-size="5.7" text-anchor="middle" font-weight="bold" fill="#111">0</text><text x="330.8" y="132.2" font-size="5.7" text-anchor="middle" font-weight="bold" fill="#111">500</text><text x="396.5" y="132.2" font-size="5.7" text-anchor="middle" font-weight="bold" fill="#111">1000</text><text x="340.6" y="142.7" font-size="7.2" text-anchor="middle" font-weight="bold" fill="#111">Number of points per cluster</text><text x="231.4" y="73.2" font-size="7.3" text-anchor="middle" font-weight="bold" fill="#111" transform="rotate(-90 231.4 73.2)">Fraction misassigned cells</text><path d="M278.1 22.3L278.1 65.4M275.6 22.3L280.6 22.3M275.6 65.4L280.6 65.4M291.3 61L291.3 90M288.8 61L293.8 61M288.8 90L293.8 90M304.4 89L304.4 112M301.9 89L306.9 89M301.9 112L306.9 112M317.6 89L317.6 112M315.1 89L320.1 89M315.1 112L320.1 112M330.8 107.8L330.8 116.2M328.2 107.8L333.2 107.8M328.2 116.2L333.2 116.2M343.9 108.2L343.9 120.1M341.4 108.2L346.4 108.2M341.4 120.1L346.4 120.1M357.1 108.2L357.1 115.8M354.6 108.2L359.6 108.2M354.6 115.8L359.6 115.8M370.2 108.2L370.2 120.1M367.7 108.2L372.7 108.2M367.7 120.1L372.7 120.1M383.4 108.2L383.4 119.5M380.9 108.2L385.9 108.2M380.9 119.5L385.9 119.5M396.5 106.5L396.5 115.1M394 106.5L399 106.5M394 115.1L399 115.1" stroke="#8a8a8a" stroke-width="0.8" fill="none"/><polyline fill="none" stroke="#111" stroke-width="0.9" points="278.1,43.7 291.3,75.3 304.4,100.6 317.6,100.6 330.8,112.1 343.9,114.3 357.1,112.1 370.2,114.3 383.4,114.1 396.5,110.8"/><circle cx="278.1" cy="43.7" r="2.5" fill="#1a1ad8"/><circle cx="291.3" cy="75.3" r="2.5" fill="#1a1ad8"/><circle cx="304.4" cy="100.6" r="2.5" fill="#1a1ad8"/><circle cx="317.6" cy="100.6" r="2.5" fill="#1a1ad8"/><circle cx="330.8" cy="112.1" r="2.5" fill="#1a1ad8"/><circle cx="343.9" cy="114.3" r="2.5" fill="#1a1ad8"/><circle cx="357.1" cy="112.1" r="2.5" fill="#1a1ad8"/><circle cx="370.2" cy="114.3" r="2.5" fill="#1a1ad8"/><circle cx="383.4" cy="114.1" r="2.5" fill="#1a1ad8"/><circle cx="396.5" cy="110.8" r="2.5" fill="#1a1ad8"/><path d="M236.5 171.3L364.3 171.3M236.5 171.3L236.5 299.3" stroke="#a8a8a8" stroke-width="0.9" fill="none"/><polyline points="236.5,187.3 240.5,187.3 244.5,187.3 248.5,187.3 252,187.3 253,187.3 253.8,187.3 254.4,184.3 254.9,176.8 255.4,184.3 256,186.3 257,186.3 258,186.3 259,186.3 260,186.3 261,186.3 262,186.3 263,186.3 264,186.3 265,186.2 266,186.2 267,186.2 268,186.1 269,186.1 270,186.1 271,186.1 272,186.1 273,186.1 274,186.1 275,186.2 276,186.2 277,186.3 278,186.4 279,186.6 280,186.8 281,186.9 282,187 283,187.1 284,187.1 285,187.2 286,187.2 287,187.2 288,187.3 289,187.3 290,187.3 291,187.3 292,187.3 293,187.3 294,187.3 295,187.3 296,187.3 297,187.3 298,187.3 299,187.3 300,187.3 301,187.3 302,187.3 303,187.3 304,187.3 305,187.3 306,187.3 307,187.3 308,187.3 309,187.3 310,187.3 316,187.3 322,187.3 328,187.3 334,187.3 340,187.3 346,187.3 352,187.3 358,187.3 364,187.3 364.3,187.3" fill="none" stroke="#48e0a4" stroke-width="1.2"/><polyline points="236.5,203.3 240.5,203.3 244.5,203.3 248.5,203.3 252,203.3 253,203.3 253.8,203.3 254.4,200.3 254.9,192.8 255.4,200.3 256,202.3 257,202.3 258,202.3 259,202.3 260,202.3 261,202.3 262,202.3 263,202.3 264,202.3 265,202.2 266,202.2 267,202.2 268,202.1 269,202.1 270,202.1 271,202.1 272,202.1 273,202.1 274,202.1 275,202.2 276,202.2 277,202.3 278,202.4 279,202.6 280,202.8 281,202.9 282,203 283,203.1 284,203.1 285,203.2 286,203.2 287,203.2 288,203.3 289,203.3 290,203.3 291,203.3 292,203.3 293,203.3 294,203.3 295,203.3 296,203.3 297,203.3 298,203.3 299,203.3 300,203.3 301,203.3 302,203.3 303,203.3 304,203.3 305,203.3 306,203.3 307,203.3 308,203.3 309,203.3 310,203.3 316,203.3 322,203.3 328,203.3 334,203.3 340,203.3 346,203.3 352,203.3 358,203.3 364,203.3 364.3,203.3" fill="none" stroke="#a4e044" stroke-width="1.2"/><polyline points="236.5,219.3 240.5,219.3 244.5,219.3 248.5,219.3 252,219.3 253,219.3 253.8,219.3 254.4,216.3 254.9,208.8 255.4,216.3 256,218.3 257,218.3 258,218.3 259,218.3 260,218.3 261,218.3 262,218.3 263,218.3 264,218.3 265,218.2 266,218.2 267,218.2 268,218.1 269,218.1 270,218.1 271,218.1 272,218.1 273,218.1 274,218.1 275,218.2 276,218.2 277,218.3 278,218.4 279,218.6 280,218.8 281,218.9 282,219 283,219.1 284,219.1 285,219.2 286,219.2 287,219.2 288,219.3 289,219.3 290,219.3 291,219.3 292,219.3 293,219.3 294,219.3 295,219.3 296,219.3 297,219.3 298,219.3 299,219.3 300,219.3 301,219.3 302,219.3 303,219.3 304,219.3 305,219.3 306,219.3 307,219.3 308,219.3 309,219.3 310,219.3 316,219.3 322,219.3 328,219.3 334,219.3 340,219.3 346,219.3 352,219.3 358,219.3 364,219.3 364.3,219.3" fill="none" stroke="#e0404c" stroke-width="1.2"/><polyline points="236.5,235.3 240.5,235.3 244.5,235.3 248.5,235.3 252,235.3 253,235.3 253.8,235.3 254.4,232.3 254.9,224.8 255.4,232.3 256,234.3 257,234.3 258,234.3 259,234.3 260,234.3 261,234.3 262,234.3 263,234.3 264,234.3 265,234.2 266,234.2 267,234.2 268,234.1 269,234.1 270,234.1 271,234.1 272,234.1 273,234.1 274,234.1 275,234.2 276,234.2 277,234.3 278,234.4 279,234.6 280,234.8 281,234.9 282,235 283,235.1 284,235.1 285,235.2 286,235.2 287,235.2 288,235.3 289,235.3 290,235.3 291,235.3 292,235.3 293,235.3 294,235.3 295,235.3 296,235.3 297,235.3 298,235.3 299,235.3 300,235.3 301,235.3 302,235.3 303,235.3 304,235.3 305,235.3 306,235.3 307,235.3 308,235.3 309,235.3 310,235.3 316,235.3 322,235.3 328,235.3 334,235.3 340,235.3 346,235.3 352,235.3 358,235.3 364,235.3 364.3,235.3" fill="none" stroke="#8a44dc" stroke-width="1.2"/><polygon points="236.5,251.3 236.5,251.3 240.5,251.3 244.5,251.3 248.5,251.3 252,251.3 253,251.3 253.8,251.3 254.4,251.3 254.9,251.3 255.4,251.3 256,251.3 257,251.3 258,251.2 259,251.2 260,251.1 261,251.1 262,251 263,250.9 264,250.8 265,250.7 266,250.6 267,250.4 268,250.1 269,249.9 270,249.5 271,249.2 272,248.8 273,248.4 274,247.8 275,247.1 276,246.4 277,245.6 278,244.8 279,243.8 280,242.7 281,241.4 282,240.3 283,239.2 284,238.1 285,237.3 286,236.7 287,236.4 288,236.4 289,237.2 290,238.3 291,239.4 292,240.8 293,242.3 294,244.1 295,246.2 296,247.8 297,249 298,249.9 299,250.5 300,250.8 301,251.1 302,251.2 303,251.3 304,251.3 305,251.3 306,251.3 307,251.3 308,251.3 309,251.3 310,251.3 316,251.3 322,251.3 328,251.3 334,251.3 340,251.3 346,251.3 352,251.3 358,251.3 364,251.3 364.3,251.3 364.3,251.3" fill="#f8cc9c"/><polyline points="236.5,251.3 240.5,251.3 244.5,251.3 248.5,251.3 252,251.3 253,251.3 253.8,251.3 254.4,251.3 254.9,251.3 255.4,251.3 256,251.3 257,251.3 258,251.2 259,251.2 260,251.1 261,251.1 262,251 263,250.9 264,250.8 265,250.7 266,250.6 267,250.4 268,250.1 269,249.9 270,249.5 271,249.2 272,248.8 273,248.4 274,247.8 275,247.1 276,246.4 277,245.6 278,244.8 279,243.8 280,242.7 281,241.4 282,240.3 283,239.2 284,238.1 285,237.3 286,236.7 287,236.4 288,236.4 289,237.2 290,238.3 291,239.4 292,240.8 293,242.3 294,244.1 295,246.2 296,247.8 297,249 298,249.9 299,250.5 300,250.8 301,251.1 302,251.2 303,251.3 304,251.3 305,251.3 306,251.3 307,251.3 308,251.3 309,251.3 310,251.3 316,251.3 322,251.3 328,251.3 334,251.3 340,251.3 346,251.3 352,251.3 358,251.3 364,251.3 364.3,251.3" fill="none" stroke="#f0a04c" stroke-width="1.2"/><polygon points="236.5,267.3 236.5,267.3 240.5,267.3 244.5,267.3 248.5,267.3 252,267.3 253,267.3 253.8,267.3 254.4,267.3 254.9,267.3 255.4,267.3 256,267.3 257,267.3 258,267.2 259,267.2 260,267.1 261,267.1 262,267 263,266.9 264,266.8 265,266.7 266,266.6 267,266.4 268,266.1 269,265.9 270,265.5 271,265.2 272,264.8 273,264.4 274,263.8 275,263.1 276,262.4 277,261.6 278,260.8 279,259.8 280,258.7 281,257.4 282,256.3 283,255.2 284,254.1 285,253.3 286,252.7 287,252.4 288,252.4 289,253.2 290,254.3 291,255.4 292,256.8 293,258.3 294,260.1 295,262.2 296,263.8 297,265 298,265.9 299,266.5 300,266.8 301,267.1 302,267.2 303,267.3 304,267.3 305,267.3 306,267.3 307,267.3 308,267.3 309,267.3 310,267.3 316,267.3 322,267.3 328,267.3 334,267.3 340,267.3 346,267.3 352,267.3 358,267.3 364,267.3 364.3,267.3 364.3,267.3" fill="#8cf2f2"/><polyline points="236.5,267.3 240.5,267.3 244.5,267.3 248.5,267.3 252,267.3 253,267.3 253.8,267.3 254.4,267.3 254.9,267.3 255.4,267.3 256,267.3 257,267.3 258,267.2 259,267.2 260,267.1 261,267.1 262,267 263,266.9 264,266.8 265,266.7 266,266.6 267,266.4 268,266.1 269,265.9 270,265.5 271,265.2 272,264.8 273,264.4 274,263.8 275,263.1 276,262.4 277,261.6 278,260.8 279,259.8 280,258.7 281,257.4 282,256.3 283,255.2 284,254.1 285,253.3 286,252.7 287,252.4 288,252.4 289,253.2 290,254.3 291,255.4 292,256.8 293,258.3 294,260.1 295,262.2 296,263.8 297,265 298,265.9 299,266.5 300,266.8 301,267.1 302,267.2 303,267.3 304,267.3 305,267.3 306,267.3 307,267.3 308,267.3 309,267.3 310,267.3 316,267.3 322,267.3 328,267.3 334,267.3 340,267.3 346,267.3 352,267.3 358,267.3 364,267.3 364.3,267.3" fill="none" stroke="#34dede" stroke-width="1.2"/><polygon points="236.5,283.3 236.5,283.3 240.5,283.3 244.5,283.3 248.5,283.3 252,283.3 253,283.3 253.8,283.3 254.4,283.3 254.9,283.3 255.4,283.3 256,283.3 257,283.3 258,283.2 259,283.2 260,283.1 261,283.1 262,283 263,282.9 264,282.8 265,282.7 266,282.6 267,282.4 268,282.1 269,281.9 270,281.5 271,281.2 272,280.8 273,280.4 274,279.8 275,279.1 276,278.4 277,277.6 278,276.8 279,275.8 280,274.6 281,273.4 282,272.3 283,271.3 284,270.5 285,269.8 286,269.3 287,268.9 288,268.9 289,269.8 290,270.8 291,271.8 292,273 293,274.3 294,276.1 295,278.2 296,279.8 297,281 298,281.9 299,282.5 300,282.8 301,283.1 302,283.2 303,283.3 304,283.3 305,283.3 306,283.3 307,283.3 308,283.3 309,283.3 310,283.3 316,283.3 322,283.3 328,283.3 334,283.3 340,283.3 346,283.3 352,283.3 358,283.3 364,283.3 364.3,283.3 364.3,283.3" fill="#7c7cf0"/><polyline points="236.5,283.3 240.5,283.3 244.5,283.3 248.5,283.3 252,283.3 253,283.3 253.8,283.3 254.4,283.3 254.9,283.3 255.4,283.3 256,283.3 257,283.3 258,283.2 259,283.2 260,283.1 261,283.1 262,283 263,282.9 264,282.8 265,282.7 266,282.6 267,282.4 268,282.1 269,281.9 270,281.5 271,281.2 272,280.8 273,280.4 274,279.8 275,279.1 276,278.4 277,277.6 278,276.8 279,275.8 280,274.6 281,273.4 282,272.3 283,271.3 284,270.5 285,269.8 286,269.3 287,268.9 288,268.9 289,269.8 290,270.8 291,271.8 292,273 293,274.3 294,276.1 295,278.2 296,279.8 297,281 298,281.9 299,282.5 300,282.8 301,283.1 302,283.2 303,283.3 304,283.3 305,283.3 306,283.3 307,283.3 308,283.3 309,283.3 310,283.3 316,283.3 322,283.3 328,283.3 334,283.3 340,283.3 346,283.3 352,283.3 358,283.3 364,283.3 364.3,283.3" fill="none" stroke="#2828d0" stroke-width="1.2"/><polygon points="236.5,299.3 236.5,299.3 240.5,299.3 244.5,299.3 248.5,299.3 252,299.3 253,299.3 253.8,299.3 254.4,299.3 254.9,299.3 255.4,299.3 256,299.3 257,299.3 258,299.2 259,299.2 260,299.1 261,299.1 262,299 263,298.9 264,298.8 265,298.7 266,298.6 267,298.4 268,298.1 269,297.9 270,297.5 271,297.2 272,296.8 273,296.4 274,295.8 275,295.1 276,294.4 277,293.6 278,292.8 279,291.8 280,290.6 281,289.4 282,288.3 283,287.3 284,286.5 285,285.8 286,285.3 287,284.9 288,284.9 289,285.8 290,286.8 291,287.8 292,289 293,290.3 294,292.1 295,294.2 296,295.8 297,297 298,297.9 299,298.5 300,298.8 301,299.1 302,299.2 303,299.3 304,299.3 305,299.3 306,299.3 307,299.3 308,299.3 309,299.3 310,299.3 316,299.3 322,299.3 328,299.3 334,299.3 340,299.3 346,299.3 352,299.3 358,299.3 364,299.3 364.3,299.3 364.3,299.3" fill="#f48cc4"/><polyline points="236.5,299.3 240.5,299.3 244.5,299.3 248.5,299.3 252,299.3 253,299.3 253.8,299.3 254.4,299.3 254.9,299.3 255.4,299.3 256,299.3 257,299.3 258,299.2 259,299.2 260,299.1 261,299.1 262,299 263,298.9 264,298.8 265,298.7 266,298.6 267,298.4 268,298.1 269,297.9 270,297.5 271,297.2 272,296.8 273,296.4 274,295.8 275,295.1 276,294.4 277,293.6 278,292.8 279,291.8 280,290.6 281,289.4 282,288.3 283,287.3 284,286.5 285,285.8 286,285.3 287,284.9 288,284.9 289,285.8 290,286.8 291,287.8 292,289 293,290.3 294,292.1 295,294.2 296,295.8 297,297 298,297.9 299,298.5 300,298.8 301,299.1 302,299.2 303,299.3 304,299.3 305,299.3 306,299.3 307,299.3 308,299.3 309,299.3 310,299.3 316,299.3 322,299.3 328,299.3 334,299.3 340,299.3 346,299.3 352,299.3 358,299.3 364,299.3 364.3,299.3" fill="none" stroke="#e03c8c" stroke-width="1.2"/><path d="M236.5 299.3L364.3 299.3" stroke="#444" stroke-width="0.8" fill="none"/><path d="M238.5 299.3L238.5 300.8M243.8 299.3L243.8 300.8M249.1 299.3L249.1 300.8M254.4 299.3L254.4 300.8M259.7 299.3L259.7 300.8M265 299.3L265 300.8M270.3 299.3L270.3 300.8M275.6 299.3L275.6 300.8M280.9 299.3L280.9 300.8M286.2 299.3L286.2 300.8M291.5 299.3L291.5 300.8M296.8 299.3L296.8 300.8M302.1 299.3L302.1 300.8M307.4 299.3L307.4 300.8M312.7 299.3L312.7 300.8M318 299.3L318 300.8M323.3 299.3L323.3 300.8M328.6 299.3L328.6 300.8M333.9 299.3L333.9 300.8M339.2 299.3L339.2 300.8M344.5 299.3L344.5 300.8M349.8 299.3L349.8 300.8M355.1 299.3L355.1 300.8M360.4 299.3L360.4 300.8" stroke="#444" stroke-width="0.6" fill="none"/><path d="M255.3 299.3L255.3 302.3M287 299.3L287 302.3M313.5 299.3L313.5 302.3M340 299.3L340 302.3M362.5 299.3L362.5 302.3M455.5 15.3L455.5 143.2M455.5 143.2L588.7 143.2M455.5 171.3L455.5 299.2M455.5 299.2L588.7 299.2" stroke="#333" stroke-width="0.9" fill="none"/><text x="255.3" y="312.8" font-size="5.6" text-anchor="middle" fill="#111">0</text><text x="282.9" y="312.8" font-size="5.6" text-anchor="middle" fill="#111">10</text><text x="287.7" y="309" font-size="5" text-anchor="middle" fill="#111">1</text><text x="308.8" y="312.8" font-size="5.6" text-anchor="middle" fill="#111">10</text><text x="313.6" y="309" font-size="5" text-anchor="middle" fill="#111">2</text><text x="335.8" y="312.8" font-size="5.6" text-anchor="middle" fill="#111">10</text><text x="340.6" y="309" font-size="5" text-anchor="middle" fill="#111">3</text><text x="359.7" y="312.8" font-size="5.6" text-anchor="middle" fill="#111">10</text><text x="364.5" y="309" font-size="5" text-anchor="middle" fill="#111">4</text><text x="305.7" y="321.6" font-size="7.2" text-anchor="middle" fill="#111">Rh103 intercalator</text><text x="229.4" y="231.2" font-size="7.2" text-anchor="middle" fill="#111" transform="rotate(-90 229.4 231.2)">Cell Count</text><path d="M364.3 171.3L418.5 171.3M364.3 187.3L418.5 187.3M364.3 203.3L418.5 203.3M364.3 219.3L418.5 219.3M364.3 235.3L418.5 235.3M364.3 251.3L418.5 251.3M364.3 267.3L418.5 267.3M364.3 283.3L418.5 283.3M364.3 299.3L418.5 299.3M364.3 171.3L364.3 299.3M377.9 171.3L377.9 299.3M391.4 171.3L391.4 299.3M404.9 171.3L404.9 299.3M418.5 171.3L418.5 299.3" stroke="#333" stroke-width="0.8" fill="none"/><path d="M369.8 178.7L372.4 178.7M382.5 178.1L386.7 178.1M384.6 176L384.6 180.2M396.1 178.1L400.3 178.1M398.2 176L398.2 180.2M410.4 178.7L413 178.7M369 194.1L373.2 194.1M371.1 192L371.1 196.2M382.5 194.1L386.7 194.1M384.6 192L384.6 196.2M396.9 194.7L399.5 194.7M410.4 194.7L413 194.7M369.8 210.7L372.4 210.7M382.5 210.1L386.7 210.1M384.6 208L384.6 212.2M396.9 210.7L399.5 210.7M410.4 210.7L413 210.7M369.8 226.7L372.4 226.7M383.3 226.7L385.9 226.7M396.9 226.7L399.5 226.7M410.4 226.7L413 226.7M369 242.1L373.2 242.1M371.1 240L371.1 244.2M383.3 242.7L385.9 242.7M396.9 242.7L399.5 242.7M409.6 242.1L413.8 242.1M411.7 240L411.7 244.2M369.8 258.7L372.4 258.7M383.3 258.7L385.9 258.7M396.1 258.1L400.3 258.1M398.2 256L398.2 260.2M409.6 258.1L413.8 258.1M411.7 256L411.7 260.2M369 274.1L373.2 274.1M371.1 272L371.1 276.2M383.3 274.7L385.9 274.7M396.1 274.1L400.3 274.1M398.2 272L398.2 276.2M409.6 274.1L413.8 274.1M411.7 272L411.7 276.2M369 290.1L373.2 290.1M371.1 288L371.1 292.2M382.5 290.1L386.7 290.1M384.6 288L384.6 292.2M396.1 290.1L400.3 290.1M398.2 288L398.2 292.2M409.6 290.1L413.8 290.1M411.7 288L411.7 292.2M594 143.2L594 145.8M601.5 143.2L601.5 145.8M609 143.2L609 145.8M617 143.2L617 145.8M625 143.2L625 145.8M630.5 22.5L634.7 22.5M632.6 20.4L632.6 24.6M643.6 22.5L647.9 22.5M645.8 20.4L645.8 24.6M656.4 22.5L660.6 22.5M658.5 20.4L658.5 24.6M631.3 39.1L633.9 39.1M643.6 38.5L647.9 38.5M645.8 36.4L645.8 40.6M656.4 38.5L660.6 38.5M658.5 36.4L658.5 40.6M630.5 54.5L634.7 54.5M632.6 52.4L632.6 56.6M644.5 55.1L647 55.1M656.4 54.5L660.6 54.5M658.5 52.4L658.5 56.6M630.5 70.5L634.7 70.5M632.6 68.4L632.6 72.6M643.6 70.5L647.9 70.5M645.8 68.4L645.8 72.6M657.2 71.1L659.8 71.1M631.3 87L633.9 87M644.5 87L647 87M656.4 86.4L660.6 86.4M658.5 84.3L658.5 88.5M631.3 103L633.9 103M643.6 102.4L647.9 102.4M645.8 100.3L645.8 104.5M657.2 103L659.8 103M630.5 118.4L634.7 118.4M632.6 116.3L632.6 120.5M644.5 119L647 119M657.2 119L659.8 119M631.3 135L633.9 135M644.5 135L647 135M657.2 135L659.8 135M594 299.2L594 301.8M601.5 299.2L601.5 301.8M609 299.2L609 301.8M617 299.2L617 301.8M625 299.2L625 301.8M628.9 178.5L633.1 178.5M631 176.4L631 180.6M643.4 178.5L647.6 178.5M645.5 176.4L645.5 180.6M657.1 178.5L661.3 178.5M659.2 176.4L659.2 180.6M629.7 195.1L632.2 195.1M643.4 194.5L647.6 194.5M645.5 192.4L645.5 196.6M657.1 194.5L661.3 194.5M659.2 192.4L659.2 196.6M628.9 210.5L633.1 210.5M631 208.4L631 212.6M644.2 211.1L646.8 211.1M657.1 210.5L661.3 210.5M659.2 208.4L659.2 212.6M628.9 226.5L633.1 226.5M631 224.4L631 228.6M643.4 226.5L647.6 226.5M645.5 224.4L645.5 228.6M657.9 227.1L660.5 227.1M629.7 243L632.2 243M644.2 243L646.8 243M657.1 242.4L661.3 242.4M659.2 240.3L659.2 244.5M629.7 259L632.2 259M643.4 258.4L647.6 258.4M645.5 256.3L645.5 260.5M657.9 259L660.5 259M628.9 274.4L633.1 274.4M631 272.3L631 276.5M644.2 275L646.8 275M657.9 275L660.5 275M629.7 291L632.2 291M644.2 291L646.8 291M657.9 291L660.5 291" stroke="#111" stroke-width="1.0" fill="none"/><text x="370.6" y="169.8" font-size="7.4" fill="#111" transform="rotate(-30 370.6 169.8)">Pt194</text><text x="384.2" y="169.8" font-size="7.4" fill="#111" transform="rotate(-30 384.2 169.8)">Pt195</text><text x="397.7" y="169.8" font-size="7.4" fill="#111" transform="rotate(-30 397.7 169.8)">Pt196</text><text x="411.2" y="169.8" font-size="7.4" fill="#111" transform="rotate(-30 411.2 169.8)">Rh103</text><path d="M455.5 15.3L588.7 15.3M455.5 171.3L588.7 171.3" stroke="#a0a0a0" stroke-width="0.9" fill="none"/><polyline points="455.5,142.9 456.7,142.9 457.9,142.9 459.1,142.9 460.3,142.9 461.5,142.8 462.7,142.8 463.9,142.8 465.1,142.7 466.3,142.7 467.5,142.6 468.7,142.6 469.9,142.5 471.1,142.4 472.3,142.1 473.5,141.9 474.7,141.7 475.9,141.7 477.1,141.9 478.3,142.1 479.5,142.3 480.7,142.3 481.9,142.3 483.1,142.2 484.3,142.1 485.5,142.1 486.7,142 487.9,141.9 489.1,141.8 490.3,141.7 491.5,141.6 492.7,141.4 493.9,141.3 495.1,141.2 496.3,141 497.5,140.8 498.7,140.7 499.9,140.5 501.1,140.3 502.3,140.1 503.5,139.8 504.7,139.5 505.9,139.1 507.1,138.5 508.3,137.6 509.5,136.5 510.7,135.3 511.9,134.2 513.1,133.1 514.3,132.1 515.5,131.2 516.7,130.2 517.9,129 519.1,127.7 520.3,126.3 521.5,124.7 522.7,122.8 523.9,120.8 525.1,118.3 526.3,115.4 527.5,111.9 528.7,107.6 529.9,102.3 531.1,95.2 532.3,84.6 533.5,73 534.7,62 535.9,54.6 537.1,48.1 538.3,39.5 539.5,30.3 540.7,28.7 541.9,29.3 543.1,39.6 544.3,50 545.5,55.9 546.7,65.1 547.9,85.3 549.1,100.2 550.3,110.4 551.5,118.7 552.7,126.3 553.9,132.6 555.1,137.7 556.3,141.1 557.5,142.9 558.7,142.9 559.9,142.9 561.1,142.9 562.3,142.9 563.5,142.9 564.7,142.9 565.9,142.9 567.1,142.9 568.3,142.9 569.5,142.9 570.7,142.9 571.9,142.9 573.1,142.9 574.3,142.9 575.5,142.9 576.7,142.9 577.9,142.9 579.1,142.9 580.3,142.9 581.5,142.9 582.7,142.9 583.9,142.9 585.1,142.9 586.3,142.9 587.5,142.9 588.7,142.9" fill="none" stroke="#dcdcdc" stroke-width="1.0"/><polyline points="455.5,142.9 456.7,142.9 457.9,142.9 459.1,142.9 460.3,142.9 461.5,142.8 462.7,142.8 463.9,142.8 465.1,142.7 466.3,142.7 467.5,142.6 468.7,142.6 469.9,142.5 471.1,142.4 472.3,142.1 473.5,141.9 474.7,141.7 475.9,141.7 477.1,141.9 478.3,142.1 479.5,142.3 480.7,142.3 481.9,142.3 483.1,142.2 484.3,142.1 485.5,142.1 486.7,142 487.9,141.9 489.1,141.8 490.3,141.7 491.5,141.6 492.7,141.4 493.9,141.3 495.1,141.2 496.3,141 497.5,140.8 498.7,140.7 499.9,140.5 501.1,140.3 502.3,140.1 503.5,139.8 504.7,139.5 505.9,139.1 507.1,138.4 508.3,137.2 509.5,135.9 510.7,134.5 511.9,133.1 513.1,131.9 514.3,130.9 515.5,129.9 516.7,128.9 517.9,127.8 519.1,126.5 520.3,125.1 521.5,123.4 522.7,121.6 523.9,119.5 525.1,117.1 526.3,114.2 527.5,110.9 528.7,107 529.9,102.1 531.1,95.3 532.3,84.6 533.5,73 534.7,62 535.9,54.1 537.1,47.6 538.3,41.6 539.5,36.6 540.7,36 541.9,36.5 543.1,42.6 544.3,49.6 545.5,55.5 546.7,65.1 547.9,85.3 549.1,100.2 550.3,110.4 551.5,118.7 552.7,126.3 553.9,132.6 555.1,137.7 556.3,141.1 557.5,142.9 558.7,142.9 559.9,142.9 561.1,142.9 562.3,142.9 563.5,142.9 564.7,142.9 565.9,142.9 567.1,142.9 568.3,142.9 569.5,142.9 570.7,142.9 571.9,142.9 573.1,142.9 574.3,142.9 575.5,142.9 576.7,142.9 577.9,142.9 579.1,142.9 580.3,142.9 581.5,142.9 582.7,142.9 583.9,142.9 585.1,142.9 586.3,142.9 587.5,142.9 588.7,142.9" fill="none" stroke="#c4c4c4" stroke-width="1.0"/><polyline points="455.5,142.9 456.7,142.9 457.9,142.9 459.1,142.9 460.3,142.9 461.5,142.8 462.7,142.8 463.9,142.8 465.1,142.7 466.3,142.7 467.5,142.6 468.7,142.6 469.9,142.5 471.1,142.4 472.3,142.1 473.5,141.9 474.7,141.7 475.9,141.7 477.1,141.9 478.3,142.1 479.5,142.3 480.7,142.3 481.9,142.3 483.1,142.2 484.3,142.1 485.5,142.1 486.7,142 487.9,141.9 489.1,141.8 490.3,141.7 491.5,141.6 492.7,141.4 493.9,141.3 495.1,141.2 496.3,141 497.5,140.8 498.7,140.7 499.9,140.5 501.1,140.3 502.3,140.1 503.5,139.8 504.7,139.5 505.9,139.2 507.1,138.6 508.3,137.9 509.5,137.1 510.7,136.2 511.9,135.2 513.1,134.3 514.3,133.4 515.5,132.4 516.7,131.4 517.9,130.2 519.1,129 520.3,127.5 521.5,125.9 522.7,124 523.9,122 525.1,119.6 526.3,116.6 527.5,112.8 528.7,108.1 529.9,102.4 531.1,95.1 532.3,84.6 533.5,73 534.7,62 535.9,53.7 537.1,47.2 538.3,43 539.5,39.7 540.7,38.4 541.9,39.4 543.1,43.3 544.3,49.6 545.5,55.5 546.7,65.1 547.9,85.3 549.1,100.2 550.3,110.4 551.5,118.7 552.7,126.3 553.9,132.6 555.1,137.7 556.3,141.1 557.5,142.9 558.7,142.9 559.9,142.9 561.1,142.9 562.3,142.9 563.5,142.9 564.7,142.9 565.9,142.9 567.1,142.9 568.3,142.9 569.5,142.9 570.7,142.9 571.9,142.9 573.1,142.9 574.3,142.9 575.5,142.9 576.7,142.9 577.9,142.9 579.1,142.9 580.3,142.9 581.5,142.9 582.7,142.9 583.9,142.9 585.1,142.9 586.3,142.9 587.5,142.9 588.7,142.9" fill="none" stroke="#a8a8a8" stroke-width="1.0"/><polyline points="455.5,142.9 456.7,142.9 457.9,142.9 459.1,142.9 460.3,142.9 461.5,142.8 462.7,142.8 463.9,142.8 465.1,142.7 466.3,142.7 467.5,142.6 468.7,142.6 469.9,142.5 471.1,142.4 472.3,142.1 473.5,141.9 474.7,141.7 475.9,141.7 477.1,141.9 478.3,142.1 479.5,142.3 480.7,142.3 481.9,142.3 483.1,142.2 484.3,142.1 485.5,142.1 486.7,142 487.9,141.9 489.1,141.8 490.3,141.7 491.5,141.6 492.7,141.4 493.9,141.3 495.1,141.2 496.3,141 497.5,140.8 498.7,140.7 499.9,140.5 501.1,140.3 502.3,140.1 503.5,139.8 504.7,139.5 505.9,139.2 507.1,138.7 508.3,138.2 509.5,137.6 510.7,137 511.9,136.3 513.1,135.5 514.3,134.7 515.5,133.7 516.7,132.6 517.9,131.5 519.1,130.2 520.3,128.7 521.5,127.1 522.7,125.3 523.9,123.2 525.1,120.8 526.3,117.8 527.5,113.7 528.7,108.7 529.9,102.6 531.1,95 532.3,84.6 533.5,73 534.7,62 535.9,53.9 537.1,47.4 538.3,42.4 539.5,39.6 540.7,39.6 541.9,40.7 543.1,44.6 544.3,49.3 545.5,55.2 546.7,65.1 547.9,85.3 549.1,100.2 550.3,110.4 551.5,118.7 552.7,126.3 553.9,132.6 555.1,137.7 556.3,141.1 557.5,142.9 558.7,142.9 559.9,142.9 561.1,142.9 562.3,142.9 563.5,142.9 564.7,142.9 565.9,142.9 567.1,142.9 568.3,142.9 569.5,142.9 570.7,142.9 571.9,142.9 573.1,142.9 574.3,142.9 575.5,142.9 576.7,142.9 577.9,142.9 579.1,142.9 580.3,142.9 581.5,142.9 582.7,142.9 583.9,142.9 585.1,142.9 586.3,142.9 587.5,142.9 588.7,142.9" fill="none" stroke="#8c8c8c" stroke-width="1.0"/><polyline points="455.5,142.9 456.7,142.9 457.9,142.9 459.1,142.9 460.3,142.9 461.5,142.8 462.7,142.8 463.9,142.8 465.1,142.7 466.3,142.7 467.5,142.6 468.7,142.6 469.9,142.5 471.1,142.4 472.3,142.1 473.5,141.9 474.7,141.7 475.9,141.7 477.1,141.9 478.3,142.1 479.5,142.3 480.7,142.3 481.9,142.3 483.1,142.2 484.3,142.1 485.5,142.1 486.7,142 487.9,141.9 489.1,141.8 490.3,141.7 491.5,141.6 492.7,141.4 493.9,141.3 495.1,141.2 496.3,141 497.5,140.8 498.7,140.7 499.9,140.5 501.1,140.3 502.3,140.1 503.5,139.8 504.7,139.5 505.9,139.2 507.1,138.6 508.3,137.9 509.5,137.1 510.7,136.2 511.9,135.2 513.1,134.3 514.3,133.4 515.5,132.4 516.7,131.4 517.9,130.2 519.1,129 520.3,127.5 521.5,125.9 522.7,124 523.9,122 525.1,119.6 526.3,116.6 527.5,112.8 528.7,108.1 529.9,102.4 531.1,95.1 532.3,84.6 533.5,73 534.7,62 535.9,53.5 537.1,47.1 538.3,43.5 539.5,41.2 540.7,41.4 541.9,43.8 543.1,45.9 544.3,49.1 545.5,55 546.7,65.1 547.9,85.3 549.1,100.2 550.3,110.4 551.5,118.7 552.7,126.3 553.9,132.6 555.1,137.7 556.3,141.1 557.5,142.9 558.7,142.9 559.9,142.9 561.1,142.9 562.3,142.9 563.5,142.9 564.7,142.9 565.9,142.9 567.1,142.9 568.3,142.9 569.5,142.9 570.7,142.9 571.9,142.9 573.1,142.9 574.3,142.9 575.5,142.9 576.7,142.9 577.9,142.9 579.1,142.9 580.3,142.9 581.5,142.9 582.7,142.9 583.9,142.9 585.1,142.9 586.3,142.9 587.5,142.9 588.7,142.9" fill="none" stroke="#6a6a6a" stroke-width="1.1"/><polyline points="455.5,142.9 456.7,142.9 457.9,142.9 459.1,142.9 460.3,142.9 461.5,142.8 462.7,142.8 463.9,142.8 465.1,142.7 466.3,142.7 467.5,142.6 468.7,142.6 469.9,142.5 471.1,142.4 472.3,142.1 473.5,141.9 474.7,141.7 475.9,141.7 477.1,141.9 478.3,142.1 479.5,142.3 480.7,142.3 481.9,142.3 483.1,142.2 484.3,142.1 485.5,142.1 486.7,142 487.9,141.9 489.1,141.8 490.3,141.7 491.5,141.6 492.7,141.4 493.9,141.3 495.1,141.2 496.3,141 497.5,140.8 498.7,140.7 499.9,140.5 501.1,140.3 502.3,140.1 503.5,139.8 504.7,139.5 505.9,139.1 507.1,138.5 508.3,137.6 509.5,136.5 510.7,135.3 511.9,134.2 513.1,133.1 514.3,132.1 515.5,131.2 516.7,130.2 517.9,129 519.1,127.7 520.3,126.3 521.5,124.7 522.7,122.8 523.9,120.8 525.1,118.3 526.3,115.4 527.5,111.9 528.7,107.6 529.9,102.3 531.1,95.2 532.3,84.6 533.5,73 534.7,62 535.9,53.7 537.1,47.2 538.3,43 539.5,39.7 540.7,38.4 541.9,38.4 543.1,42.3 544.3,49.7 545.5,55.6 546.7,65.1 547.9,85.3 549.1,100.2 550.3,110.4 551.5,118.7 552.7,126.3 553.9,132.6 555.1,137.7 556.3,141.1 557.5,142.9 558.7,142.9 559.9,142.9 561.1,142.9 562.3,142.9 563.5,142.9 564.7,142.9 565.9,142.9 567.1,142.9 568.3,142.9 569.5,142.9 570.7,142.9 571.9,142.9 573.1,142.9 574.3,142.9 575.5,142.9 576.7,142.9 577.9,142.9 579.1,142.9 580.3,142.9 581.5,142.9 582.7,142.9 583.9,142.9 585.1,142.9 586.3,142.9 587.5,142.9 588.7,142.9" fill="none" stroke="#444444" stroke-width="1.2"/><polyline points="455.5,142.9 456.7,142.9 457.9,142.9 459.1,142.9 460.3,142.9 461.5,142.8 462.7,142.8 463.9,142.8 465.1,142.7 466.3,142.7 467.5,142.6 468.7,142.6 469.9,142.5 471.1,142.4 472.3,142.1 473.5,141.9 474.7,141.7 475.9,141.7 477.1,141.9 478.3,142.1 479.5,142.3 480.7,142.3 481.9,142.3 483.1,142.2 484.3,142.1 485.5,142.1 486.7,142 487.9,141.9 489.1,141.8 490.3,141.7 491.5,141.6 492.7,141.4 493.9,141.3 495.1,141.2 496.3,141 497.5,140.8 498.7,140.7 499.9,140.5 501.1,140.3 502.3,140.1 503.5,139.8 504.7,139.5 505.9,139.2 507.1,138.6 508.3,137.9 509.5,137.1 510.7,136.2 511.9,135.2 513.1,134.3 514.3,133.4 515.5,132.4 516.7,131.4 517.9,130.2 519.1,129 520.3,127.5 521.5,125.9 522.7,124 523.9,122 525.1,119.6 526.3,116.6 527.5,112.8 528.7,108.1 529.9,102.4 531.1,95.1 532.3,84.6 533.5,73 534.7,62 535.9,53.5 537.1,47 538.3,43.6 539.5,42.1 540.7,45 541.9,46.8 543.1,48 544.3,50.1 545.5,55.4 546.7,65 547.9,85.3 549.1,100.2 550.3,110.4 551.5,118.7 552.7,126.3 553.9,132.6 555.1,137.7 556.3,141.1 557.5,142.9 558.7,142.9 559.9,142.9 561.1,142.9 562.3,142.9 563.5,142.9 564.7,142.9 565.9,142.9 567.1,142.9 568.3,142.9 569.5,142.9 570.7,142.9 571.9,142.9 573.1,142.9 574.3,142.9 575.5,142.9 576.7,142.9 577.9,142.9 579.1,142.9 580.3,142.9 581.5,142.9 582.7,142.9 583.9,142.9 585.1,142.9 586.3,142.9 587.5,142.9 588.7,142.9" fill="none" stroke="#222222" stroke-width="1.4"/><polyline points="455.5,142.9 456.7,142.9 457.9,142.9 459.1,142.9 460.3,142.9 461.5,142.8 462.7,142.8 463.9,142.8 465.1,142.7 466.3,142.7 467.5,142.6 468.7,142.6 469.9,142.5 471.1,142.4 472.3,142.1 473.5,141.9 474.7,141.7 475.9,141.7 477.1,141.9 478.3,142.1 479.5,142.3 480.7,142.3 481.9,142.3 483.1,142.2 484.3,142.1 485.5,142.1 486.7,142 487.9,141.9 489.1,141.8 490.3,141.7 491.5,141.6 492.7,141.4 493.9,141.3 495.1,141.2 496.3,141 497.5,140.8 498.7,140.7 499.9,140.5 501.1,140.3 502.3,140.1 503.5,139.8 504.7,139.5 505.9,139.2 507.1,138.6 508.3,137.9 509.5,137.1 510.7,136.2 511.9,135.2 513.1,134.3 514.3,133.4 515.5,132.4 516.7,131.4 517.9,130.2 519.1,129 520.3,127.5 521.5,125.9 522.7,124 523.9,122 525.1,119.6 526.3,116.6 527.5,112.8 528.7,108.1 529.9,102.4 531.1,95.1 532.3,84.6 533.5,73 534.7,62 535.9,53.8 537.1,47.4 538.3,42.6 539.5,39 540.7,38.4 541.9,38.7 543.1,43.4 544.3,49.5 545.5,55.4 546.7,65.1 547.9,85.3 549.1,100.2 550.3,110.4 551.5,118.7 552.7,126.3 553.9,132.6 555.1,137.7 556.3,141.1 557.5,142.9 558.7,142.9 559.9,142.9 561.1,142.9 562.3,142.9 563.5,142.9 564.7,142.9 565.9,142.9 567.1,142.9 568.3,142.9 569.5,142.9 570.7,142.9 571.9,142.9 573.1,142.9 574.3,142.9 575.5,142.9 576.7,142.9 577.9,142.9 579.1,142.9 580.3,142.9 581.5,142.9 582.7,142.9 583.9,142.9 585.1,142.9 586.3,142.9 587.5,142.9 588.7,142.9" fill="none" stroke="#000000" stroke-width="1.6"/><path d="M451.5 142.9L455.5 142.9M451.5 118.6L455.5 118.6M451.5 94.3L455.5 94.3M451.5 70L455.5 70M451.5 45.7L455.5 45.7M451.5 21.4L455.5 21.4M451.5 298.9L455.5 298.9M451.5 274.6L455.5 274.6M451.5 250.3L455.5 250.3M451.5 226L455.5 226M451.5 201.7L455.5 201.7M451.5 177.4L455.5 177.4" stroke="#222" stroke-width="1.3" fill="none"/><path d="M453.7 136.8L455.5 136.8M453.7 130.7L455.5 130.7M453.7 124.7L455.5 124.7M453.7 112.5L455.5 112.5M453.7 106.4L455.5 106.4M453.7 100.4L455.5 100.4M453.7 88.2L455.5 88.2M453.7 82.1L455.5 82.1M453.7 76.1L455.5 76.1M453.7 63.9L455.5 63.9M453.7 57.8L455.5 57.8M453.7 51.8L455.5 51.8M453.7 39.6L455.5 39.6M453.7 33.5L455.5 33.5M453.7 27.5L455.5 27.5M453.7 292.8L455.5 292.8M453.7 286.8L455.5 286.8M453.7 280.7L455.5 280.7M453.7 268.5L455.5 268.5M453.7 262.4L455.5 262.4M453.7 256.4L455.5 256.4M453.7 244.2L455.5 244.2M453.7 238.1L455.5 238.1M453.7 232.1L455.5 232.1M453.7 219.9L455.5 219.9M453.7 213.8L455.5 213.8M453.7 207.8L455.5 207.8M453.7 195.6L455.5 195.6M453.7 189.5L455.5 189.5M453.7 183.5L455.5 183.5" stroke="#222" stroke-width="0.6" fill="none"/><text x="448.8" y="145.8" font-size="5.8" text-anchor="end" fill="#111">0</text><text x="448.8" y="121.5" font-size="5.8" text-anchor="end" fill="#111">20</text><text x="448.8" y="97.2" font-size="5.8" text-anchor="end" fill="#111">40</text><text x="448.8" y="72.9" font-size="5.8" text-anchor="end" fill="#111">60</text><text x="448.8" y="48.6" font-size="5.8" text-anchor="end" fill="#111">80</text><text x="448.8" y="24.3" font-size="5.8" text-anchor="end" fill="#111">100</text><text x="439.8" y="78.6" font-size="7.3" text-anchor="middle" fill="#111" transform="rotate(-90 439.8 78.6)">Count</text><path d="M475.3 143.2L475.3 146.2M502.6 143.2L502.6 146.2M530 143.2L530 146.2M557.6 143.2L557.6 146.2M585.2 143.2L585.2 146.2M594.8 146.4L596.2 146.4M602.3 146.4L603.7 146.4M609.8 146.4L611.2 146.4M617.8 146.4L619.2 146.4M625.8 146.4L627.2 146.4M475.3 299.2L475.3 302.2M502.6 299.2L502.6 302.2M530 299.2L530 302.2M557.6 299.2L557.6 302.2M585.2 299.2L585.2 302.2M594.8 302.4L596.2 302.4M602.3 302.4L603.7 302.4M609.8 302.4L611.2 302.4M617.8 302.4L619.2 302.4M625.8 302.4L627.2 302.4" stroke="#333" stroke-width="1.0" fill="none"/><path d="M483.5 143.2L483.5 144.8M488.3 143.2L488.3 144.8M491.7 143.2L491.7 144.8M494.4 143.2L494.4 144.8M496.5 143.2L496.5 144.8M498.4 143.2L498.4 144.8M500 143.2L500 144.8M501.4 143.2L501.4 144.8M510.8 143.2L510.8 144.8M515.7 143.2L515.7 144.8M519.1 143.2L519.1 144.8M521.8 143.2L521.8 144.8M523.9 143.2L523.9 144.8M525.8 143.2L525.8 144.8M527.3 143.2L527.3 144.8M528.7 143.2L528.7 144.8M538.3 143.2L538.3 144.8M543.2 143.2L543.2 144.8M546.6 143.2L546.6 144.8M549.3 143.2L549.3 144.8M551.5 143.2L551.5 144.8M553.3 143.2L553.3 144.8M554.9 143.2L554.9 144.8M556.3 143.2L556.3 144.8M565.9 143.2L565.9 144.8M570.8 143.2L570.8 144.8M574.2 143.2L574.2 144.8M576.9 143.2L576.9 144.8M579.1 143.2L579.1 144.8M580.9 143.2L580.9 144.8M582.5 143.2L582.5 144.8M583.9 143.2L583.9 144.8M457.8 143.2L457.8 144.8M460.6 143.2L460.6 144.8M463.4 143.2L463.4 144.8M466.2 143.2L466.2 144.8M469 143.2L469 144.8M471.8 143.2L471.8 144.8M474.6 143.2L474.6 144.8M483.5 299.2L483.5 300.8M488.3 299.2L488.3 300.8M491.7 299.2L491.7 300.8M494.4 299.2L494.4 300.8M496.5 299.2L496.5 300.8M498.4 299.2L498.4 300.8M500 299.2L500 300.8M501.4 299.2L501.4 300.8M510.8 299.2L510.8 300.8M515.7 299.2L515.7 300.8M519.1 299.2L519.1 300.8M521.8 299.2L521.8 300.8M523.9 299.2L523.9 300.8M525.8 299.2L525.8 300.8M527.3 299.2L527.3 300.8M528.7 299.2L528.7 300.8M538.3 299.2L538.3 300.8M543.2 299.2L543.2 300.8M546.6 299.2L546.6 300.8M549.3 299.2L549.3 300.8M551.5 299.2L551.5 300.8M553.3 299.2L553.3 300.8M554.9 299.2L554.9 300.8M556.3 299.2L556.3 300.8M565.9 299.2L565.9 300.8M570.8 299.2L570.8 300.8M574.2 299.2L574.2 300.8M576.9 299.2L576.9 300.8M579.1 299.2L579.1 300.8M580.9 299.2L580.9 300.8M582.5 299.2L582.5 300.8M583.9 299.2L583.9 300.8M457.8 299.2L457.8 300.8M460.6 299.2L460.6 300.8M463.4 299.2L463.4 300.8M466.2 299.2L466.2 300.8M469 299.2L469 300.8M471.8 299.2L471.8 300.8M474.6 299.2L474.6 300.8" stroke="#333" stroke-width="0.6" fill="none"/><text x="475.6" y="158.1" font-size="5.6" text-anchor="middle" fill="#111">0</text><text x="502.9" y="158.1" font-size="5.6" text-anchor="middle" fill="#111">10</text><text x="508.1" y="154" font-size="5" text-anchor="middle" fill="#111">1</text><text x="531" y="158.1" font-size="5.6" text-anchor="middle" fill="#111">10</text><text x="536.2" y="154" font-size="5" text-anchor="middle" fill="#111">2</text><text x="558.9" y="158.1" font-size="5.6" text-anchor="middle" fill="#111">10</text><text x="564.1" y="154" font-size="5" text-anchor="middle" fill="#111">3</text><text x="582" y="158.1" font-size="5.6" text-anchor="middle" fill="#111">10</text><text x="587.2" y="154" font-size="5" text-anchor="middle" fill="#111">4</text><text x="528.3" y="165.2" font-size="7.2" text-anchor="middle" fill="#111">OCT4</text><polygon points="588.7,31.3 588.7,31.3 589.5,31.3 590.3,31.3 591.1,31.3 591.9,31.3 592.7,31.3 593.5,31.3 594.3,31.3 595.1,31.2 595.9,31.2 596.7,31.2 597.5,31.2 598.3,31.2 599.1,31.2 599.9,31.2 600.7,31.1 601.5,31.1 602.3,31.1 603.1,31 603.9,31 604.7,30.9 605.5,30.8 606.3,30.7 607.1,30.5 607.9,30.2 608.7,29.7 609.5,29 610.3,28.2 611.1,26.4 611.9,24.1 612.7,21.8 613.5,19.3 614.3,18.3 615.1,20.7 615.9,24.1 616.7,28 617.5,30 618.3,30.9 619.1,31.2 619.9,31.3 620.7,31.3 621.5,31.3 622.3,31.3 623.1,31.3 623.9,31.3 624.7,31.3 625.5,31.3 626.3,31.3 627.1,31.3 627.9,31.3 628.4,31.3" fill="#000000" stroke="#000000" stroke-width=".5"/><polygon points="588.7,47.3 588.7,47.3 589.5,47.3 590.3,47.3 591.1,47.3 591.9,47.3 592.7,47.3 593.5,47.3 594.3,47.2 595.1,47.2 595.9,47.2 596.7,47.2 597.5,47.2 598.3,47.2 599.1,47.2 599.9,47.1 600.7,47.1 601.5,47.1 602.3,47.1 603.1,47 603.9,47 604.7,46.9 605.5,46.8 606.3,46.7 607.1,46.5 607.9,46.2 608.7,45.7 609.5,45 610.3,44.1 611.1,42.4 611.9,40.1 612.7,37.8 613.5,35.3 614.3,34.3 615.1,36.7 615.9,40.1 616.7,44 617.5,46 618.3,46.9 619.1,47.2 619.9,47.3 620.7,47.3 621.5,47.3 622.3,47.3 623.1,47.3 623.9,47.3 624.7,47.3 625.5,47.3 626.3,47.3 627.1,47.3 627.9,47.3 628.4,47.3" fill="#383838" stroke="#383838" stroke-width=".5"/><polygon points="588.7,63.3 588.7,63.3 589.5,63.3 590.3,63.3 591.1,63.3 591.9,63.3 592.7,63.2 593.5,63.2 594.3,63.2 595.1,63.2 595.9,63.2 596.7,63.2 597.5,63.2 598.3,63.2 599.1,63.1 599.9,63.1 600.7,63.1 601.5,63.1 602.3,63.1 603.1,63 603.9,63 604.7,62.9 605.5,62.8 606.3,62.6 607.1,62.5 607.9,62.2 608.7,61.7 609.5,61 610.3,60.1 611.1,58.4 611.9,56.1 612.7,53.8 613.5,51.3 614.3,50.3 615.1,52.7 615.9,56.1 616.7,60 617.5,62 618.3,62.9 619.1,63.2 619.9,63.3 620.7,63.3 621.5,63.3 622.3,63.3 623.1,63.3 623.9,63.3 624.7,63.3 625.5,63.3 626.3,63.3 627.1,63.3 627.9,63.3 628.4,63.3" fill="#4c4c4c" stroke="#4c4c4c" stroke-width=".5"/><polygon points="588.7,79.2 588.7,79.2 589.5,79.2 590.3,79.2 591.1,79.2 591.9,79.2 592.7,79.2 593.5,79.2 594.3,79.2 595.1,79.2 595.9,79.2 596.7,79.2 597.5,79.2 598.3,79.1 599.1,79.1 599.9,79.1 600.7,79.1 601.5,79.1 602.3,79 603.1,79 603.9,79 604.7,78.9 605.5,78.8 606.3,78.6 607.1,78.5 607.9,78.2 608.7,77.7 609.5,77 610.3,76.1 611.1,74.4 611.9,72.1 612.7,69.8 613.5,67.3 614.3,66.3 615.1,68.6 615.9,72.1 616.7,75.9 617.5,78 618.3,78.8 619.1,79.2 619.9,79.2 620.7,79.2 621.5,79.2 622.3,79.2 623.1,79.2 623.9,79.2 624.7,79.2 625.5,79.2 626.3,79.2 627.1,79.2 627.9,79.2 628.4,79.2" fill="#6c6c6c" stroke="#6c6c6c" stroke-width=".5"/><polygon points="588.7,95.2 588.7,95.2 589.5,95.2 590.3,95.2 591.1,95.2 591.9,95.2 592.7,95.2 593.5,95.2 594.3,95.2 595.1,95.2 595.9,95.2 596.7,95.2 597.5,95.2 598.3,95.1 599.1,95.1 599.9,95.1 600.7,95.1 601.5,95.1 602.3,95 603.1,95 603.9,94.9 604.7,94.9 605.5,94.7 606.3,94.6 607.1,94.5 607.9,94.2 608.7,93.7 609.5,93 610.3,92.1 611.1,90.3 611.9,88 612.7,85.8 613.5,83.2 614.3,82.3 615.1,84.6 615.9,88.1 616.7,91.9 617.5,94 618.3,94.8 619.1,95.2 619.9,95.2 620.7,95.2 621.5,95.2 622.3,95.2 623.1,95.2 623.9,95.2 624.7,95.2 625.5,95.2 626.3,95.2 627.1,95.2 627.9,95.2 628.4,95.2" fill="#8a8a8a" stroke="#8a8a8a" stroke-width=".5"/><polygon points="588.7,111.2 588.7,111.2 589.5,111.2 590.3,111.2 591.1,111.2 591.9,111.2 592.7,111.2 593.5,111.2 594.3,111.2 595.1,111.2 595.9,111.2 596.7,111.2 597.5,111.1 598.3,111.1 599.1,111.1 599.9,111.1 600.7,111.1 601.5,111 602.3,111 603.1,111 603.9,110.9 604.7,110.8 605.5,110.7 606.3,110.6 607.1,110.4 607.9,110.2 608.7,109.7 609.5,109 610.3,108.1 611.1,106.3 611.9,104 612.7,101.7 613.5,99.2 614.3,98.3 615.1,100.6 615.9,104.1 616.7,107.9 617.5,109.9 618.3,110.8 619.1,111.2 619.9,111.2 620.7,111.2 621.5,111.2 622.3,111.2 623.1,111.2 623.9,111.2 624.7,111.2 625.5,111.2 626.3,111.2 627.1,111.2 627.9,111.2 628.4,111.2" fill="#a4a4a4" stroke="#a4a4a4" stroke-width=".5"/><polygon points="588.7,127.2 588.7,127.2 589.5,127.2 590.3,127.2 591.1,127.2 591.9,127.2 592.7,127.2 593.5,127.2 594.3,127.2 595.1,127.2 595.9,127.2 596.7,127.1 597.5,127.1 598.3,127.1 599.1,127.1 599.9,127.1 600.7,127.1 601.5,127 602.3,127 603.1,127 603.9,126.9 604.7,126.8 605.5,126.7 606.3,126.6 607.1,126.4 607.9,126.2 608.7,125.7 609.5,125 610.3,124.1 611.1,122.3 611.9,120 612.7,117.7 613.5,115.2 614.3,114.3 615.1,116.6 615.9,120 616.7,123.9 617.5,125.9 618.3,126.8 619.1,127.2 619.9,127.2 620.7,127.2 621.5,127.2 622.3,127.2 623.1,127.2 623.9,127.2 624.7,127.2 625.5,127.2 626.3,127.2 627.1,127.2 627.9,127.2 628.4,127.2" fill="#c0c0c0" stroke="#c0c0c0" stroke-width=".5"/><polygon points="588.7,143.2 588.7,143.2 589.5,143.2 590.3,143.2 591.1,143.2 591.9,143.2 592.7,143.2 593.5,143.2 594.3,143.2 595.1,143.2 595.9,143.1 596.7,143.1 597.5,143.1 598.3,143.1 599.1,143.1 599.9,143.1 600.7,143 601.5,143 602.3,143 603.1,143 603.9,142.9 604.7,142.8 605.5,142.7 606.3,142.6 607.1,142.4 607.9,142.2 608.7,141.7 609.5,141 610.3,140.1 611.1,138.3 611.9,136 612.7,133.7 613.5,131.2 614.3,130.2 615.1,132.6 615.9,136 616.7,139.9 617.5,141.9 618.3,142.8 619.1,143.1 619.9,143.2 620.7,143.2 621.5,143.2 622.3,143.2 623.1,143.2 623.9,143.2 624.7,143.2 625.5,143.2 626.3,143.2 627.1,143.2 627.9,143.2 628.4,143.2" fill="#dadada" stroke="#dadada" stroke-width=".5"/><path d="M588.7 15.3L665.2 15.3M588.7 31.3L665.2 31.3M588.7 47.3L665.2 47.3M588.7 63.3L665.2 63.3M588.7 79.2L665.2 79.2M588.7 95.2L665.2 95.2M588.7 111.2L665.2 111.2M588.7 127.2L665.2 127.2M588.7 143.2L665.2 143.2M588.7 15.3L588.7 143.2M628.4 15.3L628.4 143.2M640.8 15.3L640.8 143.2M652.7 15.3L652.7 143.2M665.2 15.3L665.2 143.2M588.7 171.3L666.4 171.3M588.7 187.3L666.4 187.3M588.7 203.3L666.4 203.3M588.7 219.3L666.4 219.3M588.7 235.2L666.4 235.2M588.7 251.2L666.4 251.2M588.7 267.2L666.4 267.2M588.7 283.2L666.4 283.2M588.7 299.2L666.4 299.2M588.7 171.3L588.7 299.2M626 171.3L626 299.2M639.9 171.3L639.9 299.2M653 171.3L653 299.2M666.4 171.3L666.4 299.2" stroke="#555" stroke-width="0.8" fill="none"/><path d="M590.7 143.2L590.7 145M595.2 143.2L595.2 145M599.7 143.2L599.7 145M604.2 143.2L604.2 145M608.7 143.2L608.7 145M613.2 143.2L613.2 145M617.7 143.2L617.7 145M622.2 143.2L622.2 145M626.7 143.2L626.7 145M590.7 299.2L590.7 301M595.2 299.2L595.2 301M599.7 299.2L599.7 301M604.2 299.2L604.2 301M608.7 299.2L608.7 301M613.2 299.2L613.2 301M617.7 299.2L617.7 301M622.2 299.2L622.2 301M626.7 299.2L626.7 301" stroke="#333" stroke-width="0.7" fill="none"/><text x="632.9" y="15.5" font-size="8" fill="#111" transform="rotate(-30 632.9 15.5)">Pt194</text><text x="645.3" y="15.5" font-size="8" fill="#111" transform="rotate(-30 645.3 15.5)">Pt195</text><text x="657.2" y="15.5" font-size="8" fill="#111" transform="rotate(-30 657.2 15.5)">Pt196</text><polyline points="455.5,298.9 456.7,298.9 457.9,298.9 459.1,298.9 460.3,298.8 461.5,298.8 462.7,298.8 463.9,298.7 465.1,298.7 466.3,298.7 467.5,298.6 468.7,298.6 469.9,298.5 471.1,298.5 472.3,298.4 473.5,298.4 474.7,298.3 475.9,298.2 477.1,298.1 478.3,298 479.5,298 480.7,297.9 481.9,297.8 483.1,297.8 484.3,297.7 485.5,297.6 486.7,297.6 487.9,297.5 489.1,297.5 490.3,297.4 491.5,297.3 492.7,297.3 493.9,297.2 495.1,297.1 496.3,297 497.5,296.9 498.7,296.8 499.9,296.6 501.1,296.5 502.3,296.3 503.5,296.1 504.7,295.9 505.9,295.6 507.1,295.3 508.3,294.9 509.5,294 510.7,292.8 511.9,291.7 513.1,290.6 514.3,289.5 515.5,288.2 516.7,286.8 517.9,284.9 519.1,282.6 520.3,280 521.5,276.7 522.7,273.1 523.9,269.5 525.1,265.8 526.3,261.8 527.5,257 528.7,250.5 529.9,241.5 531.1,232.4 532.3,222.9 533.5,213.9 534.7,203.9 535.9,194.3 537.1,189.6 538.3,190.9 539.5,193.9 540.7,196.7 541.9,201.8 543.1,216.3 544.3,233.5 545.5,245.8 546.7,257.2 547.9,270.1 549.1,278.4 550.3,284.3 551.5,288.6 552.7,292 553.9,294.9 555.1,296.9 556.3,298.1 557.5,298.8 558.7,298.9 559.9,298.9 561.1,298.9 562.3,298.9 563.5,298.9 564.7,298.9 565.9,298.9 567.1,298.9 568.3,298.9 569.5,298.9 570.7,298.9 571.9,298.9 573.1,298.9 574.3,298.9 575.5,298.9 576.7,298.9 577.9,298.9 579.1,298.9 580.3,298.9 581.5,298.9 582.7,298.9 583.9,298.9 585.1,298.9 586.3,298.9 587.5,298.9 588.7,298.9" fill="none" stroke="#dcdcdc" stroke-width="1.0"/><polyline points="455.5,298.9 456.7,298.9 457.9,298.9 459.1,298.9 460.3,298.8 461.5,298.8 462.7,298.8 463.9,298.7 465.1,298.7 466.3,298.7 467.5,298.6 468.7,298.6 469.9,298.5 471.1,298.5 472.3,298.4 473.5,298.4 474.7,298.3 475.9,298.2 477.1,298.1 478.3,298 479.5,298 480.7,297.9 481.9,297.8 483.1,297.8 484.3,297.7 485.5,297.6 486.7,297.6 487.9,297.5 489.1,297.5 490.3,297.4 491.5,297.3 492.7,297.3 493.9,297.2 495.1,297.1 496.3,297 497.5,296.9 498.7,296.8 499.9,296.6 501.1,296.5 502.3,296.3 503.5,296.1 504.7,295.9 505.9,295.7 507.1,295.3 508.3,294.7 509.5,293.5 510.7,292 511.9,290.5 513.1,289.3 514.3,288.2 515.5,287 516.7,285.5 517.9,283.7 519.1,281.4 520.3,278.8 521.5,275.5 522.7,271.9 523.9,268.4 525.1,265 526.3,261.4 527.5,256.9 528.7,250.5 529.9,241.5 531.1,232.4 532.3,222.9 533.5,213.9 534.7,204.3 535.9,195.5 537.1,192 538.3,193.9 539.5,196.8 540.7,199.3 541.9,204 543.1,217.5 544.3,233.6 545.5,245.7 546.7,257.2 547.9,270.1 549.1,278.4 550.3,284.3 551.5,288.6 552.7,292 553.9,294.9 555.1,296.9 556.3,298.1 557.5,298.8 558.7,298.9 559.9,298.9 561.1,298.9 562.3,298.9 563.5,298.9 564.7,298.9 565.9,298.9 567.1,298.9 568.3,298.9 569.5,298.9 570.7,298.9 571.9,298.9 573.1,298.9 574.3,298.9 575.5,298.9 576.7,298.9 577.9,298.9 579.1,298.9 580.3,298.9 581.5,298.9 582.7,298.9 583.9,298.9 585.1,298.9 586.3,298.9 587.5,298.9 588.7,298.9" fill="none" stroke="#c4c4c4" stroke-width="1.0"/><polyline points="455.5,298.9 456.7,298.9 457.9,298.9 459.1,298.9 460.3,298.8 461.5,298.8 462.7,298.8 463.9,298.7 465.1,298.7 466.3,298.7 467.5,298.6 468.7,298.6 469.9,298.5 471.1,298.5 472.3,298.4 473.5,298.4 474.7,298.3 475.9,298.2 477.1,298.1 478.3,298 479.5,298 480.7,297.9 481.9,297.8 483.1,297.8 484.3,297.7 485.5,297.6 486.7,297.6 487.9,297.5 489.1,297.5 490.3,297.4 491.5,297.3 492.7,297.3 493.9,297.2 495.1,297.1 496.3,297 497.5,296.9 498.7,296.7 499.9,296.6 501.1,296.4 502.3,296.3 503.5,296.1 504.7,295.9 505.9,295.6 507.1,295.3 508.3,295 509.5,294.4 510.7,293.7 511.9,292.9 513.1,292 514.3,290.8 515.5,289.5 516.7,288 517.9,286.1 519.1,283.8 520.3,281.2 521.5,278 522.7,274.3 523.9,270.5 525.1,266.6 526.3,262.2 527.5,257.1 528.7,250.4 529.9,241.5 531.1,232.3 532.3,222.3 533.5,213.9 534.7,206.8 535.9,200.2 537.1,195.6 538.3,194.8 539.5,200.7 540.7,204.1 541.9,205.2 543.1,217.3 544.3,233.6 545.5,245.6 546.7,257.2 547.9,270.1 549.1,278.4 550.3,284.3 551.5,288.6 552.7,292 553.9,294.9 555.1,296.9 556.3,298.1 557.5,298.8 558.7,298.9 559.9,298.9 561.1,298.9 562.3,298.9 563.5,298.9 564.7,298.9 565.9,298.9 567.1,298.9 568.3,298.9 569.5,298.9 570.7,298.9 571.9,298.9 573.1,298.9 574.3,298.9 575.5,298.9 576.7,298.9 577.9,298.9 579.1,298.9 580.3,298.9 581.5,298.9 582.7,298.9 583.9,298.9 585.1,298.9 586.3,298.9 587.5,298.9 588.7,298.9" fill="none" stroke="#a8a8a8" stroke-width="1.0"/><polyline points="455.5,298.9 456.7,298.9 457.9,298.9 459.1,298.9 460.3,298.8 461.5,298.8 462.7,298.8 463.9,298.7 465.1,298.7 466.3,298.7 467.5,298.6 468.7,298.6 469.9,298.5 471.1,298.5 472.3,298.4 473.5,298.4 474.7,298.3 475.9,298.2 477.1,298.1 478.3,298 479.5,298 480.7,297.9 481.9,297.8 483.1,297.8 484.3,297.7 485.5,297.6 486.7,297.6 487.9,297.5 489.1,297.5 490.3,297.4 491.5,297.3 492.7,297.3 493.9,297.2 495.1,297.1 496.3,297 497.5,296.8 498.7,296.7 499.9,296.5 501.1,296.4 502.3,296.2 503.5,296 504.7,295.8 505.9,295.5 507.1,295.3 508.3,295.1 509.5,294.8 510.7,294.5 511.9,294.1 513.1,293.4 514.3,292.2 515.5,290.8 516.7,289.2 517.9,287.3 519.1,285 520.3,282.4 521.5,279.2 522.7,275.6 523.9,271.6 525.1,267.4 526.3,262.7 527.5,257.2 528.7,250.3 529.9,241.4 531.1,232.3 532.3,222.4 533.5,213.9 534.7,206.5 535.9,199.8 537.1,195.9 538.3,196.4 539.5,199.2 540.7,202.4 541.9,207.8 543.1,219.7 544.3,233.8 545.5,245.6 546.7,257.2 547.9,270.1 549.1,278.4 550.3,284.3 551.5,288.6 552.7,292 553.9,294.9 555.1,296.9 556.3,298.1 557.5,298.8 558.7,298.9 559.9,298.9 561.1,298.9 562.3,298.9 563.5,298.9 564.7,298.9 565.9,298.9 567.1,298.9 568.3,298.9 569.5,298.9 570.7,298.9 571.9,298.9 573.1,298.9 574.3,298.9 575.5,298.9 576.7,298.9 577.9,298.9 579.1,298.9 580.3,298.9 581.5,298.9 582.7,298.9 583.9,298.9 585.1,298.9 586.3,298.9 587.5,298.9 588.7,298.9" fill="none" stroke="#8c8c8c" stroke-width="1.0"/><polyline points="455.5,298.9 456.7,298.9 457.9,298.9 459.1,298.9 460.3,298.8 461.5,298.8 462.7,298.8 463.9,298.7 465.1,298.7 466.3,298.7 467.5,298.6 468.7,298.6 469.9,298.5 471.1,298.5 472.3,298.4 473.5,298.4 474.7,298.3 475.9,298.2 477.1,298.1 478.3,298 479.5,298 480.7,297.9 481.9,297.8 483.1,297.8 484.3,297.7 485.5,297.6 486.7,297.6 487.9,297.5 489.1,297.5 490.3,297.4 491.5,297.3 492.7,297.3 493.9,297.2 495.1,297.1 496.3,297 497.5,296.9 498.7,296.7 499.9,296.6 501.1,296.4 502.3,296.3 503.5,296.1 504.7,295.9 505.9,295.6 507.1,295.3 508.3,295 509.5,294.4 510.7,293.7 511.9,292.9 513.1,292 514.3,290.8 515.5,289.5 516.7,288 517.9,286.1 519.1,283.8 520.3,281.2 521.5,278 522.7,274.3 523.9,270.5 525.1,266.6 526.3,262.2 527.5,257.1 528.7,250.4 529.9,241.5 531.1,232.2 532.3,222.1 533.5,213.9 534.7,207.5 535.9,201.8 537.1,197.9 538.3,197.3 539.5,204.7 540.7,208.7 541.9,207.5 543.1,218.6 544.3,233.8 545.5,245.5 546.7,257.2 547.9,270.1 549.1,278.4 550.3,284.3 551.5,288.6 552.7,292 553.9,294.9 555.1,296.9 556.3,298.1 557.5,298.8 558.7,298.9 559.9,298.9 561.1,298.9 562.3,298.9 563.5,298.9 564.7,298.9 565.9,298.9 567.1,298.9 568.3,298.9 569.5,298.9 570.7,298.9 571.9,298.9 573.1,298.9 574.3,298.9 575.5,298.9 576.7,298.9 577.9,298.9 579.1,298.9 580.3,298.9 581.5,298.9 582.7,298.9 583.9,298.9 585.1,298.9 586.3,298.9 587.5,298.9 588.7,298.9" fill="none" stroke="#6a6a6a" stroke-width="1.1"/><polyline points="455.5,298.9 456.7,298.9 457.9,298.9 459.1,298.9 460.3,298.8 461.5,298.8 462.7,298.8 463.9,298.7 465.1,298.7 466.3,298.7 467.5,298.6 468.7,298.6 469.9,298.5 471.1,298.5 472.3,298.4 473.5,298.4 474.7,298.3 475.9,298.2 477.1,298.1 478.3,298 479.5,298 480.7,297.9 481.9,297.8 483.1,297.8 484.3,297.7 485.5,297.6 486.7,297.6 487.9,297.5 489.1,297.5 490.3,297.4 491.5,297.3 492.7,297.3 493.9,297.2 495.1,297.1 496.3,297 497.5,296.9 498.7,296.8 499.9,296.6 501.1,296.5 502.3,296.3 503.5,296.1 504.7,295.9 505.9,295.6 507.1,295.3 508.3,294.9 509.5,294 510.7,292.8 511.9,291.7 513.1,290.6 514.3,289.5 515.5,288.2 516.7,286.8 517.9,284.9 519.1,282.6 520.3,280 521.5,276.7 522.7,273.1 523.9,269.5 525.1,265.8 526.3,261.8 527.5,257 528.7,250.5 529.9,241.5 531.1,232.3 532.3,222.7 533.5,213.9 534.7,205.2 535.9,197.4 537.1,194.4 538.3,196.3 539.5,199.3 540.7,201.7 541.9,206.3 543.1,218.7 544.3,233.7 545.5,245.6 546.7,257.2 547.9,270.1 549.1,278.4 550.3,284.3 551.5,288.6 552.7,292 553.9,294.9 555.1,296.9 556.3,298.1 557.5,298.8 558.7,298.9 559.9,298.9 561.1,298.9 562.3,298.9 563.5,298.9 564.7,298.9 565.9,298.9 567.1,298.9 568.3,298.9 569.5,298.9 570.7,298.9 571.9,298.9 573.1,298.9 574.3,298.9 575.5,298.9 576.7,298.9 577.9,298.9 579.1,298.9 580.3,298.9 581.5,298.9 582.7,298.9 583.9,298.9 585.1,298.9 586.3,298.9 587.5,298.9 588.7,298.9" fill="none" stroke="#444444" stroke-width="1.2"/><polyline points="455.5,298.9 456.7,298.9 457.9,298.9 459.1,298.9 460.3,298.8 461.5,298.8 462.7,298.8 463.9,298.7 465.1,298.7 466.3,298.7 467.5,298.6 468.7,298.6 469.9,298.5 471.1,298.5 472.3,298.4 473.5,298.4 474.7,298.3 475.9,298.2 477.1,298.1 478.3,298 479.5,298 480.7,297.9 481.9,297.8 483.1,297.8 484.3,297.7 485.5,297.6 486.7,297.6 487.9,297.5 489.1,297.5 490.3,297.4 491.5,297.3 492.7,297.3 493.9,297.2 495.1,297.1 496.3,297 497.5,296.9 498.7,296.7 499.9,296.6 501.1,296.4 502.3,296.3 503.5,296.1 504.7,295.9 505.9,295.6 507.1,295.3 508.3,295 509.5,294.4 510.7,293.7 511.9,292.9 513.1,292 514.3,290.8 515.5,289.5 516.7,288 517.9,286.1 519.1,283.8 520.3,281.2 521.5,278 522.7,274.3 523.9,270.5 525.1,266.6 526.3,262.2 527.5,257.1 528.7,250.4 529.9,241.5 531.1,232.2 532.3,222.2 533.5,213.9 534.7,207.3 535.9,202.5 537.1,203.8 538.3,213.5 539.5,215.8 540.7,212.6 541.9,212.2 543.1,221.2 544.3,234.1 545.5,245.3 546.7,257.2 547.9,270.1 549.1,278.4 550.3,284.3 551.5,288.6 552.7,292 553.9,294.9 555.1,296.9 556.3,298.1 557.5,298.8 558.7,298.9 559.9,298.9 561.1,298.9 562.3,298.9 563.5,298.9 564.7,298.9 565.9,298.9 567.1,298.9 568.3,298.9 569.5,298.9 570.7,298.9 571.9,298.9 573.1,298.9 574.3,298.9 575.5,298.9 576.7,298.9 577.9,298.9 579.1,298.9 580.3,298.9 581.5,298.9 582.7,298.9 583.9,298.9 585.1,298.9 586.3,298.9 587.5,298.9 588.7,298.9" fill="none" stroke="#222222" stroke-width="1.4"/><polyline points="455.5,298.9 456.7,298.9 457.9,298.9 459.1,298.9 460.3,298.8 461.5,298.8 462.7,298.8 463.9,298.7 465.1,298.7 466.3,298.7 467.5,298.6 468.7,298.6 469.9,298.5 471.1,298.5 472.3,298.4 473.5,298.4 474.7,298.3 475.9,298.2 477.1,298.1 478.3,298 479.5,298 480.7,297.9 481.9,297.8 483.1,297.8 484.3,297.7 485.5,297.6 486.7,297.6 487.9,297.5 489.1,297.5 490.3,297.4 491.5,297.3 492.7,297.3 493.9,297.2 495.1,297.1 496.3,297 497.5,296.9 498.7,296.7 499.9,296.6 501.1,296.4 502.3,296.3 503.5,296.1 504.7,295.9 505.9,295.6 507.1,295.3 508.3,295 509.5,294.4 510.7,293.7 511.9,292.9 513.1,292 514.3,290.8 515.5,289.5 516.7,288 517.9,286.1 519.1,283.8 520.3,281.2 521.5,278 522.7,274.3 523.9,270.5 525.1,266.6 526.3,262.2 527.5,257.1 528.7,250.4 529.9,241.5 531.1,232.3 532.3,222.7 533.5,213.9 534.7,205.2 535.9,197.1 537.1,193.2 538.3,197.7 539.5,203.9 540.7,203.4 541.9,204 543.1,216.7 544.3,233.5 545.5,245.7 546.7,257.2 547.9,270.1 549.1,278.4 550.3,284.3 551.5,288.6 552.7,292 553.9,294.9 555.1,296.9 556.3,298.1 557.5,298.8 558.7,298.9 559.9,298.9 561.1,298.9 562.3,298.9 563.5,298.9 564.7,298.9 565.9,298.9 567.1,298.9 568.3,298.9 569.5,298.9 570.7,298.9 571.9,298.9 573.1,298.9 574.3,298.9 575.5,298.9 576.7,298.9 577.9,298.9 579.1,298.9 580.3,298.9 581.5,298.9 582.7,298.9 583.9,298.9 585.1,298.9 586.3,298.9 587.5,298.9 588.7,298.9" fill="none" stroke="#000000" stroke-width="1.6"/><text x="448.8" y="301.8" font-size="5.8" text-anchor="end" fill="#111">0</text><text x="448.8" y="277.5" font-size="5.8" text-anchor="end" fill="#111">20</text><text x="448.8" y="253.2" font-size="5.8" text-anchor="end" fill="#111">40</text><text x="448.8" y="228.9" font-size="5.8" text-anchor="end" fill="#111">60</text><text x="448.8" y="204.6" font-size="5.8" text-anchor="end" fill="#111">80</text><text x="448.8" y="180.3" font-size="5.8" text-anchor="end" fill="#111">100</text><text x="439.8" y="234.6" font-size="7.3" text-anchor="middle" fill="#111" transform="rotate(-90 439.8 234.6)">Count</text><text x="475.6" y="314.1" font-size="5.6" text-anchor="middle" fill="#111">0</text><text x="502.9" y="314.1" font-size="5.6" text-anchor="middle" fill="#111">10</text><text x="508.1" y="310" font-size="5" text-anchor="middle" fill="#111">1</text><text x="531" y="314.1" font-size="5.6" text-anchor="middle" fill="#111">10</text><text x="536.2" y="310" font-size="5" text-anchor="middle" fill="#111">2</text><text x="558.9" y="314.1" font-size="5.6" text-anchor="middle" fill="#111">10</text><text x="564.1" y="310" font-size="5" text-anchor="middle" fill="#111">3</text><text x="582" y="314.1" font-size="5.6" text-anchor="middle" fill="#111">10</text><text x="587.2" y="310" font-size="5" text-anchor="middle" fill="#111">4</text><text x="528.3" y="321.2" font-size="7.2" text-anchor="middle" fill="#111">SOX2</text><polygon points="588.7,187.3 588.7,187.3 589.5,187.3 590.3,187.3 591.1,187.3 591.9,187.3 592.7,187.3 593.5,187.3 594.3,187.2 595.1,187.2 595.9,187.2 596.7,187.2 597.5,187.2 598.3,187.1 599.1,187.1 599.9,187.1 600.7,187.1 601.5,187 602.3,187 603.1,186.9 603.9,186.8 604.7,186.6 605.5,186.4 606.3,186.1 607.1,185.5 607.9,184.7 608.7,183.6 609.5,181.5 610.3,179.3 611.1,176.8 611.9,174.6 612.7,174.9 613.5,177.9 614.3,181.7 615.1,184.8 615.9,186.5 616.7,187 617.5,187.3 618.3,187.3 619.1,187.3 619.9,187.3 620.7,187.3 621.5,187.3 622.3,187.3 623.1,187.3 623.9,187.3 624.7,187.3 625.5,187.3 626,187.3" fill="#000000" stroke="#000000" stroke-width=".5"/><polygon points="588.7,203.3 588.7,203.3 589.5,203.3 590.3,203.3 591.1,203.3 591.9,203.3 592.7,203.3 593.5,203.2 594.3,203.2 595.1,203.2 595.9,203.2 596.7,203.2 597.5,203.2 598.3,203.1 599.1,203.1 599.9,203.1 600.7,203.1 601.5,203 602.3,202.9 603.1,202.9 603.9,202.7 604.7,202.6 605.5,202.4 606.3,202.1 607.1,201.5 607.9,200.7 608.7,199.6 609.5,197.5 610.3,195.3 611.1,192.8 611.9,190.6 612.7,190.9 613.5,193.9 614.3,197.7 615.1,200.8 615.9,202.5 616.7,203 617.5,203.3 618.3,203.3 619.1,203.3 619.9,203.3 620.7,203.3 621.5,203.3 622.3,203.3 623.1,203.3 623.9,203.3 624.7,203.3 625.5,203.3 626,203.3" fill="#383838" stroke="#383838" stroke-width=".5"/><polygon points="588.7,219.3 588.7,219.3 589.5,219.3 590.3,219.3 591.1,219.3 591.9,219.2 592.7,219.2 593.5,219.2 594.3,219.2 595.1,219.2 595.9,219.2 596.7,219.2 597.5,219.1 598.3,219.1 599.1,219.1 599.9,219.1 600.7,219 601.5,219 602.3,218.9 603.1,218.8 603.9,218.7 604.7,218.6 605.5,218.4 606.3,218.1 607.1,217.5 607.9,216.7 608.7,215.6 609.5,213.5 610.3,211.3 611.1,208.8 611.9,206.6 612.7,206.9 613.5,209.9 614.3,213.7 615.1,216.8 615.9,218.5 616.7,219 617.5,219.3 618.3,219.3 619.1,219.3 619.9,219.3 620.7,219.3 621.5,219.3 622.3,219.3 623.1,219.3 623.9,219.3 624.7,219.3 625.5,219.3 626,219.3" fill="#4c4c4c" stroke="#4c4c4c" stroke-width=".5"/><polygon points="588.7,235.2 588.7,235.2 589.5,235.2 590.3,235.2 591.1,235.2 591.9,235.2 592.7,235.2 593.5,235.2 594.3,235.2 595.1,235.2 595.9,235.2 596.7,235.2 597.5,235.1 598.3,235.1 599.1,235.1 599.9,235.1 600.7,235 601.5,235 602.3,234.9 603.1,234.8 603.9,234.7 604.7,234.6 605.5,234.4 606.3,234 607.1,233.5 607.9,232.7 608.7,231.6 609.5,229.5 610.3,227.3 611.1,224.8 611.9,222.6 612.7,222.8 613.5,225.9 614.3,229.7 615.1,232.8 615.9,234.5 616.7,235 617.5,235.2 618.3,235.2 619.1,235.2 619.9,235.2 620.7,235.2 621.5,235.2 622.3,235.2 623.1,235.2 623.9,235.2 624.7,235.2 625.5,235.2 626,235.2" fill="#6c6c6c" stroke="#6c6c6c" stroke-width=".5"/><polygon points="588.7,251.2 588.7,251.2 589.5,251.2 590.3,251.2 591.1,251.2 591.9,251.2 592.7,251.2 593.5,251.2 594.3,251.2 595.1,251.2 595.9,251.2 596.7,251.1 597.5,251.1 598.3,251.1 599.1,251.1 599.9,251.1 600.7,251 601.5,251 602.3,250.9 603.1,250.8 603.9,250.7 604.7,250.6 605.5,250.4 606.3,250 607.1,249.5 607.9,248.7 608.7,247.6 609.5,245.5 610.3,243.2 611.1,240.8 611.9,238.6 612.7,238.8 613.5,241.9 614.3,245.7 615.1,248.8 615.9,250.4 616.7,251 617.5,251.2 618.3,251.2 619.1,251.2 619.9,251.2 620.7,251.2 621.5,251.2 622.3,251.2 623.1,251.2 623.9,251.2 624.7,251.2 625.5,251.2 626,251.2" fill="#8a8a8a" stroke="#8a8a8a" stroke-width=".5"/><polygon points="588.7,267.2 588.7,267.2 589.5,267.2 590.3,267.2 591.1,267.2 591.9,267.2 592.7,267.2 593.5,267.2 594.3,267.2 595.1,267.2 595.9,267.1 596.7,267.1 597.5,267.1 598.3,267.1 599.1,267.1 599.9,267 600.7,267 601.5,267 602.3,266.9 603.1,266.8 603.9,266.7 604.7,266.5 605.5,266.4 606.3,266 607.1,265.4 607.9,264.7 608.7,263.6 609.5,261.5 610.3,259.2 611.1,256.7 611.9,254.6 612.7,254.8 613.5,257.8 614.3,261.6 615.1,264.8 615.9,266.4 616.7,267 617.5,267.2 618.3,267.2 619.1,267.2 619.9,267.2 620.7,267.2 621.5,267.2 622.3,267.2 623.1,267.2 623.9,267.2 624.7,267.2 625.5,267.2 626,267.2" fill="#a4a4a4" stroke="#a4a4a4" stroke-width=".5"/><polygon points="588.7,283.2 588.7,283.2 589.5,283.2 590.3,283.2 591.1,283.2 591.9,283.2 592.7,283.2 593.5,283.2 594.3,283.2 595.1,283.2 595.9,283.1 596.7,283.1 597.5,283.1 598.3,283.1 599.1,283.1 599.9,283 600.7,283 601.5,283 602.3,282.9 603.1,282.8 603.9,282.7 604.7,282.5 605.5,282.4 606.3,282 607.1,281.4 607.9,280.7 608.7,279.6 609.5,277.5 610.3,275.2 611.1,272.7 611.9,270.6 612.7,270.8 613.5,273.8 614.3,277.6 615.1,280.8 615.9,282.4 616.7,283 617.5,283.2 618.3,283.2 619.1,283.2 619.9,283.2 620.7,283.2 621.5,283.2 622.3,283.2 623.1,283.2 623.9,283.2 624.7,283.2 625.5,283.2 626,283.2" fill="#c0c0c0" stroke="#c0c0c0" stroke-width=".5"/><polygon points="588.7,299.2 588.7,299.2 589.5,299.2 590.3,299.2 591.1,299.2 591.9,299.2 592.7,299.2 593.5,299.2 594.3,299.2 595.1,299.1 595.9,299.1 596.7,299.1 597.5,299.1 598.3,299.1 599.1,299 599.9,299 600.7,299 601.5,298.9 602.3,298.9 603.1,298.8 603.9,298.7 604.7,298.5 605.5,298.3 606.3,298 607.1,297.4 607.9,296.7 608.7,295.5 609.5,293.5 610.3,291.2 611.1,288.7 611.9,286.6 612.7,286.8 613.5,289.8 614.3,293.6 615.1,296.7 615.9,298.4 616.7,299 617.5,299.2 618.3,299.2 619.1,299.2 619.9,299.2 620.7,299.2 621.5,299.2 622.3,299.2 623.1,299.2 623.9,299.2 624.7,299.2 625.5,299.2 626,299.2" fill="#dadada" stroke="#dadada" stroke-width=".5"/><text x="630.5" y="171.5" font-size="8" fill="#111" transform="rotate(-30 630.5 171.5)">Pt194</text><text x="644.4" y="171.5" font-size="8" fill="#111" transform="rotate(-30 644.4 171.5)">Pt195</text><text x="657.5" y="171.5" font-size="8" fill="#111" transform="rotate(-30 657.5 171.5)">Pt196</text><text x=".6" y="9.7" font-size="11.5" font-weight="bold" fill="#111">a</text><text x="224.6" y="10.9" font-size="11.5" font-weight="bold" fill="#111">b</text><text x="1" y="172.8" font-size="11.5" font-weight="bold" fill="#111">c</text><text x="223.8" y="172.1" font-size="11.5" font-weight="bold" fill="#111">d</text><text x="431.2" y="11.8" font-size="11.5" font-weight="bold" fill="#111">e</text><text x="430.6" y="172.8" font-size="11.5" font-weight="bold" fill="#111">f</text></svg></body></html>
